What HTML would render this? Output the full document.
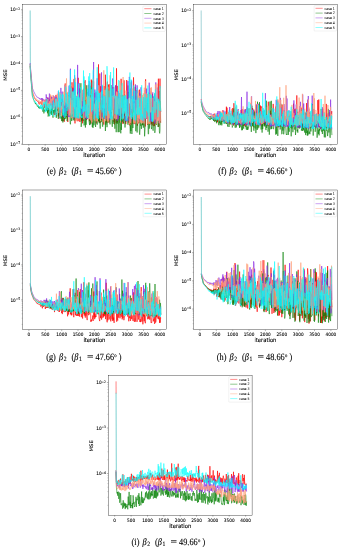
<!DOCTYPE html>
<html><head><meta charset="utf-8"><title>MSE vs iteration</title><style>
html,body{margin:0;padding:0;background:#fff;}
body{width:341px;height:550px;overflow:hidden;}
svg{display:block;}
text{text-rendering:geometricPrecision;}
.tk{font-family:"DejaVu Sans","Liberation Sans",sans-serif;font-size:4.7px;fill:#000;stroke:#000;stroke-width:0.08px;}
.sup{font-size:3.3px;}
.lb{font-family:"DejaVu Sans","Liberation Sans",sans-serif;font-size:5.8px;fill:#000;stroke:#000;stroke-width:0.12px;}
.lg{font-family:"DejaVu Sans","Liberation Sans",sans-serif;font-size:3.5px;fill:#111;stroke:#111;stroke-width:0.05px;}
.cap{font-family:"Liberation Serif",serif;font-size:9.6px;fill:#000;stroke:#000;stroke-width:0.12px;}
.it{font-style:italic;}
.deg{font-size:8px;}
.sub{font-size:6.6px;}
</style></head>
<body><svg width="341" height="550" viewBox="0 0 341 550">
<rect width="341" height="550" fill="#fff"/>
<filter id="soft" x="-5%" y="-5%" width="110%" height="110%"><feGaussianBlur stdDeviation="0.3"/></filter>
<clipPath id="clipe"><rect x="22.3" y="4.6" width="143.9" height="139.8"/></clipPath><g clip-path="url(#clipe)"><g filter="url(#soft)">
<line x1="30.15" y1="10.5" x2="30.32" y2="64" stroke="#33b5b5" stroke-opacity="0.75" stroke-width="0.8"/>
<polyline points="30.1,64.0 30.5,70.0 30.8,73.9 31.1,77.7 31.5,81.6 31.8,85.4 32.1,89.3 32.4,92.3 32.8,93.2 33.1,94.2 33.4,95.2 33.7,96.1 34.1,96.8 34.4,97.5 34.7,98.5 35.1,98.6 35.4,98.9 35.7,99.6 36.0,100.1 36.4,101.0 36.7,100.7 37.0,101.1 37.3,101.2 37.7,101.4 38.0,101.3 38.3,101.4 38.7,103.3 39.0,103.2 39.3,104.4 39.6,103.8 40.0,101.8 40.3,102.9 40.6,101.8 40.9,103.7 41.3,102.5 41.6,104.6 41.9,99.7 42.3,104.5 42.6,105.2 42.9,107.0 43.2,104.5 43.6,104.5 43.9,104.7 44.2,103.9 44.5,107.8 44.9,104.0 45.2,102.0 45.5,101.7 45.9,103.6 46.2,99.1 46.5,106.8 46.8,109.7 47.2,105.4 47.5,109.9 47.8,97.5 48.1,111.3 48.5,107.1 48.8,100.8 49.1,107.1 49.4,99.5 49.8,98.7 50.1,105.6 50.4,99.3 50.8,95.6 51.1,101.9 51.4,111.8 51.7,103.8 52.1,99.6 52.4,100.0 52.7,107.1 53.0,100.3 53.4,97.3 53.7,97.6 54.0,97.9 54.4,115.1 54.7,98.0 55.0,114.8 55.3,114.2 55.7,113.5 56.0,94.9 56.3,114.3 56.6,98.3 57.0,111.2 57.3,98.0 57.6,100.4 58.0,107.6 58.3,116.4 58.6,110.1 58.9,106.8 59.3,118.4 59.6,107.4 59.9,114.9 60.2,94.6 60.6,98.4 60.9,109.2 61.2,100.1 61.6,112.8 61.9,98.9 62.2,112.4 62.5,121.1 62.9,113.5 63.2,112.0 63.5,107.1 63.8,115.7 64.2,121.8 64.5,113.8 64.8,97.3 65.2,83.5 65.5,95.4 65.8,88.4 66.1,103.2 66.5,115.3 66.8,116.8 67.1,93.2 67.4,115.5 67.8,122.0 68.1,113.3 68.4,95.2 68.8,112.3 69.1,108.0 69.4,98.5 69.7,104.4 70.1,89.8 70.4,96.8 70.7,105.0 71.0,86.0 71.4,115.0 71.7,118.2 72.0,82.3 72.3,112.5 72.7,87.7 73.0,99.4 73.3,111.7 73.7,91.9 74.0,78.9 74.3,116.6 74.6,92.1 75.0,123.4 75.3,89.8 75.6,98.9 75.9,115.8 76.3,109.8 76.6,118.9 76.9,120.4 77.3,102.0 77.6,96.1 77.9,121.3 78.2,77.8 78.6,94.3 78.9,120.5 79.2,88.2 79.5,102.8 79.9,122.0 80.2,116.8 80.5,110.0 80.9,104.1 81.2,101.1 81.5,120.7 81.8,113.8 82.2,104.7 82.5,123.3 82.8,112.4 83.1,121.0 83.5,88.7 83.8,102.3 84.1,113.6 84.5,81.8 84.8,89.2 85.1,80.2 85.4,105.3 85.8,118.9 86.1,111.0 86.4,116.6 86.7,119.9 87.1,96.4 87.4,118.9 87.7,118.0 88.1,108.6 88.4,84.8 88.7,108.0 89.0,96.3 89.4,121.2 89.7,116.5 90.0,104.8 90.3,113.2 90.7,85.7 91.0,123.6 91.3,79.6 91.6,98.5 92.0,80.5 92.3,95.0 92.6,111.2 93.0,93.0 93.3,92.7 93.6,81.3 93.9,113.6 94.3,110.3 94.6,119.4 94.9,93.2 95.2,94.5 95.6,108.4 95.9,115.5 96.2,123.5 96.6,115.8 96.9,105.8 97.2,111.9 97.5,112.2 97.9,99.8 98.2,118.5 98.5,64.4 98.8,121.8 99.2,94.8 99.5,104.6 99.8,73.5 100.2,122.8 100.5,86.3 100.8,89.8 101.1,117.8 101.5,119.7 101.8,117.7 102.1,95.4 102.4,121.8 102.8,93.9 103.1,101.6 103.4,110.1 103.8,124.6 104.1,86.0 104.4,116.7 104.7,116.9 105.1,93.6 105.4,74.7 105.7,94.9 106.0,121.6 106.4,114.8 106.7,122.6 107.0,100.8 107.4,81.6 107.7,86.9 108.0,122.4 108.3,112.9 108.7,84.6 109.0,122.5 109.3,84.2 109.6,98.9 110.0,110.1 110.3,117.4 110.6,111.5 110.9,112.1 111.3,85.3 111.6,113.1 111.9,100.2 112.3,110.2 112.6,101.2 112.9,87.0 113.2,99.0 113.6,103.8 113.9,121.8 114.2,98.6 114.5,124.4 114.9,107.2 115.2,87.8 115.5,85.7 115.9,89.4 116.2,123.2 116.5,68.3 116.8,97.5 117.2,85.9 117.5,122.5 117.8,92.8 118.1,117.3 118.5,108.2 118.8,107.6 119.1,105.2 119.5,117.0 119.8,97.3 120.1,95.1 120.4,122.2 120.8,115.9 121.1,78.8 121.4,97.1 121.7,94.8 122.1,112.6 122.4,120.3 122.7,123.0 123.1,123.9 123.4,108.5 123.7,102.6 124.0,80.3 124.4,93.4 124.7,115.8 125.0,108.7 125.3,110.2 125.7,124.1 126.0,122.3 126.3,107.6 126.7,80.0 127.0,113.1 127.3,109.6 127.6,101.0 128.0,85.5 128.3,100.9 128.6,122.8 128.9,123.2 129.3,103.5 129.6,125.3 129.9,113.1 130.3,106.4 130.6,122.8 130.9,124.8 131.2,82.3 131.6,92.7 131.9,117.9 132.2,99.7 132.5,104.3 132.9,123.9 133.2,105.3 133.5,77.4 133.8,87.6 134.2,100.7 134.5,111.6 134.8,124.1 135.2,86.9 135.5,100.3 135.8,96.2 136.1,108.6 136.5,90.1 136.8,119.0 137.1,96.3 137.4,125.7 137.8,108.1 138.1,119.7 138.4,123.3 138.8,123.1 139.1,114.2 139.4,89.6 139.7,91.3 140.1,122.7 140.4,93.7 140.7,111.9 141.0,94.0 141.4,106.1 141.7,112.1 142.0,122.0 142.4,102.6 142.7,124.9 143.0,123.4 143.3,115.6 143.7,111.5 144.0,102.9 144.3,102.6 144.6,100.1 145.0,103.7 145.3,126.5 145.6,79.3 146.0,110.8 146.3,117.9 146.6,118.8 146.9,93.9 147.3,102.5 147.6,124.9 147.9,103.2 148.2,104.4 148.6,119.8 148.9,119.6 149.2,93.5 149.6,115.4 149.9,124.6 150.2,99.1 150.5,106.2 150.9,101.6 151.2,109.8 151.5,124.1 151.8,107.6 152.2,125.4 152.5,94.0 152.8,112.0 153.1,101.1 153.5,96.7 153.8,126.2 154.1,100.6 154.5,126.1 154.8,93.7 155.1,106.4 155.4,111.4 155.8,121.8 156.1,124.2 156.4,102.4 156.7,109.9 157.1,113.2 157.4,116.9 157.7,118.1 158.1,105.5 158.4,78.7 158.7,126.7 159.0,125.5 159.4,91.0 159.7,103.0 160.0,78.6 160.3,111.8 160.7,122.9" fill="none" stroke="#ff0000" stroke-opacity="0.8" stroke-width="0.8" stroke-linejoin="round"/>
<polyline points="30.1,66.0 30.5,73.0 30.8,77.1 31.1,81.1 31.5,85.1 31.8,89.1 32.1,93.2 32.4,96.3 32.8,97.2 33.1,98.2 33.4,99.2 33.7,100.1 34.1,100.7 34.4,102.0 34.7,102.3 35.1,102.6 35.4,103.9 35.7,103.2 36.0,104.0 36.4,104.9 36.7,104.7 37.0,105.3 37.3,106.2 37.7,105.7 38.0,106.9 38.3,106.2 38.7,107.9 39.0,106.8 39.3,108.6 39.6,107.4 40.0,106.6 40.3,108.2 40.6,108.2 40.9,108.1 41.3,108.0 41.6,108.0 41.9,107.2 42.3,109.4 42.6,110.5 42.9,111.7 43.2,107.2 43.6,109.9 43.9,113.4 44.2,111.4 44.5,109.8 44.9,111.4 45.2,106.7 45.5,106.5 45.9,106.0 46.2,103.6 46.5,110.8 46.8,108.2 47.2,108.6 47.5,113.3 47.8,108.5 48.1,116.5 48.5,115.1 48.8,106.9 49.1,112.7 49.4,116.2 49.8,114.2 50.1,109.4 50.4,113.4 50.8,113.3 51.1,111.6 51.4,114.9 51.7,108.9 52.1,110.8 52.4,104.3 52.7,115.5 53.0,117.7 53.4,110.1 53.7,112.8 54.0,113.5 54.4,107.9 54.7,111.5 55.0,105.8 55.3,112.0 55.7,111.7 56.0,108.0 56.3,117.8 56.6,111.5 57.0,110.8 57.3,109.0 57.6,111.0 58.0,111.5 58.3,118.9 58.6,108.5 58.9,110.0 59.3,113.3 59.6,109.4 59.9,101.0 60.2,113.2 60.6,117.4 60.9,118.6 61.2,116.5 61.6,121.1 61.9,114.5 62.2,108.8 62.5,118.6 62.9,122.5 63.2,113.5 63.5,104.4 63.8,121.1 64.2,111.9 64.5,115.5 64.8,119.3 65.2,111.9 65.5,94.4 65.8,118.7 66.1,117.4 66.5,108.2 66.8,116.6 67.1,121.1 67.4,118.9 67.8,114.1 68.1,115.5 68.4,106.6 68.8,104.6 69.1,113.3 69.4,115.5 69.7,109.5 70.1,122.6 70.4,124.3 70.7,120.5 71.0,114.4 71.4,112.4 71.7,121.0 72.0,113.5 72.3,115.3 72.7,107.6 73.0,117.1 73.3,120.3 73.7,115.4 74.0,105.6 74.3,118.1 74.6,118.1 75.0,120.7 75.3,114.7 75.6,116.4 75.9,98.0 76.3,118.0 76.6,118.5 76.9,113.7 77.3,113.9 77.6,96.2 77.9,91.9 78.2,92.8 78.6,118.2 78.9,109.5 79.2,114.9 79.5,108.7 79.9,109.8 80.2,113.5 80.5,112.0 80.9,83.2 81.2,126.9 81.5,122.7 81.8,113.8 82.2,120.4 82.5,99.6 82.8,96.9 83.1,111.1 83.5,114.3 83.8,123.6 84.1,125.4 84.5,123.9 84.8,84.6 85.1,113.8 85.4,127.5 85.8,100.1 86.1,124.8 86.4,118.2 86.7,85.3 87.1,114.1 87.4,117.0 87.7,113.2 88.1,117.4 88.4,116.3 88.7,115.0 89.0,121.2 89.4,124.0 89.7,125.1 90.0,112.0 90.3,124.5 90.7,114.7 91.0,87.5 91.3,109.5 91.6,102.9 92.0,115.7 92.3,127.1 92.6,98.8 93.0,127.9 93.3,114.9 93.6,111.6 93.9,125.3 94.3,121.4 94.6,100.5 94.9,111.8 95.2,123.2 95.6,127.0 95.9,119.8 96.2,118.2 96.6,112.9 96.9,111.5 97.2,124.7 97.5,96.0 97.9,119.1 98.2,116.3 98.5,121.0 98.8,115.7 99.2,123.2 99.5,120.4 99.8,118.0 100.2,128.6 100.5,96.8 100.8,117.7 101.1,96.6 101.5,118.7 101.8,122.1 102.1,111.1 102.4,126.4 102.8,126.7 103.1,115.9 103.4,117.3 103.8,118.5 104.1,113.2 104.4,104.3 104.7,115.2 105.1,99.5 105.4,131.0 105.7,106.7 106.0,124.7 106.4,119.2 106.7,102.7 107.0,127.2 107.4,118.0 107.7,118.5 108.0,88.9 108.3,122.2 108.7,114.2 109.0,115.5 109.3,117.1 109.6,117.3 110.0,124.4 110.3,111.2 110.6,110.1 110.9,112.8 111.3,107.8 111.6,115.0 111.9,123.3 112.3,126.8 112.6,117.4 112.9,116.4 113.2,123.9 113.6,117.6 113.9,107.6 114.2,116.6 114.5,117.7 114.9,128.7 115.2,121.0 115.5,113.1 115.9,110.9 116.2,132.2 116.5,112.3 116.8,116.6 117.2,123.9 117.5,102.6 117.8,112.1 118.1,132.2 118.5,112.6 118.8,108.4 119.1,132.1 119.5,115.5 119.8,122.7 120.1,112.1 120.4,126.6 120.8,133.3 121.1,106.2 121.4,129.9 121.7,118.9 122.1,121.6 122.4,117.5 122.7,94.9 123.1,96.3 123.4,121.9 123.7,123.3 124.0,119.9 124.4,110.6 124.7,120.9 125.0,127.5 125.3,123.2 125.7,120.4 126.0,111.4 126.3,117.6 126.7,116.2 127.0,114.2 127.3,117.2 127.6,119.3 128.0,124.8 128.3,91.9 128.6,121.3 128.9,117.3 129.3,120.2 129.6,117.0 129.9,124.7 130.3,133.6 130.6,125.2 130.9,131.0 131.2,124.6 131.6,119.2 131.9,134.0 132.2,125.8 132.5,105.5 132.9,128.0 133.2,112.3 133.5,105.4 133.8,114.6 134.2,106.8 134.5,112.9 134.8,110.9 135.2,113.4 135.5,115.9 135.8,131.2 136.1,125.5 136.5,110.3 136.8,115.9 137.1,132.5 137.4,120.3 137.8,95.5 138.1,113.6 138.4,119.7 138.8,110.8 139.1,116.0 139.4,132.1 139.7,134.7 140.1,128.1 140.4,119.8 140.7,125.6 141.0,124.5 141.4,128.9 141.7,123.1 142.0,115.9 142.4,125.3 142.7,113.7 143.0,116.6 143.3,127.7 143.7,117.7 144.0,108.1 144.3,122.7 144.6,136.3 145.0,129.7 145.3,113.4 145.6,99.9 146.0,114.7 146.3,116.3 146.6,115.3 146.9,103.1 147.3,117.1 147.6,122.2 147.9,122.1 148.2,134.2 148.6,133.8 148.9,107.6 149.2,128.7 149.6,124.7 149.9,122.7 150.2,116.1 150.5,113.0 150.9,103.3 151.2,126.3 151.5,129.1 151.8,126.9 152.2,114.7 152.5,113.1 152.8,128.6 153.1,130.7 153.5,126.2 153.8,108.5 154.1,117.4 154.5,109.7 154.8,132.9 155.1,130.6 155.4,125.5 155.8,124.3 156.1,110.7 156.4,125.0 156.7,102.3 157.1,108.2 157.4,118.7 157.7,117.2 158.1,127.0 158.4,118.9 158.7,117.0 159.0,118.0 159.4,132.1 159.7,133.4 160.0,130.6 160.3,101.1 160.7,112.0" fill="none" stroke="#008000" stroke-opacity="0.72" stroke-width="0.8" stroke-linejoin="round"/>
<polyline points="30.1,63.0 30.5,68.0 30.8,71.5 31.1,75.0 31.5,78.5 31.8,82.0 32.1,85.5 32.4,88.2 32.8,89.1 33.1,89.9 33.4,90.7 33.7,91.5 34.1,92.1 34.4,93.1 34.7,93.4 35.1,94.4 35.4,94.7 35.7,94.9 36.0,95.7 36.4,96.1 36.7,96.8 37.0,97.4 37.3,97.3 37.7,97.5 38.0,97.8 38.3,97.8 38.7,97.8 39.0,97.8 39.3,98.6 39.6,99.1 40.0,98.2 40.3,99.4 40.6,99.1 40.9,99.5 41.3,100.0 41.6,98.2 41.9,99.9 42.3,98.2 42.6,101.2 42.9,99.5 43.2,99.0 43.6,99.1 43.9,101.2 44.2,99.8 44.5,101.7 44.9,101.3 45.2,100.4 45.5,104.9 45.9,102.9 46.2,94.4 46.5,98.2 46.8,97.3 47.2,98.9 47.5,103.5 47.8,104.4 48.1,97.8 48.5,104.6 48.8,101.2 49.1,101.4 49.4,93.6 49.8,101.0 50.1,102.9 50.4,105.2 50.8,101.3 51.1,104.8 51.4,96.9 51.7,106.8 52.1,97.3 52.4,103.5 52.7,97.4 53.0,108.3 53.4,95.6 53.7,105.1 54.0,100.1 54.4,99.6 54.7,96.5 55.0,98.8 55.3,97.6 55.7,106.5 56.0,98.3 56.3,109.2 56.6,96.8 57.0,102.2 57.3,98.3 57.6,106.5 58.0,99.1 58.3,91.5 58.6,93.1 58.9,103.0 59.3,104.3 59.6,102.4 59.9,98.1 60.2,112.6 60.6,97.1 60.9,87.9 61.2,111.9 61.6,106.3 61.9,102.3 62.2,91.6 62.5,107.3 62.9,100.6 63.2,102.6 63.5,117.0 63.8,113.7 64.2,113.1 64.5,108.0 64.8,111.7 65.2,85.0 65.5,112.3 65.8,107.6 66.1,94.3 66.5,93.0 66.8,100.6 67.1,106.9 67.4,104.4 67.8,102.6 68.1,99.5 68.4,116.9 68.8,94.0 69.1,85.7 69.4,115.1 69.7,116.8 70.1,89.3 70.4,68.7 70.7,94.3 71.0,111.2 71.4,112.0 71.7,114.9 72.0,96.9 72.3,104.2 72.7,102.6 73.0,110.4 73.3,88.2 73.7,118.3 74.0,117.6 74.3,98.9 74.6,75.2 75.0,109.8 75.3,105.1 75.6,101.8 75.9,109.3 76.3,106.9 76.6,112.9 76.9,95.8 77.3,118.9 77.6,64.9 77.9,114.1 78.2,97.2 78.6,90.8 78.9,117.6 79.2,83.1 79.5,97.4 79.9,89.0 80.2,93.2 80.5,105.8 80.9,108.3 81.2,105.7 81.5,115.0 81.8,106.4 82.2,93.3 82.5,113.8 82.8,90.1 83.1,111.2 83.5,99.9 83.8,115.9 84.1,115.9 84.5,105.5 84.8,117.8 85.1,117.1 85.4,105.0 85.8,119.2 86.1,118.9 86.4,106.4 86.7,114.0 87.1,118.9 87.4,117.2 87.7,92.0 88.1,113.8 88.4,89.4 88.7,101.6 89.0,80.9 89.4,81.7 89.7,114.8 90.0,107.4 90.3,100.5 90.7,102.6 91.0,97.2 91.3,100.3 91.6,100.3 92.0,113.2 92.3,96.0 92.6,114.4 93.0,87.3 93.3,100.3 93.6,62.0 93.9,118.6 94.3,116.7 94.6,104.8 94.9,89.5 95.2,116.0 95.6,111.4 95.9,91.9 96.2,102.5 96.6,116.9 96.9,83.1 97.2,78.2 97.5,115.7 97.9,93.5 98.2,114.9 98.5,85.1 98.8,106.9 99.2,109.1 99.5,97.7 99.8,95.7 100.2,102.5 100.5,93.6 100.8,98.3 101.1,93.1 101.5,72.4 101.8,118.7 102.1,99.4 102.4,86.3 102.8,94.3 103.1,110.4 103.4,98.2 103.8,116.1 104.1,100.9 104.4,118.6 104.7,98.3 105.1,113.4 105.4,96.6 105.7,108.4 106.0,105.8 106.4,112.8 106.7,119.1 107.0,118.8 107.4,115.2 107.7,97.7 108.0,101.0 108.3,111.9 108.7,97.2 109.0,99.5 109.3,100.3 109.6,119.7 110.0,119.9 110.3,107.6 110.6,116.4 110.9,113.0 111.3,103.0 111.6,98.8 111.9,105.3 112.3,106.2 112.6,78.5 112.9,83.1 113.2,109.4 113.6,87.3 113.9,103.7 114.2,103.5 114.5,116.5 114.9,118.4 115.2,95.8 115.5,112.4 115.9,85.0 116.2,91.0 116.5,100.3 116.8,96.8 117.2,120.7 117.5,118.2 117.8,105.8 118.1,91.2 118.5,118.8 118.8,104.3 119.1,105.8 119.5,92.9 119.8,115.7 120.1,102.4 120.4,116.1 120.8,110.1 121.1,110.2 121.4,97.7 121.7,106.5 122.1,117.0 122.4,115.3 122.7,117.6 123.1,117.8 123.4,107.0 123.7,98.0 124.0,96.6 124.4,96.8 124.7,106.7 125.0,117.7 125.3,120.8 125.7,110.3 126.0,121.1 126.3,102.5 126.7,121.5 127.0,95.7 127.3,114.0 127.6,86.1 128.0,81.0 128.3,120.9 128.6,110.6 128.9,96.0 129.3,76.9 129.6,79.8 129.9,97.6 130.3,88.5 130.6,103.5 130.9,121.6 131.2,117.6 131.6,80.6 131.9,89.7 132.2,111.7 132.5,98.9 132.9,101.3 133.2,106.7 133.5,90.9 133.8,108.4 134.2,104.5 134.5,110.6 134.8,101.1 135.2,121.8 135.5,84.4 135.8,95.7 136.1,115.7 136.5,97.5 136.8,108.8 137.1,85.3 137.4,89.5 137.8,108.8 138.1,121.0 138.4,120.8 138.8,113.2 139.1,104.8 139.4,116.1 139.7,92.8 140.1,120.2 140.4,104.1 140.7,108.3 141.0,87.3 141.4,121.0 141.7,111.6 142.0,105.0 142.4,100.8 142.7,121.1 143.0,118.2 143.3,97.2 143.7,122.2 144.0,97.6 144.3,115.8 144.6,120.6 145.0,90.2 145.3,97.6 145.6,105.0 146.0,115.7 146.3,117.8 146.6,88.6 146.9,110.7 147.3,113.3 147.6,119.6 147.9,99.0 148.2,102.7 148.6,117.2 148.9,96.5 149.2,82.7 149.6,99.9 149.9,108.6 150.2,106.5 150.5,120.3 150.9,91.5 151.2,121.9 151.5,101.9 151.8,121.4 152.2,113.5 152.5,93.1 152.8,92.4 153.1,113.3 153.5,115.3 153.8,97.8 154.1,109.9 154.5,95.0 154.8,123.5 155.1,111.6 155.4,105.7 155.8,82.4 156.1,98.8 156.4,121.9 156.7,120.0 157.1,104.5 157.4,87.5 157.7,97.5 158.1,99.9 158.4,120.7 158.7,107.7 159.0,118.9 159.4,123.3 159.7,119.6 160.0,110.1 160.3,110.4 160.7,111.6" fill="none" stroke="#8a2be2" stroke-opacity="0.8" stroke-width="0.8" stroke-linejoin="round"/>
<polyline points="30.1,64.0 30.5,69.0 30.8,72.9 31.1,76.7 31.5,80.6 31.8,84.4 32.1,88.3 32.4,91.3 32.8,92.2 33.1,93.2 33.4,94.2 33.7,95.0 34.1,95.7 34.4,97.0 34.7,97.7 35.1,97.8 35.4,98.9 35.7,98.9 36.0,98.5 36.4,98.9 36.7,99.7 37.0,100.2 37.3,99.7 37.7,100.6 38.0,100.5 38.3,100.5 38.7,100.6 39.0,100.2 39.3,101.3 39.6,101.5 40.0,103.7 40.3,102.4 40.6,102.2 40.9,104.1 41.3,103.6 41.6,99.7 41.9,101.1 42.3,106.1 42.6,104.5 42.9,103.4 43.2,105.7 43.6,100.0 43.9,99.6 44.2,100.2 44.5,103.6 44.9,101.5 45.2,100.4 45.5,102.6 45.9,109.3 46.2,105.4 46.5,101.5 46.8,104.1 47.2,103.2 47.5,107.0 47.8,99.0 48.1,102.4 48.5,108.2 48.8,103.2 49.1,105.7 49.4,101.3 49.8,106.0 50.1,109.3 50.4,94.4 50.8,103.8 51.1,101.1 51.4,98.8 51.7,108.4 52.1,106.0 52.4,97.4 52.7,100.6 53.0,95.1 53.4,98.7 53.7,99.6 54.0,97.2 54.4,109.5 54.7,105.6 55.0,106.5 55.3,100.3 55.7,99.2 56.0,105.6 56.3,99.1 56.6,112.9 57.0,100.7 57.3,93.7 57.6,101.5 58.0,101.2 58.3,106.8 58.6,101.5 58.9,113.1 59.3,92.2 59.6,104.4 59.9,106.3 60.2,110.5 60.6,93.3 60.9,97.7 61.2,116.2 61.6,106.0 61.9,106.2 62.2,109.2 62.5,102.3 62.9,109.9 63.2,113.0 63.5,94.9 63.8,91.7 64.2,96.4 64.5,91.9 64.8,105.5 65.2,84.5 65.5,102.0 65.8,94.9 66.1,103.2 66.5,78.4 66.8,94.1 67.1,104.4 67.4,91.9 67.8,107.1 68.1,95.7 68.4,101.1 68.8,111.3 69.1,115.7 69.4,97.1 69.7,115.4 70.1,112.3 70.4,97.9 70.7,111.6 71.0,84.6 71.4,111.4 71.7,118.2 72.0,99.9 72.3,114.6 72.7,92.3 73.0,98.1 73.3,92.2 73.7,117.3 74.0,110.0 74.3,95.0 74.6,108.6 75.0,100.8 75.3,98.7 75.6,77.8 75.9,121.4 76.3,117.4 76.6,107.3 76.9,120.4 77.3,120.4 77.6,94.6 77.9,116.0 78.2,105.8 78.6,92.7 78.9,119.6 79.2,98.5 79.5,117.5 79.9,100.5 80.2,107.7 80.5,101.6 80.9,93.2 81.2,104.0 81.5,108.7 81.8,89.8 82.2,89.5 82.5,95.3 82.8,100.7 83.1,100.3 83.5,110.2 83.8,119.2 84.1,107.6 84.5,101.3 84.8,82.7 85.1,91.5 85.4,117.6 85.8,116.5 86.1,115.1 86.4,99.5 86.7,96.6 87.1,110.5 87.4,94.6 87.7,118.0 88.1,96.0 88.4,104.7 88.7,96.4 89.0,119.3 89.4,96.3 89.7,118.3 90.0,118.9 90.3,97.7 90.7,120.4 91.0,100.0 91.3,89.4 91.6,116.6 92.0,122.4 92.3,96.6 92.6,98.3 93.0,101.0 93.3,78.5 93.6,100.0 93.9,103.3 94.3,120.6 94.6,103.7 94.9,113.6 95.2,113.3 95.6,101.4 95.9,101.7 96.2,121.2 96.6,99.8 96.9,103.0 97.2,114.8 97.5,121.3 97.9,90.0 98.2,96.6 98.5,108.0 98.8,85.3 99.2,111.6 99.5,99.7 99.8,98.0 100.2,113.0 100.5,121.1 100.8,92.3 101.1,94.1 101.5,100.1 101.8,97.6 102.1,118.6 102.4,117.5 102.8,122.1 103.1,120.6 103.4,107.5 103.8,70.3 104.1,105.8 104.4,108.4 104.7,89.9 105.1,95.1 105.4,90.2 105.7,121.2 106.0,117.1 106.4,106.1 106.7,104.6 107.0,82.7 107.4,112.7 107.7,121.5 108.0,86.8 108.3,121.7 108.7,111.0 109.0,113.1 109.3,118.2 109.6,105.7 110.0,75.3 110.3,86.8 110.6,100.0 110.9,107.4 111.3,112.4 111.6,109.4 111.9,95.8 112.3,95.9 112.6,114.6 112.9,120.2 113.2,115.9 113.6,95.5 113.9,114.8 114.2,115.5 114.5,118.4 114.9,116.1 115.2,110.3 115.5,95.9 115.9,119.4 116.2,106.6 116.5,91.6 116.8,119.1 117.2,92.3 117.5,109.8 117.8,113.8 118.1,103.8 118.5,103.9 118.8,98.4 119.1,108.7 119.5,97.4 119.8,81.0 120.1,93.0 120.4,122.6 120.8,100.5 121.1,85.5 121.4,108.3 121.7,108.9 122.1,113.7 122.4,113.5 122.7,102.0 123.1,77.0 123.4,118.6 123.7,113.5 124.0,107.9 124.4,111.0 124.7,99.5 125.0,111.9 125.3,95.3 125.7,116.2 126.0,90.5 126.3,105.5 126.7,118.8 127.0,118.3 127.3,117.1 127.6,117.2 128.0,114.2 128.3,110.7 128.6,103.4 128.9,98.4 129.3,124.4 129.6,118.5 129.9,117.6 130.3,115.0 130.6,122.8 130.9,123.2 131.2,99.1 131.6,109.1 131.9,100.9 132.2,88.6 132.5,113.2 132.9,115.3 133.2,118.3 133.5,112.7 133.8,122.7 134.2,103.3 134.5,113.6 134.8,122.5 135.2,123.2 135.5,120.7 135.8,120.3 136.1,99.7 136.5,113.4 136.8,113.9 137.1,107.8 137.4,123.6 137.8,93.1 138.1,118.0 138.4,90.3 138.8,122.6 139.1,106.7 139.4,118.8 139.7,95.8 140.1,99.3 140.4,109.7 140.7,122.7 141.0,91.1 141.4,123.4 141.7,93.6 142.0,116.2 142.4,95.1 142.7,123.2 143.0,118.8 143.3,104.8 143.7,93.4 144.0,123.6 144.3,87.7 144.6,107.7 145.0,104.2 145.3,81.0 145.6,102.9 146.0,117.9 146.3,93.4 146.6,101.2 146.9,112.8 147.3,124.2 147.6,119.2 147.9,119.5 148.2,94.4 148.6,123.6 148.9,96.7 149.2,121.5 149.6,123.9 149.9,93.9 150.2,112.4 150.5,87.8 150.9,98.5 151.2,112.3 151.5,87.4 151.8,114.5 152.2,117.7 152.5,119.3 152.8,119.4 153.1,97.8 153.5,109.7 153.8,121.5 154.1,112.0 154.5,101.3 154.8,112.9 155.1,119.5 155.4,84.5 155.8,113.9 156.1,116.6 156.4,124.3 156.7,123.7 157.1,83.6 157.4,110.2 157.7,121.0 158.1,99.8 158.4,120.5 158.7,102.2 159.0,123.2 159.4,123.2 159.7,103.2 160.0,100.5 160.3,88.3 160.7,121.1" fill="none" stroke="#ffa07a" stroke-opacity="0.8" stroke-width="0.8" stroke-linejoin="round"/>
<polyline points="30.1,64.0 30.5,72.0 30.8,76.0 31.1,80.1 31.5,84.1 31.8,88.1 32.1,92.2 32.4,95.3 32.8,96.2 33.1,97.2 33.4,98.2 33.7,99.1 34.1,100.0 34.4,100.4 34.7,101.2 35.1,102.5 35.4,101.6 35.7,103.1 36.0,102.5 36.4,103.0 36.7,104.1 37.0,104.4 37.3,104.0 37.7,104.3 38.0,105.9 38.3,105.1 38.7,106.8 39.0,106.3 39.3,107.9 39.6,108.0 40.0,108.1 40.3,108.7 40.6,104.7 40.9,108.5 41.3,108.2 41.6,104.8 41.9,109.3 42.3,107.5 42.6,110.3 42.9,104.9 43.2,106.8 43.6,102.4 43.9,104.8 44.2,102.8 44.5,102.2 44.9,104.3 45.2,111.5 45.5,101.5 45.9,112.2 46.2,108.8 46.5,107.6 46.8,99.0 47.2,110.4 47.5,105.9 47.8,108.8 48.1,110.1 48.5,103.8 48.8,104.8 49.1,107.8 49.4,104.3 49.8,116.1 50.1,114.8 50.4,112.2 50.8,102.9 51.1,111.2 51.4,105.1 51.7,105.0 52.1,109.6 52.4,115.7 52.7,114.7 53.0,102.4 53.4,100.4 53.7,107.1 54.0,102.6 54.4,109.9 54.7,110.5 55.0,116.9 55.3,114.8 55.7,102.2 56.0,98.0 56.3,100.8 56.6,114.9 57.0,112.4 57.3,101.6 57.6,104.9 58.0,107.5 58.3,100.4 58.6,90.3 58.9,98.3 59.3,107.3 59.6,97.7 59.9,117.8 60.2,93.6 60.6,101.1 60.9,107.5 61.2,99.1 61.6,102.0 61.9,95.1 62.2,96.3 62.5,93.7 62.9,115.5 63.2,94.6 63.5,115.3 63.8,109.2 64.2,108.3 64.5,117.9 64.8,116.9 65.2,101.8 65.5,93.8 65.8,86.7 66.1,116.0 66.5,93.8 66.8,97.6 67.1,110.9 67.4,104.6 67.8,106.2 68.1,100.7 68.4,92.4 68.8,97.5 69.1,109.3 69.4,85.0 69.7,102.8 70.1,97.9 70.4,70.0 70.7,86.2 71.0,90.2 71.4,88.4 71.7,109.0 72.0,116.7 72.3,101.3 72.7,91.4 73.0,102.1 73.3,107.2 73.7,102.1 74.0,90.6 74.3,117.3 74.6,69.4 75.0,106.4 75.3,116.8 75.6,82.3 75.9,118.2 76.3,101.0 76.6,96.9 76.9,111.1 77.3,117.9 77.6,96.5 77.9,95.7 78.2,117.8 78.6,83.6 78.9,118.7 79.2,97.3 79.5,112.6 79.9,108.6 80.2,105.2 80.5,116.8 80.9,87.2 81.2,114.5 81.5,118.1 81.8,115.9 82.2,117.9 82.5,106.6 82.8,107.5 83.1,112.4 83.5,70.5 83.8,112.1 84.1,76.4 84.5,111.1 84.8,101.4 85.1,104.5 85.4,107.7 85.8,114.7 86.1,116.3 86.4,104.1 86.7,116.2 87.1,118.4 87.4,91.9 87.7,88.7 88.1,118.2 88.4,85.9 88.7,76.4 89.0,113.6 89.4,109.4 89.7,73.1 90.0,92.6 90.3,94.8 90.7,82.6 91.0,98.9 91.3,93.8 91.6,111.9 92.0,102.9 92.3,87.4 92.6,110.3 93.0,72.7 93.3,69.6 93.6,106.1 93.9,119.2 94.3,119.2 94.6,111.0 94.9,115.5 95.2,97.6 95.6,108.9 95.9,90.4 96.2,112.0 96.6,117.4 96.9,118.1 97.2,67.2 97.5,118.4 97.9,91.1 98.2,109.8 98.5,119.2 98.8,92.9 99.2,101.9 99.5,93.1 99.8,100.8 100.2,104.5 100.5,106.1 100.8,109.5 101.1,110.2 101.5,90.9 101.8,104.8 102.1,112.5 102.4,84.8 102.8,108.2 103.1,104.6 103.4,117.3 103.8,95.7 104.1,118.5 104.4,96.6 104.7,111.5 105.1,115.7 105.4,111.8 105.7,111.7 106.0,88.6 106.4,112.9 106.7,115.7 107.0,66.2 107.4,79.1 107.7,94.1 108.0,107.1 108.3,111.1 108.7,103.0 109.0,90.6 109.3,113.8 109.6,97.5 110.0,100.4 110.3,119.1 110.6,72.0 110.9,118.4 111.3,85.3 111.6,114.0 111.9,115.5 112.3,119.3 112.6,116.7 112.9,88.7 113.2,97.0 113.6,67.4 113.9,85.8 114.2,91.6 114.5,92.6 114.9,113.3 115.2,114.1 115.5,102.6 115.9,95.6 116.2,104.5 116.5,115.3 116.8,113.3 117.2,96.3 117.5,113.8 117.8,114.5 118.1,114.9 118.5,89.7 118.8,80.0 119.1,115.9 119.5,93.6 119.8,93.6 120.1,99.4 120.4,120.3 120.8,120.7 121.1,90.2 121.4,107.7 121.7,103.2 122.1,83.1 122.4,119.5 122.7,110.0 123.1,97.0 123.4,118.2 123.7,95.6 124.0,104.9 124.4,113.5 124.7,95.8 125.0,106.2 125.3,111.5 125.7,94.9 126.0,120.5 126.3,98.6 126.7,120.5 127.0,120.7 127.3,100.6 127.6,99.4 128.0,112.6 128.3,116.3 128.6,113.5 128.9,95.4 129.3,79.4 129.6,97.2 129.9,72.5 130.3,117.6 130.6,105.4 130.9,95.8 131.2,79.6 131.6,119.0 131.9,113.4 132.2,117.0 132.5,96.0 132.9,101.5 133.2,99.2 133.5,119.6 133.8,85.4 134.2,114.1 134.5,115.5 134.8,90.8 135.2,120.7 135.5,115.4 135.8,110.3 136.1,119.4 136.5,93.5 136.8,87.8 137.1,94.4 137.4,114.7 137.8,100.1 138.1,115.2 138.4,112.3 138.8,97.8 139.1,108.2 139.4,114.6 139.7,107.7 140.1,112.3 140.4,110.3 140.7,119.3 141.0,98.1 141.4,116.6 141.7,85.2 142.0,119.9 142.4,114.0 142.7,117.0 143.0,120.8 143.3,115.2 143.7,97.1 144.0,108.5 144.3,117.9 144.6,99.9 145.0,94.1 145.3,106.1 145.6,119.1 146.0,97.5 146.3,110.9 146.6,110.0 146.9,110.2 147.3,97.8 147.6,112.4 147.9,85.5 148.2,116.3 148.6,92.2 148.9,110.1 149.2,121.5 149.6,120.8 149.9,98.8 150.2,93.8 150.5,98.0 150.9,98.0 151.2,95.0 151.5,113.9 151.8,121.2 152.2,111.3 152.5,122.0 152.8,107.1 153.1,120.6 153.5,116.4 153.8,96.3 154.1,98.5 154.5,92.9 154.8,112.9 155.1,112.4 155.4,89.5 155.8,98.5 156.1,109.5 156.4,105.8 156.7,99.3 157.1,97.6 157.4,105.6 157.7,117.2 158.1,115.9 158.4,98.9 158.7,103.5 159.0,100.7 159.4,105.1 159.7,110.7 160.0,86.0 160.3,104.5 160.7,111.0" fill="none" stroke="#00ffff" stroke-opacity="0.68" stroke-width="0.8" stroke-linejoin="round"/>
</g></g>
<clipPath id="clipf"><rect x="193.3" y="4.2" width="144.1" height="140.1"/></clipPath><g clip-path="url(#clipf)"><g filter="url(#soft)">
<line x1="201.16" y1="10.5" x2="201.44" y2="100" stroke="#5ab0b8" stroke-opacity="0.7" stroke-width="0.8"/>
<polyline points="201.2,101.0 201.5,103.0 201.8,104.4 202.1,105.8 202.5,107.2 202.8,108.7 203.1,109.7 203.5,110.3 203.8,110.8 204.1,111.3 204.4,111.9 204.8,112.4 205.1,112.9 205.4,113.3 205.7,113.7 206.1,114.2 206.4,114.3 206.7,114.5 207.1,115.0 207.4,114.9 207.7,115.6 208.0,116.4 208.4,116.1 208.7,117.0 209.0,116.7 209.3,116.2 209.7,117.5 210.0,116.6 210.3,116.1 210.7,118.3 211.0,116.0 211.3,118.3 211.6,117.9 212.0,118.2 212.3,119.1 212.6,115.8 213.0,116.0 213.3,116.4 213.6,120.3 213.9,115.4 214.3,113.6 214.6,117.5 214.9,120.9 215.2,120.0 215.6,114.9 215.9,118.7 216.2,119.5 216.6,116.1 216.9,122.2 217.2,116.3 217.5,122.2 217.9,117.0 218.2,120.2 218.5,114.9 218.8,120.6 219.2,117.2 219.5,119.4 219.8,121.0 220.2,117.2 220.5,118.7 220.8,111.6 221.1,115.7 221.5,121.3 221.8,118.5 222.1,122.0 222.5,118.9 222.8,110.3 223.1,121.0 223.4,118.0 223.8,114.8 224.1,121.0 224.4,117.1 224.7,115.0 225.1,114.4 225.4,116.7 225.7,116.3 226.1,116.2 226.4,106.7 226.7,118.1 227.0,107.7 227.4,119.3 227.7,117.5 228.0,112.1 228.3,120.1 228.7,121.4 229.0,116.3 229.3,122.2 229.7,121.9 230.0,124.4 230.3,121.0 230.6,119.1 231.0,113.5 231.3,116.9 231.6,113.2 232.0,115.2 232.3,123.4 232.6,108.2 232.9,124.3 233.3,123.0 233.6,125.4 233.9,103.2 234.2,117.3 234.6,124.4 234.9,122.0 235.2,123.0 235.6,114.7 235.9,121.3 236.2,125.4 236.5,115.1 236.9,122.6 237.2,121.5 237.5,112.1 237.8,124.9 238.2,124.5 238.5,123.3 238.8,118.0 239.2,117.5 239.5,114.5 239.8,122.3 240.1,120.7 240.5,117.3 240.8,123.5 241.1,110.0 241.5,122.0 241.8,121.6 242.1,109.0 242.4,122.7 242.8,120.1 243.1,120.2 243.4,112.5 243.7,125.7 244.1,113.4 244.4,125.4 244.7,124.0 245.1,126.3 245.4,124.3 245.7,109.2 246.0,117.8 246.4,123.7 246.7,124.1 247.0,116.2 247.3,107.4 247.7,119.1 248.0,117.5 248.3,121.8 248.7,115.3 249.0,124.2 249.3,117.5 249.6,124.4 250.0,118.5 250.3,114.4 250.6,119.5 251.0,121.6 251.3,124.2 251.6,122.9 251.9,125.6 252.3,125.7 252.6,108.0 252.9,122.8 253.2,118.5 253.6,126.6 253.9,109.7 254.2,122.5 254.6,121.0 254.9,119.5 255.2,122.2 255.5,116.3 255.9,123.9 256.2,121.5 256.5,110.9 256.8,122.8 257.2,121.1 257.5,124.0 257.8,116.7 258.2,115.4 258.5,112.8 258.8,124.5 259.1,113.5 259.5,116.3 259.8,125.0 260.1,124.9 260.5,105.6 260.8,118.5 261.1,115.7 261.4,112.6 261.8,106.3 262.1,126.5 262.4,125.2 262.7,111.0 263.1,122.5 263.4,120.9 263.7,122.6 264.1,124.1 264.4,111.6 264.7,117.2 265.0,124.9 265.4,119.9 265.7,116.3 266.0,113.9 266.3,124.6 266.7,126.1 267.0,117.7 267.3,122.9 267.7,124.6 268.0,125.9 268.3,101.7 268.6,124.4 269.0,123.3 269.3,115.4 269.6,118.2 270.0,118.4 270.3,124.8 270.6,110.7 270.9,117.9 271.3,113.6 271.6,113.1 271.9,123.3 272.2,113.9 272.6,124.6 272.9,122.1 273.2,103.9 273.6,125.4 273.9,119.7 274.2,119.0 274.5,123.1 274.9,123.8 275.2,117.8 275.5,124.6 275.8,106.5 276.2,123.2 276.5,112.2 276.8,123.5 277.2,109.2 277.5,125.7 277.8,100.3 278.1,127.4 278.5,123.7 278.8,124.6 279.1,113.4 279.5,126.7 279.8,117.7 280.1,126.5 280.4,124.7 280.8,117.7 281.1,126.5 281.4,123.9 281.7,114.2 282.1,104.5 282.4,116.6 282.7,119.2 283.1,121.5 283.4,125.5 283.7,109.8 284.0,116.5 284.4,118.5 284.7,117.5 285.0,126.0 285.3,123.1 285.7,117.8 286.0,123.2 286.3,119.9 286.7,121.3 287.0,126.3 287.3,125.3 287.6,123.0 288.0,124.2 288.3,116.0 288.6,117.3 289.0,115.3 289.3,116.5 289.6,116.4 289.9,124.1 290.3,117.3 290.6,122.7 290.9,123.7 291.2,111.3 291.6,122.8 291.9,118.5 292.2,126.5 292.6,125.6 292.9,113.4 293.2,115.4 293.5,103.7 293.9,126.2 294.2,121.3 294.5,109.4 294.8,122.4 295.2,108.7 295.5,127.2 295.8,123.9 296.2,125.8 296.5,125.1 296.8,95.4 297.1,124.2 297.5,113.2 297.8,111.7 298.1,116.9 298.5,118.7 298.8,121.3 299.1,126.3 299.4,109.4 299.8,110.0 300.1,125.8 300.4,127.2 300.7,127.3 301.1,127.8 301.4,111.5 301.7,107.7 302.1,126.5 302.4,115.3 302.7,113.0 303.0,128.3 303.4,127.5 303.7,118.7 304.0,119.6 304.3,128.5 304.7,117.1 305.0,112.3 305.3,126.5 305.7,123.2 306.0,113.0 306.3,115.5 306.6,103.1 307.0,122.8 307.3,122.0 307.6,125.6 308.0,120.7 308.3,117.5 308.6,122.9 308.9,128.4 309.3,114.8 309.6,122.1 309.9,112.3 310.2,121.7 310.6,126.3 310.9,127.8 311.2,123.9 311.6,127.3 311.9,121.8 312.2,127.8 312.5,126.4 312.9,118.7 313.2,124.6 313.5,127.6 313.8,109.1 314.2,117.5 314.5,111.6 314.8,110.2 315.2,125.3 315.5,124.4 315.8,124.4 316.1,127.3 316.5,120.9 316.8,116.3 317.1,124.5 317.5,122.1 317.8,100.1 318.1,126.8 318.4,117.8 318.8,99.5 319.1,126.1 319.4,127.2 319.7,126.3 320.1,124.5 320.4,128.5 320.7,126.7 321.1,126.5 321.4,128.3 321.7,119.8 322.0,114.4 322.4,118.7 322.7,114.3 323.0,108.7 323.3,126.6 323.7,111.8 324.0,125.5 324.3,122.0 324.7,121.5 325.0,119.1 325.3,124.6 325.6,127.7 326.0,118.6 326.3,103.9 326.6,128.0 327.0,127.7 327.3,114.6 327.6,121.8 327.9,117.4 328.3,112.8 328.6,127.7 328.9,126.2 329.2,123.1 329.6,121.9 329.9,123.2 330.2,124.9 330.6,127.7 330.9,122.9 331.2,111.2 331.5,118.3 331.9,111.2" fill="none" stroke="#ff0000" stroke-opacity="0.8" stroke-width="0.8" stroke-linejoin="round"/>
<polyline points="201.2,102.0 201.5,104.0 201.8,105.5 202.1,107.1 202.5,108.6 202.8,110.1 203.1,111.2 203.5,111.8 203.8,112.3 204.1,112.8 204.4,113.4 204.8,113.9 205.1,114.4 205.4,114.9 205.7,115.1 206.1,115.7 206.4,115.8 206.7,116.5 207.1,116.8 207.4,117.2 207.7,117.3 208.0,117.5 208.4,118.6 208.7,118.0 209.0,118.3 209.3,119.1 209.7,119.7 210.0,118.2 210.3,119.6 210.7,119.2 211.0,119.1 211.3,118.3 211.6,118.2 212.0,119.1 212.3,118.4 212.6,119.2 213.0,119.7 213.3,120.1 213.6,120.8 213.9,119.0 214.3,121.1 214.6,121.6 214.9,122.1 215.2,118.0 215.6,120.0 215.9,121.3 216.2,119.2 216.6,123.3 216.9,118.8 217.2,119.6 217.5,119.6 217.9,120.3 218.2,121.1 218.5,122.1 218.8,125.2 219.2,118.6 219.5,123.2 219.8,121.1 220.2,125.2 220.5,124.0 220.8,120.3 221.1,124.3 221.5,118.6 221.8,125.4 222.1,122.4 222.5,118.5 222.8,119.5 223.1,120.2 223.4,122.1 223.8,121.0 224.1,123.5 224.4,122.3 224.7,119.4 225.1,123.6 225.4,120.3 225.7,119.5 226.1,118.8 226.4,124.0 226.7,122.6 227.0,117.9 227.4,124.6 227.7,126.6 228.0,121.3 228.3,120.3 228.7,118.5 229.0,127.0 229.3,122.1 229.7,117.9 230.0,118.4 230.3,118.1 230.6,121.0 231.0,124.4 231.3,120.2 231.6,122.6 232.0,123.7 232.3,127.5 232.6,126.2 232.9,125.9 233.3,124.1 233.6,123.8 233.9,108.5 234.2,122.8 234.6,113.5 234.9,124.5 235.2,127.7 235.6,120.3 235.9,123.2 236.2,127.5 236.5,126.0 236.9,123.0 237.2,124.3 237.5,116.6 237.8,122.1 238.2,125.2 238.5,122.2 238.8,122.1 239.2,120.9 239.5,127.9 239.8,118.2 240.1,127.3 240.5,121.0 240.8,121.9 241.1,126.0 241.5,126.7 241.8,130.3 242.1,122.1 242.4,130.1 242.8,123.3 243.1,122.6 243.4,126.4 243.7,128.7 244.1,114.0 244.4,118.6 244.7,122.5 245.1,120.6 245.4,126.6 245.7,125.9 246.0,128.0 246.4,129.6 246.7,123.3 247.0,126.4 247.3,130.0 247.7,126.6 248.0,129.6 248.3,128.4 248.7,127.0 249.0,108.3 249.3,121.3 249.6,120.1 250.0,124.0 250.3,126.4 250.6,124.9 251.0,123.2 251.3,131.9 251.6,123.4 251.9,105.7 252.3,122.7 252.6,126.3 252.9,124.1 253.2,112.8 253.6,128.3 253.9,130.7 254.2,121.7 254.6,111.5 254.9,127.8 255.2,128.5 255.5,112.4 255.9,133.1 256.2,105.2 256.5,118.9 256.8,128.0 257.2,130.0 257.5,101.7 257.8,128.6 258.2,121.6 258.5,111.6 258.8,127.6 259.1,119.0 259.5,102.2 259.8,123.5 260.1,120.3 260.5,120.1 260.8,118.9 261.1,129.5 261.4,123.0 261.8,117.8 262.1,132.6 262.4,116.1 262.7,129.1 263.1,124.7 263.4,123.7 263.7,111.3 264.1,125.7 264.4,123.4 264.7,126.5 265.0,121.0 265.4,122.7 265.7,127.4 266.0,130.1 266.3,100.7 266.7,128.0 267.0,119.5 267.3,123.6 267.7,122.1 268.0,131.7 268.3,129.1 268.6,127.8 269.0,123.1 269.3,134.7 269.6,127.3 270.0,101.5 270.3,122.5 270.6,125.1 270.9,129.3 271.3,100.8 271.6,128.9 271.9,118.9 272.2,109.1 272.6,125.3 272.9,125.4 273.2,128.7 273.6,129.2 273.9,125.8 274.2,124.6 274.5,118.3 274.9,123.6 275.2,112.3 275.5,131.4 275.8,134.7 276.2,126.9 276.5,133.8 276.8,123.1 277.2,128.1 277.5,128.9 277.8,135.9 278.1,127.9 278.5,117.8 278.8,126.9 279.1,123.0 279.5,126.7 279.8,119.8 280.1,129.5 280.4,127.6 280.8,103.7 281.1,120.1 281.4,125.6 281.7,134.2 282.1,133.6 282.4,126.1 282.7,130.5 283.1,130.4 283.4,113.2 283.7,134.3 284.0,131.3 284.4,127.0 284.7,127.2 285.0,116.0 285.3,123.4 285.7,126.9 286.0,132.0 286.3,134.8 286.7,134.3 287.0,135.0 287.3,127.4 287.6,114.5 288.0,115.1 288.3,134.9 288.6,126.4 289.0,130.1 289.3,131.7 289.6,119.5 289.9,126.6 290.3,127.6 290.6,123.7 290.9,126.4 291.2,136.3 291.6,118.9 291.9,128.5 292.2,120.4 292.6,124.1 292.9,132.2 293.2,126.4 293.5,124.1 293.9,119.9 294.2,126.9 294.5,127.6 294.8,129.7 295.2,124.6 295.5,135.0 295.8,131.4 296.2,113.5 296.5,126.3 296.8,126.5 297.1,131.3 297.5,129.7 297.8,132.7 298.1,126.0 298.5,123.9 298.8,127.9 299.1,117.0 299.4,128.5 299.8,124.1 300.1,125.0 300.4,122.4 300.7,122.5 301.1,122.0 301.4,130.7 301.7,124.7 302.1,112.3 302.4,129.9 302.7,131.0 303.0,123.7 303.4,130.3 303.7,124.0 304.0,128.5 304.3,128.9 304.7,132.6 305.0,117.8 305.3,129.8 305.7,135.1 306.0,121.6 306.3,133.1 306.6,127.4 307.0,121.1 307.3,135.7 307.6,130.6 308.0,135.3 308.3,128.6 308.6,123.3 308.9,133.8 309.3,132.3 309.6,131.7 309.9,134.2 310.2,127.3 310.6,127.3 310.9,131.5 311.2,128.5 311.6,115.2 311.9,126.5 312.2,121.9 312.5,104.3 312.9,129.0 313.2,135.6 313.5,129.0 313.8,121.5 314.2,111.5 314.5,126.8 314.8,114.5 315.2,131.8 315.5,126.8 315.8,125.8 316.1,126.3 316.5,121.9 316.8,129.4 317.1,137.7 317.5,131.9 317.8,124.9 318.1,127.8 318.4,134.1 318.8,129.7 319.1,135.4 319.4,128.9 319.7,130.6 320.1,125.7 320.4,129.2 320.7,127.6 321.1,108.9 321.4,130.5 321.7,131.6 322.0,129.4 322.4,134.0 322.7,122.2 323.0,124.1 323.3,130.8 323.7,129.3 324.0,127.9 324.3,137.3 324.7,121.8 325.0,132.2 325.3,137.4 325.6,136.5 326.0,127.5 326.3,117.4 326.6,131.0 327.0,130.5 327.3,130.7 327.6,136.1 327.9,133.5 328.3,108.9 328.6,118.1 328.9,132.5 329.2,127.7 329.6,112.2 329.9,137.1 330.2,137.8 330.6,125.1 330.9,126.3 331.2,120.0 331.5,128.2 331.9,135.1" fill="none" stroke="#008000" stroke-opacity="0.72" stroke-width="0.8" stroke-linejoin="round"/>
<polyline points="201.2,99.0 201.5,101.0 201.8,102.1 202.1,103.2 202.5,104.3 202.8,105.4 203.1,106.2 203.5,106.8 203.8,107.4 204.1,108.0 204.4,108.6 204.8,109.2 205.1,109.7 205.4,110.5 205.7,111.0 206.1,111.4 206.4,111.7 206.7,111.8 207.1,111.8 207.4,112.1 207.7,112.4 208.0,112.2 208.4,112.6 208.7,112.4 209.0,113.5 209.3,113.4 209.7,113.6 210.0,114.4 210.3,114.4 210.7,113.8 211.0,113.3 211.3,114.4 211.6,114.6 212.0,115.7 212.3,115.5 212.6,116.5 213.0,114.4 213.3,116.2 213.6,114.5 213.9,117.7 214.3,117.1 214.6,117.9 214.9,115.4 215.2,118.0 215.6,115.9 215.9,116.1 216.2,117.9 216.6,115.7 216.9,116.2 217.2,112.9 217.5,118.7 217.9,111.1 218.2,116.2 218.5,118.0 218.8,117.9 219.2,111.1 219.5,116.2 219.8,119.1 220.2,119.2 220.5,116.6 220.8,115.7 221.1,114.4 221.5,113.8 221.8,120.2 222.1,120.3 222.5,118.0 222.8,120.3 223.1,114.2 223.4,112.5 223.8,110.6 224.1,122.0 224.4,114.5 224.7,114.0 225.1,111.4 225.4,119.4 225.7,115.6 226.1,116.0 226.4,122.2 226.7,122.1 227.0,121.9 227.4,123.2 227.7,116.4 228.0,123.3 228.3,122.2 228.7,115.3 229.0,114.8 229.3,114.7 229.7,107.0 230.0,117.1 230.3,118.2 230.6,122.2 231.0,114.3 231.3,113.4 231.6,111.0 232.0,121.1 232.3,116.0 232.6,117.1 232.9,124.2 233.3,124.4 233.6,123.0 233.9,121.7 234.2,119.5 234.6,112.4 234.9,121.1 235.2,116.0 235.6,118.2 235.9,111.7 236.2,121.3 236.5,124.7 236.9,109.7 237.2,121.5 237.5,114.9 237.8,120.7 238.2,109.0 238.5,125.2 238.8,118.7 239.2,114.3 239.5,121.8 239.8,123.4 240.1,113.2 240.5,124.3 240.8,120.1 241.1,115.5 241.5,97.0 241.8,125.2 242.1,115.6 242.4,121.8 242.8,118.7 243.1,120.6 243.4,117.3 243.7,110.1 244.1,109.5 244.4,114.5 244.7,114.2 245.1,109.7 245.4,124.9 245.7,119.4 246.0,124.2 246.4,114.6 246.7,120.4 247.0,91.7 247.3,125.3 247.7,112.3 248.0,116.9 248.3,122.1 248.7,123.0 249.0,114.7 249.3,118.2 249.6,123.2 250.0,125.5 250.3,124.8 250.6,125.3 251.0,125.3 251.3,113.3 251.6,96.4 251.9,117.5 252.3,113.4 252.6,114.5 252.9,111.6 253.2,109.6 253.6,118.4 253.9,117.1 254.2,119.7 254.6,119.4 254.9,123.9 255.2,118.1 255.5,113.4 255.9,123.5 256.2,104.1 256.5,121.5 256.8,124.9 257.2,111.2 257.5,124.3 257.8,117.0 258.2,105.6 258.5,103.8 258.8,124.7 259.1,118.3 259.5,124.4 259.8,117.7 260.1,125.8 260.5,122.2 260.8,118.6 261.1,110.7 261.4,120.6 261.8,120.0 262.1,122.5 262.4,123.7 262.7,111.5 263.1,120.5 263.4,119.1 263.7,118.3 264.1,110.1 264.4,122.6 264.7,117.1 265.0,122.1 265.4,93.2 265.7,120.8 266.0,115.2 266.3,125.2 266.7,115.0 267.0,124.2 267.3,123.4 267.7,115.9 268.0,124.5 268.3,116.1 268.6,119.2 269.0,125.0 269.3,119.9 269.6,114.3 270.0,119.3 270.3,127.1 270.6,124.6 270.9,114.2 271.3,126.1 271.6,120.6 271.9,125.7 272.2,120.0 272.6,125.9 272.9,125.9 273.2,126.1 273.6,109.5 273.9,125.6 274.2,116.7 274.5,123.5 274.9,118.5 275.2,122.7 275.5,127.3 275.8,118.5 276.2,99.8 276.5,110.4 276.8,124.1 277.2,101.0 277.5,125.9 277.8,122.1 278.1,120.7 278.5,123.1 278.8,113.2 279.1,120.7 279.5,127.1 279.8,104.4 280.1,116.7 280.4,97.9 280.8,123.4 281.1,107.1 281.4,125.4 281.7,125.3 282.1,120.3 282.4,116.5 282.7,115.4 283.1,126.2 283.4,125.2 283.7,111.8 284.0,104.1 284.4,109.3 284.7,122.5 285.0,126.5 285.3,118.5 285.7,126.1 286.0,126.5 286.3,95.8 286.7,125.2 287.0,98.5 287.3,127.1 287.6,117.8 288.0,121.9 288.3,123.3 288.6,126.1 289.0,110.3 289.3,123.2 289.6,125.2 289.9,114.6 290.3,121.5 290.6,116.2 290.9,118.3 291.2,114.3 291.6,115.1 291.9,123.9 292.2,118.9 292.6,126.9 292.9,126.6 293.2,116.8 293.5,123.5 293.9,100.4 294.2,117.7 294.5,110.8 294.8,120.5 295.2,113.4 295.5,116.1 295.8,126.0 296.2,104.5 296.5,115.3 296.8,112.6 297.1,115.2 297.5,127.8 297.8,124.8 298.1,120.4 298.5,126.5 298.8,120.4 299.1,127.5 299.4,110.7 299.8,106.0 300.1,111.0 300.4,101.8 300.7,126.8 301.1,120.8 301.4,127.7 301.7,119.4 302.1,117.3 302.4,122.6 302.7,94.5 303.0,119.2 303.4,127.2 303.7,103.5 304.0,126.5 304.3,124.4 304.7,117.8 305.0,120.6 305.3,125.4 305.7,127.5 306.0,115.6 306.3,128.1 306.6,117.8 307.0,117.4 307.3,116.0 307.6,99.7 308.0,127.7 308.3,96.0 308.6,128.8 308.9,108.6 309.3,125.7 309.6,120.9 309.9,125.1 310.2,117.4 310.6,123.4 310.9,123.3 311.2,124.3 311.6,117.4 311.9,123.8 312.2,95.6 312.5,128.5 312.9,126.5 313.2,125.6 313.5,112.5 313.8,124.6 314.2,108.8 314.5,122.8 314.8,119.4 315.2,127.1 315.5,120.9 315.8,120.2 316.1,122.9 316.5,113.5 316.8,125.7 317.1,128.0 317.5,124.9 317.8,124.5 318.1,126.3 318.4,126.9 318.8,123.1 319.1,127.3 319.4,119.1 319.7,125.9 320.1,113.8 320.4,126.0 320.7,128.8 321.1,120.0 321.4,116.0 321.7,110.7 322.0,115.9 322.4,107.2 322.7,123.8 323.0,119.0 323.3,120.4 323.7,116.7 324.0,125.2 324.3,126.3 324.7,119.3 325.0,127.1 325.3,126.6 325.6,126.0 326.0,120.8 326.3,123.0 326.6,124.5 327.0,124.8 327.3,123.9 327.6,118.3 327.9,113.4 328.3,127.5 328.6,124.0 328.9,122.4 329.2,120.3 329.6,110.0 329.9,128.2 330.2,122.3 330.6,99.6 330.9,117.9 331.2,115.9 331.5,126.0 331.9,129.3" fill="none" stroke="#8a2be2" stroke-opacity="0.8" stroke-width="0.8" stroke-linejoin="round"/>
<polyline points="201.2,99.0 201.5,102.0 201.8,103.1 202.1,104.2 202.5,105.3 202.8,106.3 203.1,107.2 203.5,107.8 203.8,108.4 204.1,109.0 204.4,109.6 204.8,110.2 205.1,110.7 205.4,111.4 205.7,111.9 206.1,112.6 206.4,112.7 206.7,112.6 207.1,113.2 207.4,113.8 207.7,113.6 208.0,113.9 208.4,114.0 208.7,114.4 209.0,114.5 209.3,115.0 209.7,115.0 210.0,114.4 210.3,115.2 210.7,115.8 211.0,116.3 211.3,116.2 211.6,115.6 212.0,114.6 212.3,117.5 212.6,114.7 213.0,117.3 213.3,116.3 213.6,115.0 213.9,115.6 214.3,117.6 214.6,115.4 214.9,116.3 215.2,113.5 215.6,118.2 215.9,119.6 216.2,118.2 216.6,117.4 216.9,119.3 217.2,118.9 217.5,118.7 217.9,117.2 218.2,114.0 218.5,116.2 218.8,119.1 219.2,118.7 219.5,120.5 219.8,119.7 220.2,117.6 220.5,118.6 220.8,119.4 221.1,118.4 221.5,115.7 221.8,117.2 222.1,121.1 222.5,111.5 222.8,114.7 223.1,111.6 223.4,119.4 223.8,115.7 224.1,113.9 224.4,120.2 224.7,113.7 225.1,115.9 225.4,114.7 225.7,121.8 226.1,114.3 226.4,121.7 226.7,122.6 227.0,116.8 227.4,112.2 227.7,115.9 228.0,121.8 228.3,114.4 228.7,120.3 229.0,112.0 229.3,117.4 229.7,119.8 230.0,119.0 230.3,115.8 230.6,120.4 231.0,113.8 231.3,122.6 231.6,108.9 232.0,120.2 232.3,115.9 232.6,121.8 232.9,121.5 233.3,117.8 233.6,120.5 233.9,117.1 234.2,123.0 234.6,120.8 234.9,119.6 235.2,107.1 235.6,121.4 235.9,122.2 236.2,106.1 236.5,106.3 236.9,118.4 237.2,122.7 237.5,115.5 237.8,122.4 238.2,116.8 238.5,110.1 238.8,119.0 239.2,123.0 239.5,119.3 239.8,118.8 240.1,120.2 240.5,113.6 240.8,123.9 241.1,120.6 241.5,122.4 241.8,119.5 242.1,115.0 242.4,122.2 242.8,118.2 243.1,106.3 243.4,117.6 243.7,120.5 244.1,116.1 244.4,113.5 244.7,122.1 245.1,122.2 245.4,122.2 245.7,113.9 246.0,120.3 246.4,112.6 246.7,123.7 247.0,122.9 247.3,113.5 247.7,115.6 248.0,122.9 248.3,116.1 248.7,117.3 249.0,122.3 249.3,113.8 249.6,121.5 250.0,109.2 250.3,121.4 250.6,102.9 251.0,105.4 251.3,96.6 251.6,118.7 251.9,115.3 252.3,123.0 252.6,121.8 252.9,118.1 253.2,117.4 253.6,119.0 253.9,115.6 254.2,117.7 254.6,120.6 254.9,118.1 255.2,120.7 255.5,100.9 255.9,123.4 256.2,116.5 256.5,123.2 256.8,124.9 257.2,123.4 257.5,104.0 257.8,122.0 258.2,113.6 258.5,113.8 258.8,117.5 259.1,112.6 259.5,123.0 259.8,117.8 260.1,123.2 260.5,120.8 260.8,115.7 261.1,118.1 261.4,124.2 261.8,108.2 262.1,110.1 262.4,117.3 262.7,124.1 263.1,116.6 263.4,122.8 263.7,121.7 264.1,117.1 264.4,114.0 264.7,111.5 265.0,118.9 265.4,121.6 265.7,107.2 266.0,117.9 266.3,119.2 266.7,120.1 267.0,123.7 267.3,122.9 267.7,116.8 268.0,105.7 268.3,107.8 268.6,125.1 269.0,117.7 269.3,114.0 269.6,123.4 270.0,121.8 270.3,121.9 270.6,115.2 270.9,116.8 271.3,123.6 271.6,116.8 271.9,121.5 272.2,108.2 272.6,125.1 272.9,124.1 273.2,112.0 273.6,124.4 273.9,120.3 274.2,122.0 274.5,114.7 274.9,123.5 275.2,123.1 275.5,121.2 275.8,119.2 276.2,105.0 276.5,119.2 276.8,107.0 277.2,121.9 277.5,123.9 277.8,99.0 278.1,116.3 278.5,116.0 278.8,108.1 279.1,123.4 279.5,101.2 279.8,87.2 280.1,125.1 280.4,114.2 280.8,99.9 281.1,119.8 281.4,117.6 281.7,116.4 282.1,121.0 282.4,121.5 282.7,122.7 283.1,123.0 283.4,119.7 283.7,97.8 284.0,115.4 284.4,119.9 284.7,123.6 285.0,111.9 285.3,124.5 285.7,117.1 286.0,85.2 286.3,119.1 286.7,117.0 287.0,115.3 287.3,109.7 287.6,125.2 288.0,115.0 288.3,121.3 288.6,111.6 289.0,115.9 289.3,113.3 289.6,123.3 289.9,122.0 290.3,117.7 290.6,116.1 290.9,125.0 291.2,123.7 291.6,121.2 291.9,104.9 292.2,124.7 292.6,110.3 292.9,109.0 293.2,117.2 293.5,116.1 293.9,112.9 294.2,120.0 294.5,123.4 294.8,125.3 295.2,116.2 295.5,120.9 295.8,125.1 296.2,117.5 296.5,125.7 296.8,104.3 297.1,117.8 297.5,113.2 297.8,125.7 298.1,118.4 298.5,119.2 298.8,124.4 299.1,97.6 299.4,125.1 299.8,112.4 300.1,120.0 300.4,124.7 300.7,106.1 301.1,119.1 301.4,122.7 301.7,111.2 302.1,118.5 302.4,93.8 302.7,123.4 303.0,118.5 303.4,115.0 303.7,123.5 304.0,121.1 304.3,126.2 304.7,108.8 305.0,123.0 305.3,123.2 305.7,120.2 306.0,118.7 306.3,124.6 306.6,121.4 307.0,126.2 307.3,126.7 307.6,111.4 308.0,123.9 308.3,99.4 308.6,123.3 308.9,107.3 309.3,126.2 309.6,115.4 309.9,113.7 310.2,124.4 310.6,125.8 310.9,124.4 311.2,126.5 311.6,123.5 311.9,105.1 312.2,123.2 312.5,122.5 312.9,124.6 313.2,115.8 313.5,123.2 313.8,93.0 314.2,114.8 314.5,98.3 314.8,122.3 315.2,125.4 315.5,122.0 315.8,115.1 316.1,120.9 316.5,124.1 316.8,123.2 317.1,110.3 317.5,120.9 317.8,114.2 318.1,119.3 318.4,121.9 318.8,120.4 319.1,120.3 319.4,120.7 319.7,126.0 320.1,118.7 320.4,121.2 320.7,109.8 321.1,125.8 321.4,120.0 321.7,125.5 322.0,126.6 322.4,122.6 322.7,125.7 323.0,127.0 323.3,104.0 323.7,126.0 324.0,112.2 324.3,116.4 324.7,112.0 325.0,95.7 325.3,125.5 325.6,118.0 326.0,120.5 326.3,126.8 326.6,119.9 327.0,126.7 327.3,123.5 327.6,118.8 327.9,105.0 328.3,120.5 328.6,121.3 328.9,116.5 329.2,124.5 329.6,125.3 329.9,126.8 330.2,118.0 330.6,106.9 330.9,124.7 331.2,118.1 331.5,113.9 331.9,119.5" fill="none" stroke="#ffa07a" stroke-opacity="0.8" stroke-width="0.8" stroke-linejoin="round"/>
<polyline points="201.2,100.0 201.5,103.0 201.8,104.5 202.1,106.0 202.5,107.6 202.8,109.1 203.1,110.2 203.5,110.8 203.8,111.3 204.1,111.8 204.4,112.4 204.8,112.9 205.1,113.3 205.4,113.7 205.7,114.2 206.1,114.4 206.4,114.9 206.7,115.6 207.1,115.1 207.4,116.2 207.7,116.1 208.0,115.7 208.4,116.7 208.7,117.1 209.0,117.6 209.3,118.1 209.7,116.5 210.0,118.1 210.3,117.6 210.7,117.4 211.0,117.2 211.3,116.3 211.6,116.6 212.0,116.1 212.3,119.5 212.6,117.8 213.0,119.3 213.3,119.1 213.6,119.2 213.9,117.5 214.3,117.7 214.6,117.1 214.9,120.0 215.2,118.3 215.6,117.7 215.9,118.2 216.2,113.9 216.6,120.4 216.9,116.3 217.2,118.2 217.5,116.8 217.9,120.0 218.2,117.1 218.5,120.4 218.8,118.6 219.2,116.4 219.5,115.5 219.8,114.5 220.2,118.8 220.5,111.9 220.8,121.3 221.1,116.1 221.5,113.2 221.8,117.0 222.1,112.8 222.5,116.2 222.8,115.1 223.1,121.5 223.4,121.0 223.8,121.5 224.1,123.4 224.4,115.9 224.7,112.0 225.1,115.9 225.4,115.5 225.7,119.9 226.1,121.3 226.4,118.6 226.7,116.8 227.0,114.1 227.4,122.2 227.7,116.2 228.0,120.6 228.3,122.4 228.7,121.9 229.0,110.3 229.3,115.3 229.7,119.8 230.0,120.8 230.3,122.4 230.6,117.0 231.0,110.7 231.3,122.4 231.6,124.0 232.0,114.7 232.3,120.6 232.6,123.1 232.9,116.2 233.3,122.9 233.6,123.1 233.9,112.4 234.2,122.6 234.6,118.7 234.9,116.2 235.2,100.8 235.6,111.3 235.9,124.7 236.2,122.0 236.5,104.8 236.9,106.0 237.2,124.1 237.5,122.1 237.8,119.0 238.2,120.0 238.5,111.5 238.8,111.1 239.2,116.2 239.5,121.0 239.8,115.0 240.1,117.2 240.5,113.3 240.8,119.2 241.1,113.2 241.5,117.7 241.8,114.8 242.1,122.5 242.4,116.0 242.8,113.6 243.1,124.1 243.4,124.4 243.7,114.4 244.1,117.8 244.4,123.1 244.7,123.7 245.1,112.5 245.4,122.7 245.7,115.1 246.0,112.5 246.4,109.6 246.7,122.3 247.0,109.8 247.3,106.6 247.7,114.0 248.0,120.2 248.3,124.9 248.7,112.0 249.0,101.8 249.3,117.1 249.6,120.6 250.0,117.2 250.3,110.2 250.6,104.2 251.0,119.1 251.3,126.1 251.6,117.3 251.9,114.4 252.3,122.3 252.6,109.9 252.9,112.4 253.2,113.8 253.6,121.5 253.9,119.2 254.2,125.8 254.6,119.7 254.9,120.8 255.2,119.9 255.5,119.7 255.9,121.8 256.2,113.2 256.5,119.7 256.8,116.7 257.2,115.5 257.5,123.5 257.8,119.6 258.2,125.0 258.5,104.9 258.8,117.8 259.1,125.1 259.5,123.3 259.8,120.4 260.1,120.3 260.5,111.3 260.8,118.0 261.1,114.5 261.4,116.2 261.8,122.9 262.1,118.6 262.4,118.1 262.7,92.8 263.1,114.9 263.4,108.2 263.7,121.5 264.1,109.5 264.4,116.9 264.7,111.7 265.0,119.0 265.4,99.1 265.7,118.1 266.0,121.1 266.3,115.0 266.7,125.0 267.0,125.3 267.3,114.4 267.7,116.4 268.0,121.4 268.3,110.4 268.6,122.5 269.0,113.0 269.3,117.8 269.6,122.4 270.0,117.5 270.3,117.2 270.6,117.1 270.9,125.2 271.3,122.4 271.6,121.3 271.9,121.2 272.2,117.4 272.6,107.9 272.9,116.1 273.2,118.2 273.6,116.1 273.9,108.6 274.2,121.5 274.5,119.9 274.9,123.4 275.2,112.3 275.5,122.8 275.8,126.3 276.2,125.9 276.5,119.4 276.8,96.4 277.2,126.1 277.5,118.0 277.8,122.1 278.1,102.6 278.5,126.1 278.8,120.7 279.1,126.4 279.5,120.0 279.8,122.8 280.1,125.5 280.4,108.4 280.8,123.9 281.1,122.6 281.4,126.3 281.7,124.4 282.1,118.6 282.4,126.9 282.7,113.7 283.1,124.4 283.4,111.6 283.7,110.9 284.0,119.3 284.4,121.7 284.7,125.3 285.0,120.4 285.3,121.8 285.7,126.0 286.0,125.9 286.3,122.2 286.7,117.9 287.0,118.6 287.3,110.9 287.6,116.8 288.0,113.8 288.3,113.3 288.6,110.5 289.0,120.1 289.3,116.7 289.6,128.0 289.9,124.4 290.3,110.9 290.6,126.8 290.9,110.5 291.2,106.7 291.6,124.7 291.9,121.2 292.2,118.9 292.6,118.2 292.9,126.2 293.2,122.4 293.5,125.1 293.9,123.5 294.2,123.6 294.5,119.0 294.8,124.3 295.2,119.6 295.5,115.1 295.8,127.0 296.2,127.0 296.5,125.1 296.8,109.2 297.1,125.7 297.5,123.4 297.8,117.5 298.1,114.9 298.5,119.2 298.8,125.6 299.1,121.0 299.4,120.5 299.8,119.7 300.1,113.2 300.4,125.0 300.7,125.7 301.1,121.5 301.4,128.8 301.7,113.8 302.1,114.7 302.4,118.3 302.7,109.1 303.0,120.7 303.4,128.0 303.7,110.3 304.0,116.6 304.3,127.9 304.7,128.5 305.0,121.0 305.3,119.7 305.7,126.9 306.0,111.7 306.3,112.3 306.6,127.4 307.0,126.3 307.3,127.3 307.6,116.8 308.0,127.2 308.3,128.2 308.6,122.6 308.9,117.1 309.3,120.2 309.6,123.0 309.9,120.3 310.2,127.1 310.6,110.9 310.9,123.3 311.2,121.3 311.6,103.3 311.9,128.4 312.2,126.5 312.5,128.8 312.9,121.8 313.2,128.4 313.5,122.5 313.8,129.0 314.2,114.4 314.5,122.4 314.8,125.0 315.2,125.6 315.5,121.2 315.8,115.3 316.1,114.1 316.5,120.1 316.8,120.6 317.1,126.7 317.5,127.6 317.8,116.2 318.1,118.0 318.4,123.2 318.8,122.3 319.1,114.1 319.4,124.4 319.7,116.2 320.1,119.6 320.4,127.0 320.7,122.4 321.1,99.0 321.4,112.1 321.7,127.3 322.0,116.8 322.4,129.7 322.7,127.6 323.0,115.8 323.3,122.2 323.7,129.0 324.0,112.7 324.3,114.7 324.7,129.7 325.0,120.7 325.3,119.7 325.6,129.1 326.0,129.6 326.3,117.1 326.6,119.4 327.0,121.2 327.3,126.4 327.6,124.6 327.9,129.1 328.3,123.1 328.6,127.5 328.9,119.2 329.2,120.7 329.6,116.7 329.9,126.8 330.2,128.0 330.6,124.6 330.9,128.6 331.2,115.5 331.5,127.2 331.9,116.0" fill="none" stroke="#00ffff" stroke-opacity="0.68" stroke-width="0.8" stroke-linejoin="round"/>
</g></g>
<clipPath id="clipg"><rect x="22.4" y="190.0" width="144.0" height="139.8"/></clipPath><g clip-path="url(#clipg)"><g filter="url(#soft)">
<line x1="30.25" y1="196.2" x2="30.53" y2="283" stroke="#33b5b5" stroke-opacity="0.75" stroke-width="0.8"/>
<polyline points="30.3,285.0 30.6,288.0 30.9,290.0 31.2,292.0 31.6,294.0 31.9,294.8 32.2,295.6 32.5,296.5 32.9,297.3 33.2,298.1 33.5,298.9 33.9,299.7 34.2,300.2 34.5,300.5 34.8,300.8 35.2,301.2 35.5,301.4 35.8,301.8 36.1,302.4 36.5,302.5 36.8,303.1 37.1,303.5 37.5,303.0 37.8,303.9 38.1,303.8 38.4,304.2 38.8,304.0 39.1,304.3 39.4,304.9 39.7,304.7 40.1,304.8 40.4,304.4 40.7,306.5 41.1,306.3 41.4,305.8 41.7,305.2 42.0,306.7 42.4,308.3 42.7,305.8 43.0,304.5 43.3,306.9 43.7,305.4 44.0,305.1 44.3,306.1 44.7,305.0 45.0,305.3 45.3,309.0 45.6,307.0 46.0,306.9 46.3,306.4 46.6,308.0 46.9,306.9 47.3,307.3 47.6,307.1 47.9,307.6 48.3,308.0 48.6,306.6 48.9,305.7 49.2,305.9 49.6,304.8 49.9,308.6 50.2,307.1 50.6,306.6 50.9,306.6 51.2,308.5 51.5,306.1 51.9,309.0 52.2,309.7 52.5,306.4 52.8,309.7 53.2,307.2 53.5,306.6 53.8,307.7 54.2,308.2 54.5,312.1 54.8,307.4 55.1,308.4 55.5,307.8 55.8,308.9 56.1,305.8 56.4,307.1 56.8,308.5 57.1,309.6 57.4,310.7 57.8,307.5 58.1,309.6 58.4,308.4 58.7,311.4 59.1,310.8 59.4,312.0 59.7,305.1 60.0,307.9 60.4,309.7 60.7,309.7 61.0,310.6 61.4,299.7 61.7,313.0 62.0,308.8 62.3,314.1 62.7,297.9 63.0,310.0 63.3,310.6 63.6,311.6 64.0,311.4 64.3,310.1 64.6,312.1 65.0,305.4 65.3,312.0 65.6,308.1 65.9,307.1 66.3,310.4 66.6,310.5 66.9,303.4 67.2,310.5 67.6,316.3 67.9,310.4 68.2,307.0 68.6,314.5 68.9,310.8 69.2,311.6 69.5,305.4 69.9,312.0 70.2,288.3 70.5,314.1 70.8,312.4 71.2,315.2 71.5,306.4 71.8,315.3 72.2,308.1 72.5,311.4 72.8,309.7 73.1,297.1 73.5,315.5 73.8,317.2 74.1,312.4 74.4,310.4 74.8,299.2 75.1,292.8 75.4,315.3 75.8,311.9 76.1,313.4 76.4,314.6 76.7,315.9 77.1,313.3 77.4,315.9 77.7,290.1 78.0,308.8 78.4,315.9 78.7,315.0 79.0,300.8 79.4,316.6 79.7,313.7 80.0,300.9 80.3,289.1 80.7,310.5 81.0,304.9 81.3,317.2 81.6,314.2 82.0,308.5 82.3,311.3 82.6,318.5 83.0,306.0 83.3,313.8 83.6,309.8 83.9,282.2 84.3,315.5 84.6,303.4 84.9,315.3 85.3,317.6 85.6,312.7 85.9,315.8 86.2,306.0 86.6,315.7 86.9,318.1 87.2,320.1 87.5,302.0 87.9,313.6 88.2,314.2 88.5,315.2 88.9,297.6 89.2,312.7 89.5,314.4 89.8,313.7 90.2,304.1 90.5,301.3 90.8,321.8 91.1,319.9 91.5,321.3 91.8,319.1 92.1,319.0 92.5,319.0 92.8,315.5 93.1,321.0 93.4,315.6 93.8,291.5 94.1,317.3 94.4,308.3 94.7,319.2 95.1,313.6 95.4,317.4 95.7,315.8 96.1,316.8 96.4,304.1 96.7,289.6 97.0,294.9 97.4,311.3 97.7,312.1 98.0,314.2 98.3,314.2 98.7,304.9 99.0,318.2 99.3,319.6 99.7,321.1 100.0,316.2 100.3,313.1 100.6,318.1 101.0,292.6 101.3,305.3 101.6,319.6 101.9,315.3 102.3,311.2 102.6,309.9 102.9,317.8 103.3,311.5 103.6,316.7 103.9,308.8 104.2,315.6 104.6,307.9 104.9,316.2 105.2,300.3 105.5,319.1 105.9,315.6 106.2,282.8 106.5,314.0 106.9,320.9 107.2,322.3 107.5,313.2 107.8,320.4 108.2,316.9 108.5,314.5 108.8,312.9 109.1,319.5 109.5,317.2 109.8,316.6 110.1,309.3 110.5,318.8 110.8,321.4 111.1,306.3 111.4,298.0 111.8,318.3 112.1,319.4 112.4,311.4 112.7,320.9 113.1,303.4 113.4,320.3 113.7,317.5 114.1,322.9 114.4,300.6 114.7,307.5 115.0,312.2 115.4,306.2 115.7,297.6 116.0,306.5 116.3,298.0 116.7,321.7 117.0,294.5 117.3,315.0 117.7,320.6 118.0,309.2 118.3,316.7 118.6,317.6 119.0,306.2 119.3,311.3 119.6,315.9 120.0,318.3 120.3,316.2 120.6,304.0 120.9,316.3 121.3,316.8 121.6,316.2 121.9,307.8 122.2,319.4 122.6,310.7 122.9,318.1 123.2,304.9 123.6,311.3 123.9,320.2 124.2,317.8 124.5,317.0 124.9,315.8 125.2,314.9 125.5,311.3 125.8,311.6 126.2,309.5 126.5,314.2 126.8,314.8 127.2,315.2 127.5,315.7 127.8,316.6 128.1,312.3 128.5,318.2 128.8,321.3 129.1,316.9 129.4,316.3 129.8,318.2 130.1,302.9 130.4,320.9 130.8,320.0 131.1,298.2 131.4,316.4 131.7,319.0 132.1,315.4 132.4,317.9 132.7,318.1 133.0,320.9 133.4,315.6 133.7,292.3 134.0,320.7 134.4,321.8 134.7,317.5 135.0,311.0 135.3,321.7 135.7,317.2 136.0,315.4 136.3,312.5 136.6,288.2 137.0,321.9 137.3,317.1 137.6,312.4 138.0,307.6 138.3,313.8 138.6,319.5 138.9,317.8 139.3,296.1 139.6,314.6 139.9,322.0 140.2,319.2 140.6,322.1 140.9,320.1 141.2,287.1 141.6,308.1 141.9,321.6 142.2,317.1 142.5,306.2 142.9,324.3 143.2,309.0 143.5,316.5 143.8,300.3 144.2,321.2 144.5,314.6 144.8,321.1 145.2,323.2 145.5,323.1 145.8,307.3 146.1,314.2 146.5,300.4 146.8,316.2 147.1,314.9 147.4,304.0 147.8,319.3 148.1,301.0 148.4,318.7 148.8,309.4 149.1,307.9 149.4,314.6 149.7,319.6 150.1,308.0 150.4,317.7 150.7,318.0 151.0,322.9 151.4,322.7 151.7,323.0 152.0,311.0 152.4,316.6 152.7,299.3 153.0,314.6 153.3,321.4 153.7,319.4 154.0,320.3 154.3,315.2 154.6,323.9 155.0,320.8 155.3,308.3 155.6,322.6 156.0,321.1 156.3,315.6 156.6,317.2 156.9,297.6 157.3,298.7 157.6,314.2 157.9,318.6 158.3,313.9 158.6,319.2 158.9,318.2 159.2,315.6 159.6,322.9 159.9,317.8 160.2,322.7 160.5,317.3 160.9,318.2" fill="none" stroke="#ff0000" stroke-opacity="0.8" stroke-width="0.8" stroke-linejoin="round"/>
<polyline points="30.3,284.0 30.6,287.0 30.9,288.9 31.2,290.7 31.6,292.5 31.9,293.3 32.2,294.1 32.5,295.0 32.9,295.8 33.2,296.6 33.5,297.4 33.9,298.2 34.2,298.7 34.5,299.0 34.8,299.1 35.2,299.3 35.5,299.6 35.8,299.9 36.1,300.8 36.5,300.6 36.8,301.0 37.1,301.4 37.5,301.3 37.8,301.3 38.1,301.9 38.4,302.7 38.8,302.1 39.1,302.5 39.4,301.4 39.7,303.1 40.1,301.7 40.4,303.8 40.7,302.7 41.1,302.6 41.4,304.7 41.7,304.5 42.0,304.8 42.4,305.7 42.7,303.0 43.0,304.2 43.3,305.3 43.7,302.8 44.0,302.5 44.3,303.5 44.7,302.2 45.0,302.3 45.3,305.3 45.6,306.5 46.0,300.7 46.3,301.0 46.6,299.8 46.9,304.1 47.3,305.2 47.6,307.3 47.9,300.7 48.3,305.8 48.6,306.1 48.9,301.9 49.2,306.6 49.6,303.8 49.9,307.3 50.2,304.6 50.6,308.4 50.9,304.7 51.2,304.9 51.5,308.2 51.9,304.3 52.2,306.2 52.5,309.1 52.8,303.9 53.2,308.4 53.5,306.4 53.8,305.1 54.2,305.9 54.5,308.3 54.8,303.3 55.1,306.1 55.5,308.7 55.8,310.1 56.1,308.0 56.4,300.4 56.8,302.1 57.1,305.7 57.4,307.7 57.8,306.6 58.1,308.7 58.4,307.1 58.7,308.9 59.1,309.0 59.4,303.0 59.7,309.1 60.0,309.5 60.4,306.8 60.7,300.5 61.0,293.7 61.4,291.2 61.7,304.3 62.0,310.1 62.3,309.1 62.7,308.1 63.0,307.3 63.3,297.9 63.6,306.2 64.0,309.2 64.3,308.5 64.6,308.6 65.0,304.5 65.3,298.8 65.6,310.4 65.9,311.2 66.3,298.6 66.6,303.5 66.9,310.5 67.2,304.0 67.6,311.0 67.9,297.8 68.2,311.9 68.6,305.9 68.9,311.7 69.2,309.6 69.5,306.2 69.9,305.0 70.2,300.3 70.5,305.9 70.8,302.7 71.2,312.3 71.5,308.9 71.8,311.5 72.2,305.5 72.5,311.1 72.8,311.2 73.1,289.2 73.5,311.2 73.8,309.4 74.1,302.4 74.4,295.3 74.8,308.0 75.1,310.1 75.4,300.2 75.8,306.6 76.1,278.5 76.4,306.5 76.7,306.3 77.1,308.4 77.4,298.2 77.7,296.9 78.0,294.6 78.4,311.6 78.7,313.9 79.0,307.2 79.4,291.8 79.7,311.9 80.0,298.4 80.3,311.5 80.7,306.8 81.0,301.9 81.3,311.8 81.6,312.6 82.0,312.1 82.3,305.4 82.6,312.0 83.0,311.2 83.3,291.7 83.6,313.0 83.9,311.4 84.3,302.6 84.6,313.4 84.9,298.8 85.3,300.6 85.6,303.2 85.9,309.8 86.2,289.1 86.6,286.4 86.9,297.3 87.2,286.2 87.5,311.3 87.9,290.2 88.2,312.8 88.5,306.4 88.9,282.4 89.2,304.5 89.5,308.9 89.8,310.5 90.2,311.9 90.5,300.8 90.8,306.5 91.1,310.9 91.5,288.3 91.8,306.4 92.1,312.6 92.5,307.8 92.8,283.5 93.1,296.6 93.4,308.7 93.8,307.4 94.1,305.0 94.4,305.4 94.7,305.6 95.1,311.1 95.4,309.0 95.7,302.8 96.1,296.7 96.4,305.5 96.7,289.2 97.0,281.4 97.4,314.0 97.7,302.1 98.0,312.4 98.3,311.8 98.7,306.8 99.0,306.6 99.3,303.9 99.7,311.9 100.0,310.2 100.3,307.3 100.6,313.1 101.0,307.3 101.3,307.1 101.6,311.2 101.9,307.3 102.3,301.3 102.6,307.8 102.9,310.2 103.3,311.7 103.6,289.6 103.9,309.6 104.2,305.3 104.6,314.0 104.9,296.9 105.2,304.9 105.5,314.4 105.9,302.2 106.2,298.8 106.5,295.9 106.9,307.0 107.2,303.4 107.5,303.9 107.8,307.7 108.2,310.6 108.5,313.7 108.8,307.7 109.1,301.1 109.5,305.6 109.8,313.4 110.1,309.8 110.5,307.5 110.8,294.7 111.1,301.3 111.4,313.6 111.8,313.5 112.1,301.4 112.4,306.0 112.7,314.2 113.1,304.6 113.4,312.2 113.7,298.0 114.1,312.9 114.4,304.2 114.7,308.5 115.0,300.5 115.4,310.4 115.7,311.2 116.0,287.1 116.3,307.4 116.7,312.3 117.0,302.9 117.3,309.2 117.7,301.0 118.0,306.8 118.3,306.3 118.6,313.4 119.0,301.9 119.3,308.5 119.6,293.9 120.0,306.1 120.3,314.3 120.6,299.5 120.9,302.4 121.3,303.2 121.6,311.5 121.9,279.5 122.2,313.7 122.6,290.7 122.9,302.4 123.2,307.9 123.6,308.9 123.9,310.1 124.2,307.7 124.5,314.6 124.9,303.2 125.2,306.4 125.5,309.8 125.8,298.8 126.2,292.2 126.5,308.8 126.8,314.3 127.2,313.1 127.5,304.4 127.8,308.2 128.1,313.8 128.5,301.1 128.8,313.7 129.1,314.6 129.4,311.3 129.8,312.4 130.1,308.8 130.4,295.6 130.8,313.4 131.1,304.8 131.4,310.6 131.7,298.1 132.1,306.3 132.4,307.2 132.7,300.9 133.0,307.7 133.4,315.0 133.7,312.8 134.0,309.6 134.4,313.3 134.7,311.7 135.0,312.1 135.3,313.8 135.7,301.2 136.0,301.6 136.3,302.1 136.6,304.9 137.0,299.5 137.3,308.1 137.6,300.2 138.0,281.0 138.3,314.0 138.6,296.9 138.9,299.9 139.3,311.9 139.6,314.2 139.9,314.6 140.2,306.6 140.6,304.7 140.9,313.8 141.2,310.6 141.6,305.7 141.9,306.8 142.2,298.4 142.5,311.5 142.9,296.3 143.2,298.4 143.5,304.8 143.8,291.1 144.2,311.5 144.5,308.4 144.8,311.7 145.2,313.8 145.5,284.2 145.8,282.8 146.1,309.8 146.5,315.3 146.8,313.6 147.1,314.2 147.4,314.4 147.8,308.3 148.1,291.3 148.4,314.7 148.8,301.4 149.1,310.9 149.4,310.0 149.7,283.3 150.1,297.3 150.4,309.8 150.7,315.2 151.0,315.7 151.4,297.6 151.7,304.7 152.0,307.7 152.4,311.0 152.7,312.4 153.0,292.7 153.3,311.0 153.7,312.1 154.0,314.8 154.3,316.1 154.6,314.5 155.0,284.0 155.3,311.6 155.6,309.4 156.0,316.0 156.3,302.1 156.6,302.7 156.9,308.4 157.3,311.8 157.6,312.3 157.9,307.0 158.3,311.3 158.6,306.5 158.9,315.3 159.2,313.0 159.6,299.7 159.9,307.5 160.2,302.9 160.5,303.4 160.9,314.7" fill="none" stroke="#008000" stroke-opacity="0.72" stroke-width="0.8" stroke-linejoin="round"/>
<polyline points="30.3,283.0 30.6,286.0 30.9,287.7 31.2,289.3 31.6,291.0 31.9,291.8 32.2,292.6 32.5,293.5 32.9,294.3 33.2,295.1 33.5,295.9 33.9,296.7 34.2,297.1 34.5,297.5 34.8,297.6 35.2,297.9 35.5,298.3 35.8,298.6 36.1,298.9 36.5,299.4 36.8,299.7 37.1,300.2 37.5,299.7 37.8,300.1 38.1,300.3 38.4,300.4 38.8,301.3 39.1,301.7 39.4,301.6 39.7,301.4 40.1,301.7 40.4,301.5 40.7,300.6 41.1,301.0 41.4,300.8 41.7,303.0 42.0,302.8 42.4,301.2 42.7,303.1 43.0,303.3 43.3,302.6 43.7,304.5 44.0,299.9 44.3,302.2 44.7,304.1 45.0,299.9 45.3,304.1 45.6,303.6 46.0,301.1 46.3,300.3 46.6,298.4 46.9,301.8 47.3,301.0 47.6,305.2 47.9,304.9 48.3,303.8 48.6,301.4 48.9,301.6 49.2,301.9 49.6,301.3 49.9,301.7 50.2,303.4 50.6,300.0 50.9,306.5 51.2,307.3 51.5,301.3 51.9,302.3 52.2,307.3 52.5,302.3 52.8,301.2 53.2,301.6 53.5,303.4 53.8,305.7 54.2,302.3 54.5,301.0 54.8,308.2 55.1,307.5 55.5,302.4 55.8,309.3 56.1,304.3 56.4,307.5 56.8,302.7 57.1,300.8 57.4,299.6 57.8,306.1 58.1,303.9 58.4,306.2 58.7,306.4 59.1,298.3 59.4,291.2 59.7,302.1 60.0,304.1 60.4,308.1 60.7,300.2 61.0,307.2 61.4,304.9 61.7,298.4 62.0,303.1 62.3,300.7 62.7,303.8 63.0,305.9 63.3,304.7 63.6,301.7 64.0,302.1 64.3,307.2 64.6,309.6 65.0,304.3 65.3,309.0 65.6,304.9 65.9,301.7 66.3,306.3 66.6,303.1 66.9,304.3 67.2,299.7 67.6,298.5 67.9,306.6 68.2,308.8 68.6,309.3 68.9,305.9 69.2,304.0 69.5,291.8 69.9,299.1 70.2,307.1 70.5,306.2 70.8,302.4 71.2,309.5 71.5,304.0 71.8,309.3 72.2,304.1 72.5,304.9 72.8,301.1 73.1,305.1 73.5,304.2 73.8,288.9 74.1,307.0 74.4,302.0 74.8,307.6 75.1,304.7 75.4,308.3 75.8,311.4 76.1,310.5 76.4,300.6 76.7,302.6 77.1,304.2 77.4,309.3 77.7,308.5 78.0,301.8 78.4,288.1 78.7,311.7 79.0,309.7 79.4,310.2 79.7,305.4 80.0,312.4 80.3,305.3 80.7,310.2 81.0,298.0 81.3,283.7 81.6,303.6 82.0,301.1 82.3,293.6 82.6,290.0 83.0,311.0 83.3,304.5 83.6,307.3 83.9,305.3 84.3,298.1 84.6,299.9 84.9,304.2 85.3,293.7 85.6,312.1 85.9,302.5 86.2,301.1 86.6,309.0 86.9,307.9 87.2,306.2 87.5,311.9 87.9,304.7 88.2,302.6 88.5,304.6 88.9,307.4 89.2,304.1 89.5,310.7 89.8,304.5 90.2,294.9 90.5,303.0 90.8,307.9 91.1,308.1 91.5,307.2 91.8,298.1 92.1,310.5 92.5,306.7 92.8,304.7 93.1,310.3 93.4,304.3 93.8,304.9 94.1,301.3 94.4,312.0 94.7,304.0 95.1,277.2 95.4,305.7 95.7,312.3 96.1,291.7 96.4,285.1 96.7,311.2 97.0,308.1 97.4,299.5 97.7,306.8 98.0,303.1 98.3,312.2 98.7,301.8 99.0,309.5 99.3,291.1 99.7,310.5 100.0,278.3 100.3,293.0 100.6,301.6 101.0,294.7 101.3,303.1 101.6,299.8 101.9,309.4 102.3,308.1 102.6,311.3 102.9,307.0 103.3,309.1 103.6,310.2 103.9,311.8 104.2,307.4 104.6,301.0 104.9,311.4 105.2,302.3 105.5,306.5 105.9,279.2 106.2,311.9 106.5,298.6 106.9,308.4 107.2,297.3 107.5,313.4 107.8,309.3 108.2,304.2 108.5,312.0 108.8,304.0 109.1,300.3 109.5,290.9 109.8,295.1 110.1,313.5 110.5,286.5 110.8,304.7 111.1,302.5 111.4,313.0 111.8,306.5 112.1,312.5 112.4,311.1 112.7,306.1 113.1,305.6 113.4,305.9 113.7,290.6 114.1,308.5 114.4,306.9 114.7,313.6 115.0,304.7 115.4,312.8 115.7,305.9 116.0,287.8 116.3,311.4 116.7,313.7 117.0,302.8 117.3,302.2 117.7,301.2 118.0,312.1 118.3,303.3 118.6,312.4 119.0,305.3 119.3,288.5 119.6,306.7 120.0,298.2 120.3,306.0 120.6,304.1 120.9,304.2 121.3,310.1 121.6,300.3 121.9,310.5 122.2,302.8 122.6,303.8 122.9,297.1 123.2,293.5 123.6,314.1 123.9,305.6 124.2,282.9 124.5,311.7 124.9,314.1 125.2,301.5 125.5,304.6 125.8,310.6 126.2,287.2 126.5,304.6 126.8,308.7 127.2,314.8 127.5,312.4 127.8,310.8 128.1,282.2 128.5,306.4 128.8,295.5 129.1,311.7 129.4,311.6 129.8,303.6 130.1,303.7 130.4,300.3 130.8,304.9 131.1,310.8 131.4,306.9 131.7,301.4 132.1,308.0 132.4,306.9 132.7,289.1 133.0,313.4 133.4,307.9 133.7,312.6 134.0,303.6 134.4,285.9 134.7,305.7 135.0,307.5 135.3,307.0 135.7,284.4 136.0,312.4 136.3,298.7 136.6,308.7 137.0,306.3 137.3,309.5 137.6,310.0 138.0,290.1 138.3,305.1 138.6,312.8 138.9,315.4 139.3,303.3 139.6,305.5 139.9,293.2 140.2,306.4 140.6,306.4 140.9,300.7 141.2,294.7 141.6,312.6 141.9,313.5 142.2,309.1 142.5,297.9 142.9,313.7 143.2,312.2 143.5,285.2 143.8,311.4 144.2,295.0 144.5,300.6 144.8,288.8 145.2,311.0 145.5,303.8 145.8,309.3 146.1,308.5 146.5,304.4 146.8,313.6 147.1,300.2 147.4,302.3 147.8,307.2 148.1,309.9 148.4,310.0 148.8,305.1 149.1,302.2 149.4,314.3 149.7,304.7 150.1,309.3 150.4,305.2 150.7,305.8 151.0,312.8 151.4,301.9 151.7,306.2 152.0,293.6 152.4,312.5 152.7,301.6 153.0,309.3 153.3,307.6 153.7,310.6 154.0,313.1 154.3,310.0 154.6,306.4 155.0,311.3 155.3,309.2 155.6,298.1 156.0,296.8 156.3,301.8 156.6,303.4 156.9,310.0 157.3,307.8 157.6,304.7 157.9,314.9 158.3,313.5 158.6,311.2 158.9,304.0 159.2,314.6 159.6,311.2 159.9,314.0 160.2,307.7 160.5,312.8 160.9,314.6" fill="none" stroke="#8a2be2" stroke-opacity="0.8" stroke-width="0.8" stroke-linejoin="round"/>
<polyline points="30.3,283.0 30.6,286.5 30.9,288.4 31.2,290.2 31.6,292.0 31.9,292.8 32.2,293.6 32.5,294.5 32.9,295.3 33.2,296.1 33.5,296.9 33.9,297.7 34.2,298.2 34.5,298.5 34.8,298.6 35.2,298.8 35.5,299.3 35.8,299.4 36.1,299.7 36.5,300.6 36.8,300.9 37.1,300.4 37.5,301.2 37.8,301.6 38.1,301.1 38.4,301.4 38.8,301.9 39.1,301.2 39.4,300.9 39.7,302.7 40.1,302.4 40.4,301.3 40.7,302.2 41.1,303.6 41.4,302.8 41.7,304.1 42.0,301.2 42.4,303.0 42.7,302.8 43.0,301.8 43.3,301.5 43.7,301.9 44.0,303.6 44.3,301.5 44.7,302.4 45.0,304.4 45.3,306.8 45.6,303.1 46.0,305.5 46.3,306.4 46.6,304.5 46.9,302.5 47.3,303.2 47.6,306.8 47.9,307.0 48.3,304.6 48.6,303.9 48.9,301.1 49.2,299.6 49.6,302.1 49.9,304.4 50.2,306.6 50.6,305.8 50.9,303.1 51.2,304.5 51.5,303.9 51.9,306.7 52.2,307.8 52.5,309.1 52.8,308.7 53.2,307.0 53.5,305.6 53.8,305.6 54.2,302.6 54.5,309.6 54.8,307.8 55.1,309.5 55.5,307.4 55.8,304.6 56.1,305.5 56.4,293.7 56.8,302.0 57.1,302.9 57.4,305.4 57.8,300.7 58.1,309.7 58.4,308.2 58.7,303.0 59.1,305.0 59.4,309.5 59.7,308.2 60.0,291.8 60.4,310.1 60.7,301.5 61.0,306.5 61.4,303.2 61.7,304.6 62.0,303.5 62.3,308.5 62.7,306.7 63.0,308.8 63.3,310.2 63.6,307.9 64.0,305.3 64.3,310.6 64.6,299.5 65.0,310.8 65.3,308.6 65.6,303.9 65.9,296.1 66.3,296.3 66.6,306.4 66.9,303.0 67.2,308.8 67.6,306.5 67.9,297.0 68.2,300.6 68.6,309.4 68.9,307.3 69.2,303.9 69.5,308.7 69.9,307.2 70.2,296.9 70.5,310.1 70.8,302.4 71.2,308.4 71.5,310.3 71.8,297.2 72.2,304.8 72.5,304.2 72.8,309.9 73.1,295.8 73.5,308.8 73.8,305.0 74.1,309.0 74.4,310.4 74.8,296.5 75.1,310.9 75.4,303.4 75.8,311.9 76.1,300.2 76.4,298.7 76.7,309.4 77.1,309.1 77.4,296.2 77.7,307.1 78.0,304.0 78.4,290.3 78.7,308.0 79.0,309.0 79.4,311.5 79.7,311.7 80.0,303.8 80.3,306.4 80.7,303.9 81.0,297.8 81.3,302.2 81.6,307.0 82.0,309.7 82.3,306.4 82.6,302.2 83.0,313.5 83.3,312.2 83.6,311.9 83.9,296.8 84.3,289.7 84.6,296.3 84.9,287.8 85.3,306.2 85.6,301.0 85.9,310.7 86.2,303.8 86.6,308.4 86.9,283.5 87.2,309.4 87.5,312.7 87.9,304.2 88.2,305.4 88.5,297.7 88.9,306.6 89.2,310.0 89.5,299.8 89.8,307.0 90.2,313.8 90.5,309.2 90.8,307.1 91.1,312.3 91.5,308.5 91.8,305.2 92.1,313.1 92.5,288.5 92.8,311.8 93.1,304.9 93.4,302.6 93.8,311.3 94.1,309.2 94.4,296.3 94.7,306.2 95.1,298.4 95.4,306.5 95.7,305.9 96.1,310.0 96.4,300.3 96.7,307.9 97.0,310.6 97.4,295.9 97.7,308.9 98.0,309.9 98.3,303.5 98.7,312.8 99.0,304.4 99.3,309.8 99.7,307.2 100.0,314.2 100.3,309.3 100.6,292.0 101.0,311.4 101.3,295.1 101.6,299.3 101.9,296.7 102.3,303.5 102.6,297.3 102.9,313.6 103.3,304.7 103.6,312.0 103.9,304.4 104.2,308.6 104.6,310.3 104.9,311.1 105.2,307.8 105.5,306.3 105.9,309.7 106.2,309.7 106.5,307.6 106.9,312.2 107.2,306.1 107.5,295.5 107.8,312.2 108.2,288.6 108.5,312.4 108.8,311.8 109.1,310.2 109.5,300.2 109.8,304.1 110.1,312.4 110.5,313.6 110.8,305.3 111.1,286.0 111.4,298.1 111.8,305.4 112.1,298.1 112.4,304.7 112.7,304.7 113.1,293.7 113.4,305.4 113.7,303.1 114.1,300.5 114.4,313.7 114.7,313.8 115.0,312.5 115.4,313.6 115.7,283.2 116.0,299.8 116.3,292.3 116.7,313.5 117.0,312.7 117.3,313.1 117.7,310.5 118.0,307.5 118.3,307.9 118.6,303.6 119.0,308.1 119.3,309.0 119.6,302.3 120.0,300.2 120.3,300.5 120.6,309.3 120.9,310.7 121.3,308.8 121.6,300.7 121.9,304.1 122.2,302.4 122.6,305.2 122.9,300.7 123.2,310.8 123.6,297.2 123.9,313.2 124.2,299.3 124.5,312.4 124.9,313.6 125.2,296.8 125.5,310.7 125.8,305.9 126.2,307.3 126.5,307.7 126.8,313.8 127.2,295.7 127.5,302.4 127.8,282.3 128.1,308.1 128.5,300.4 128.8,297.9 129.1,308.5 129.4,299.8 129.8,297.5 130.1,309.1 130.4,314.2 130.8,315.0 131.1,300.5 131.4,313.6 131.7,309.3 132.1,299.8 132.4,295.3 132.7,312.2 133.0,314.8 133.4,314.5 133.7,301.4 134.0,312.5 134.4,303.0 134.7,303.4 135.0,307.1 135.3,289.2 135.7,310.4 136.0,313.0 136.3,311.0 136.6,299.3 137.0,297.3 137.3,300.8 137.6,302.6 138.0,313.5 138.3,313.9 138.6,297.6 138.9,300.3 139.3,311.2 139.6,307.8 139.9,301.3 140.2,313.6 140.6,297.8 140.9,303.5 141.2,290.9 141.6,314.0 141.9,311.7 142.2,308.8 142.5,305.5 142.9,296.8 143.2,310.8 143.5,313.6 143.8,314.3 144.2,293.9 144.5,304.6 144.8,308.9 145.2,299.8 145.5,315.7 145.8,299.7 146.1,306.4 146.5,311.2 146.8,315.5 147.1,299.3 147.4,287.2 147.8,309.4 148.1,304.1 148.4,314.1 148.8,303.9 149.1,292.2 149.4,314.3 149.7,311.3 150.1,302.3 150.4,309.6 150.7,311.3 151.0,297.5 151.4,305.5 151.7,314.8 152.0,308.2 152.4,291.3 152.7,312.6 153.0,307.1 153.3,311.1 153.7,304.0 154.0,314.3 154.3,309.8 154.6,308.6 155.0,308.4 155.3,298.7 155.6,296.9 156.0,298.5 156.3,314.7 156.6,306.3 156.9,307.0 157.3,291.1 157.6,314.8 157.9,308.2 158.3,304.7 158.6,311.0 158.9,296.4 159.2,311.0 159.6,316.3 159.9,315.3 160.2,313.5 160.5,310.2 160.9,308.7" fill="none" stroke="#ffa07a" stroke-opacity="0.8" stroke-width="0.8" stroke-linejoin="round"/>
<polyline points="30.3,283.0 30.6,287.0 30.9,289.0 31.2,291.0 31.6,293.0 31.9,293.8 32.2,294.6 32.5,295.5 32.9,296.3 33.2,297.1 33.5,297.9 33.9,298.7 34.2,299.1 34.5,299.3 34.8,299.6 35.2,300.3 35.5,300.6 35.8,300.8 36.1,301.1 36.5,301.3 36.8,301.5 37.1,302.2 37.5,302.1 37.8,301.8 38.1,302.9 38.4,302.8 38.8,303.0 39.1,302.3 39.4,302.4 39.7,302.9 40.1,303.0 40.4,303.4 40.7,301.9 41.1,304.3 41.4,303.0 41.7,304.8 42.0,304.1 42.4,303.6 42.7,302.6 43.0,306.1 43.3,302.7 43.7,303.7 44.0,305.2 44.3,303.2 44.7,305.5 45.0,303.1 45.3,304.8 45.6,304.8 46.0,303.2 46.3,303.6 46.6,306.9 46.9,304.7 47.3,302.9 47.6,303.3 47.9,305.4 48.3,306.4 48.6,301.9 48.9,306.1 49.2,308.5 49.6,306.6 49.9,299.4 50.2,306.5 50.6,304.6 50.9,303.1 51.2,304.3 51.5,296.9 51.9,307.6 52.2,305.8 52.5,309.7 52.8,309.7 53.2,309.7 53.5,306.9 53.8,304.2 54.2,305.9 54.5,310.9 54.8,306.9 55.1,307.7 55.5,309.9 55.8,306.0 56.1,299.9 56.4,310.0 56.8,307.8 57.1,307.1 57.4,301.8 57.8,310.2 58.1,306.8 58.4,310.6 58.7,302.6 59.1,296.1 59.4,305.6 59.7,307.7 60.0,304.4 60.4,303.8 60.7,309.2 61.0,302.7 61.4,309.9 61.7,310.6 62.0,302.2 62.3,304.3 62.7,308.1 63.0,303.9 63.3,299.7 63.6,310.0 64.0,306.7 64.3,306.0 64.6,311.7 65.0,303.6 65.3,297.1 65.6,310.8 65.9,307.9 66.3,306.3 66.6,308.4 66.9,299.3 67.2,302.3 67.6,311.0 67.9,305.5 68.2,299.8 68.6,301.9 68.9,304.5 69.2,298.6 69.5,306.5 69.9,308.5 70.2,309.4 70.5,311.5 70.8,310.5 71.2,312.8 71.5,308.7 71.8,307.5 72.2,309.5 72.5,311.8 72.8,295.7 73.1,307.0 73.5,301.4 73.8,281.2 74.1,306.9 74.4,305.7 74.8,310.8 75.1,303.3 75.4,311.1 75.8,302.6 76.1,310.0 76.4,313.7 76.7,307.9 77.1,314.1 77.4,306.8 77.7,297.2 78.0,308.4 78.4,305.7 78.7,302.9 79.0,311.1 79.4,307.9 79.7,312.8 80.0,309.0 80.3,304.8 80.7,313.6 81.0,309.0 81.3,314.0 81.6,308.2 82.0,307.6 82.3,292.2 82.6,292.0 83.0,300.9 83.3,302.7 83.6,306.7 83.9,297.9 84.3,277.2 84.6,312.1 84.9,287.3 85.3,306.8 85.6,300.2 85.9,299.4 86.2,311.2 86.6,308.4 86.9,284.9 87.2,297.2 87.5,304.3 87.9,311.9 88.2,311.4 88.5,304.8 88.9,297.6 89.2,302.6 89.5,285.1 89.8,311.2 90.2,310.4 90.5,312.1 90.8,306.8 91.1,313.0 91.5,308.6 91.8,297.4 92.1,296.3 92.5,299.8 92.8,308.8 93.1,312.0 93.4,309.5 93.8,312.8 94.1,311.1 94.4,310.9 94.7,297.4 95.1,296.2 95.4,306.5 95.7,279.9 96.1,311.8 96.4,309.7 96.7,295.0 97.0,314.3 97.4,311.0 97.7,312.4 98.0,306.6 98.3,301.4 98.7,309.2 99.0,312.5 99.3,307.4 99.7,301.1 100.0,315.5 100.3,280.2 100.6,308.1 101.0,311.4 101.3,306.8 101.6,300.6 101.9,310.3 102.3,311.4 102.6,313.4 102.9,309.0 103.3,312.0 103.6,292.7 103.9,308.5 104.2,309.2 104.6,306.0 104.9,305.6 105.2,294.5 105.5,302.7 105.9,290.8 106.2,301.9 106.5,311.6 106.9,299.5 107.2,305.0 107.5,313.6 107.8,307.8 108.2,310.0 108.5,289.5 108.8,310.0 109.1,307.3 109.5,314.0 109.8,311.6 110.1,315.6 110.5,315.5 110.8,307.0 111.1,309.9 111.4,298.1 111.8,314.3 112.1,305.7 112.4,310.6 112.7,313.1 113.1,291.9 113.4,310.9 113.7,293.2 114.1,305.6 114.4,290.2 114.7,312.8 115.0,310.3 115.4,297.1 115.7,308.1 116.0,308.7 116.3,310.0 116.7,308.9 117.0,300.7 117.3,314.0 117.7,309.3 118.0,313.5 118.3,312.1 118.6,307.4 119.0,301.7 119.3,301.7 119.6,310.3 120.0,309.0 120.3,314.0 120.6,312.8 120.9,310.9 121.3,311.6 121.6,312.4 121.9,305.9 122.2,296.3 122.6,309.5 122.9,303.3 123.2,301.4 123.6,313.7 123.9,315.7 124.2,295.9 124.5,314.2 124.9,283.1 125.2,302.0 125.5,315.9 125.8,310.3 126.2,314.5 126.5,305.0 126.8,308.7 127.2,302.8 127.5,304.3 127.8,313.5 128.1,307.6 128.5,304.6 128.8,298.5 129.1,311.1 129.4,314.8 129.8,301.8 130.1,316.2 130.4,311.0 130.8,308.5 131.1,306.4 131.4,311.4 131.7,303.7 132.1,310.1 132.4,301.2 132.7,306.4 133.0,312.0 133.4,314.4 133.7,303.7 134.0,304.6 134.4,315.2 134.7,305.3 135.0,294.6 135.3,302.4 135.7,303.0 136.0,306.6 136.3,310.5 136.6,282.3 137.0,310.6 137.3,310.5 137.6,296.1 138.0,305.3 138.3,310.9 138.6,309.1 138.9,305.8 139.3,284.2 139.6,311.9 139.9,310.9 140.2,313.5 140.6,315.4 140.9,304.1 141.2,299.4 141.6,315.1 141.9,316.8 142.2,310.1 142.5,308.1 142.9,310.9 143.2,309.8 143.5,311.5 143.8,313.5 144.2,312.7 144.5,292.1 144.8,307.2 145.2,308.8 145.5,312.5 145.8,311.2 146.1,308.2 146.5,285.5 146.8,313.9 147.1,306.9 147.4,316.1 147.8,316.7 148.1,308.0 148.4,302.4 148.8,302.9 149.1,307.3 149.4,306.2 149.7,315.7 150.1,316.4 150.4,310.4 150.7,315.1 151.0,312.3 151.4,302.4 151.7,308.5 152.0,308.9 152.4,302.5 152.7,301.1 153.0,317.6 153.3,291.0 153.7,313.0 154.0,315.1 154.3,317.3 154.6,314.9 155.0,307.0 155.3,307.1 155.6,315.6 156.0,310.9 156.3,302.4 156.6,311.0 156.9,314.1 157.3,304.4 157.6,309.4 157.9,312.4 158.3,304.1 158.6,316.3 158.9,308.8 159.2,312.9 159.6,314.3 159.9,315.7 160.2,308.6 160.5,316.8 160.9,306.3" fill="none" stroke="#00ffff" stroke-opacity="0.68" stroke-width="0.8" stroke-linejoin="round"/>
</g></g>
<clipPath id="cliph"><rect x="193.4" y="190.0" width="144.0" height="139.8"/></clipPath><g clip-path="url(#cliph)"><g filter="url(#soft)">
<line x1="201.25" y1="197.0" x2="201.49" y2="273" stroke="#33b5b5" stroke-opacity="0.75" stroke-width="0.8"/>
<polyline points="201.3,274.0 201.6,276.0 201.9,277.3 202.2,278.6 202.6,279.8 202.9,281.1 203.2,282.4 203.5,283.2 203.9,283.6 204.2,284.1 204.5,284.5 204.9,284.9 205.2,285.2 205.5,285.7 205.8,285.9 206.2,286.2 206.5,286.8 206.8,287.1 207.1,287.4 207.5,287.7 207.8,288.1 208.1,288.8 208.5,288.2 208.8,289.2 209.1,289.5 209.4,290.2 209.8,289.2 210.1,289.7 210.4,289.5 210.7,291.1 211.1,290.3 211.4,291.6 211.7,289.7 212.1,290.0 212.4,290.3 212.7,292.7 213.0,291.6 213.4,293.7 213.7,288.6 214.0,289.3 214.3,294.5 214.7,288.8 215.0,293.5 215.3,293.3 215.7,291.0 216.0,288.2 216.3,293.2 216.6,296.6 217.0,294.8 217.3,289.0 217.6,292.9 217.9,292.3 218.3,296.9 218.6,287.4 218.9,288.8 219.3,294.0 219.6,296.4 219.9,295.0 220.2,285.3 220.6,297.4 220.9,299.3 221.2,290.4 221.6,293.7 221.9,282.6 222.2,287.5 222.5,285.2 222.9,277.6 223.2,279.6 223.5,285.8 223.8,285.0 224.2,291.0 224.5,285.8 224.8,300.0 225.2,300.4 225.5,298.1 225.8,292.7 226.1,285.2 226.5,290.3 226.8,271.8 227.1,287.5 227.4,288.8 227.8,288.5 228.1,284.9 228.4,297.7 228.8,278.2 229.1,287.3 229.4,292.3 229.7,278.9 230.1,281.5 230.4,280.7 230.7,300.0 231.0,291.3 231.4,292.8 231.7,295.8 232.0,277.5 232.4,294.3 232.7,278.1 233.0,289.6 233.3,303.2 233.7,295.1 234.0,286.0 234.3,297.6 234.6,282.2 235.0,263.0 235.3,294.5 235.6,305.7 236.0,300.1 236.3,303.5 236.6,290.3 236.9,280.9 237.3,302.4 237.6,300.1 237.9,281.9 238.2,291.5 238.6,296.4 238.9,303.5 239.2,298.3 239.6,271.6 239.9,296.1 240.2,303.2 240.5,306.4 240.9,304.0 241.2,297.5 241.5,296.8 241.8,287.7 242.2,295.0 242.5,301.7 242.8,305.8 243.2,289.4 243.5,301.4 243.8,291.1 244.1,306.5 244.5,305.8 244.8,298.6 245.1,283.6 245.4,284.4 245.8,296.1 246.1,307.5 246.4,293.4 246.8,278.8 247.1,286.0 247.4,300.1 247.7,308.5 248.1,293.1 248.4,295.8 248.7,286.5 249.0,294.9 249.4,284.6 249.7,280.3 250.0,280.8 250.4,307.6 250.7,282.3 251.0,282.3 251.3,304.3 251.7,274.7 252.0,297.9 252.3,283.2 252.6,298.3 253.0,278.3 253.3,286.4 253.6,304.6 254.0,294.5 254.3,301.4 254.6,300.3 254.9,297.5 255.3,300.8 255.6,306.6 255.9,288.1 256.3,307.5 256.6,287.7 256.9,289.7 257.2,311.8 257.6,281.1 257.9,287.4 258.2,281.6 258.5,297.2 258.9,292.2 259.2,295.4 259.5,306.7 259.9,297.9 260.2,305.9 260.5,296.1 260.8,303.1 261.2,278.1 261.5,271.3 261.8,297.9 262.1,282.5 262.5,300.2 262.8,294.9 263.1,260.2 263.5,300.6 263.8,311.1 264.1,278.3 264.4,280.5 264.8,273.4 265.1,283.5 265.4,302.8 265.7,291.9 266.1,312.1 266.4,294.7 266.7,306.2 267.1,283.0 267.4,279.6 267.7,284.9 268.0,274.9 268.4,285.5 268.7,285.8 269.0,285.4 269.3,282.6 269.7,301.7 270.0,302.7 270.3,286.9 270.7,285.2 271.0,267.5 271.3,284.8 271.6,290.3 272.0,313.8 272.3,305.0 272.6,291.6 272.9,279.8 273.3,284.8 273.6,290.8 273.9,313.0 274.3,280.6 274.6,311.1 274.9,288.8 275.2,292.1 275.6,310.1 275.9,309.7 276.2,295.7 276.5,297.6 276.9,290.7 277.2,288.5 277.5,297.9 277.9,293.5 278.2,315.8 278.5,312.8 278.8,307.4 279.2,304.5 279.5,315.4 279.8,286.6 280.1,312.8 280.5,285.1 280.8,287.0 281.1,292.5 281.5,289.6 281.8,317.2 282.1,305.9 282.4,296.5 282.8,288.6 283.1,310.8 283.4,271.1 283.7,295.2 284.1,309.6 284.4,299.0 284.7,309.9 285.1,264.8 285.4,305.4 285.7,291.5 286.0,300.3 286.4,293.4 286.7,294.9 287.0,308.6 287.3,292.9 287.7,282.2 288.0,297.2 288.3,294.3 288.7,303.9 289.0,293.4 289.3,286.6 289.6,316.0 290.0,313.5 290.3,291.4 290.6,313.4 291.0,302.3 291.3,293.5 291.6,292.1 291.9,294.1 292.3,293.0 292.6,308.3 292.9,289.0 293.2,296.4 293.6,308.6 293.9,278.5 294.2,317.7 294.6,294.4 294.9,291.3 295.2,278.5 295.5,320.6 295.9,311.9 296.2,290.8 296.5,308.1 296.8,292.7 297.2,297.2 297.5,282.9 297.8,290.8 298.2,269.8 298.5,308.5 298.8,287.5 299.1,286.2 299.5,320.8 299.8,300.6 300.1,315.9 300.4,289.8 300.8,309.8 301.1,302.9 301.4,310.9 301.8,313.5 302.1,304.3 302.4,318.3 302.7,288.4 303.1,305.5 303.4,307.6 303.7,298.0 304.0,268.8 304.4,301.6 304.7,322.1 305.0,287.1 305.4,306.0 305.7,316.8 306.0,277.6 306.3,281.0 306.7,290.9 307.0,313.9 307.3,307.9 307.6,268.4 308.0,274.8 308.3,319.1 308.6,290.7 309.0,323.6 309.3,312.6 309.6,314.2 309.9,280.8 310.3,321.4 310.6,308.0 310.9,305.8 311.2,294.6 311.6,297.7 311.9,289.3 312.2,284.5 312.6,283.1 312.9,289.8 313.2,279.2 313.5,281.8 313.9,299.2 314.2,301.5 314.5,299.0 314.8,320.3 315.2,271.6 315.5,282.5 315.8,278.5 316.2,305.1 316.5,272.3 316.8,286.6 317.1,280.0 317.5,281.8 317.8,305.2 318.1,294.1 318.4,316.3 318.8,290.6 319.1,284.4 319.4,312.3 319.8,280.5 320.1,300.8 320.4,316.7 320.7,323.0 321.1,279.4 321.4,323.0 321.7,301.6 322.0,321.2 322.4,295.5 322.7,318.2 323.0,285.9 323.4,308.5 323.7,316.0 324.0,315.0 324.3,321.3 324.7,314.1 325.0,280.3 325.3,318.2 325.6,299.0 326.0,317.3 326.3,317.3 326.6,306.1 327.0,292.0 327.3,316.6 327.6,266.1 327.9,305.4 328.3,302.1 328.6,295.0 328.9,319.0 329.3,319.6 329.6,287.3 329.9,297.1 330.2,292.3 330.6,304.1 330.9,293.6 331.2,294.3 331.5,300.6 331.9,307.1" fill="none" stroke="#ff0000" stroke-opacity="0.8" stroke-width="0.8" stroke-linejoin="round"/>
<polyline points="201.3,274.0 201.6,276.0 201.9,277.4 202.2,278.7 202.6,280.1 202.9,281.5 203.2,282.8 203.5,283.7 203.9,284.1 204.2,284.5 204.5,284.9 204.9,285.3 205.2,285.6 205.5,286.1 205.8,286.2 206.2,286.8 206.5,287.1 206.8,287.3 207.1,288.0 207.5,288.0 207.8,288.8 208.1,288.9 208.5,289.3 208.8,288.9 209.1,289.5 209.4,289.4 209.8,290.5 210.1,289.9 210.4,290.3 210.7,290.2 211.1,290.1 211.4,290.6 211.7,292.9 212.1,290.5 212.4,293.0 212.7,291.3 213.0,290.4 213.4,293.1 213.7,289.7 214.0,291.3 214.3,293.3 214.7,293.1 215.0,291.8 215.3,292.0 215.7,289.2 216.0,289.9 216.3,290.2 216.6,292.5 217.0,290.3 217.3,290.5 217.6,291.6 217.9,294.7 218.3,288.9 218.6,291.8 218.9,287.7 219.3,297.4 219.6,290.4 219.9,286.1 220.2,292.3 220.6,297.9 220.9,297.4 221.2,289.5 221.6,298.5 221.9,299.4 222.2,298.3 222.5,299.9 222.9,287.0 223.2,290.6 223.5,288.3 223.8,297.9 224.2,301.7 224.5,290.7 224.8,286.3 225.2,289.7 225.5,293.5 225.8,288.8 226.1,296.4 226.5,298.0 226.8,287.8 227.1,288.2 227.4,278.3 227.8,304.2 228.1,303.6 228.4,284.7 228.8,289.4 229.1,290.7 229.4,292.8 229.7,295.6 230.1,289.2 230.4,292.9 230.7,287.3 231.0,290.8 231.4,287.1 231.7,298.1 232.0,293.4 232.4,302.1 232.7,304.6 233.0,291.1 233.3,305.0 233.7,291.3 234.0,270.1 234.3,303.6 234.6,289.0 235.0,302.1 235.3,301.3 235.6,290.4 236.0,274.5 236.3,282.5 236.6,285.3 236.9,290.3 237.3,285.6 237.6,290.7 237.9,264.7 238.2,287.4 238.6,294.4 238.9,293.8 239.2,291.9 239.6,289.5 239.9,289.6 240.2,292.7 240.5,301.2 240.9,305.3 241.2,303.4 241.5,305.2 241.8,294.4 242.2,307.3 242.5,293.3 242.8,284.9 243.2,274.4 243.5,280.3 243.8,290.2 244.1,305.7 244.5,291.5 244.8,307.0 245.1,300.2 245.4,288.4 245.8,301.0 246.1,305.2 246.4,286.3 246.8,288.3 247.1,288.5 247.4,286.9 247.7,293.7 248.1,285.0 248.4,296.4 248.7,302.3 249.0,291.7 249.4,303.2 249.7,309.6 250.0,281.7 250.4,276.5 250.7,278.6 251.0,293.6 251.3,308.1 251.7,281.4 252.0,299.7 252.3,297.7 252.6,288.1 253.0,305.0 253.3,304.6 253.6,305.6 254.0,302.6 254.3,299.2 254.6,294.2 254.9,308.9 255.3,281.7 255.6,283.2 255.9,295.1 256.3,291.4 256.6,299.4 256.9,298.9 257.2,302.3 257.6,296.2 257.9,295.0 258.2,301.5 258.5,287.1 258.9,283.4 259.2,286.1 259.5,307.6 259.9,306.5 260.2,289.2 260.5,305.0 260.8,303.8 261.2,305.5 261.5,284.9 261.8,301.0 262.1,304.3 262.5,294.2 262.8,273.5 263.1,293.6 263.5,296.1 263.8,292.4 264.1,312.1 264.4,271.2 264.8,309.7 265.1,292.3 265.4,309.4 265.7,277.8 266.1,285.2 266.4,276.9 266.7,284.1 267.1,307.7 267.4,311.0 267.7,262.4 268.0,294.5 268.4,292.9 268.7,308.5 269.0,311.7 269.3,314.1 269.7,307.8 270.0,301.7 270.3,305.0 270.7,297.9 271.0,293.3 271.3,303.3 271.6,308.0 272.0,298.7 272.3,289.7 272.6,298.9 272.9,296.4 273.3,298.9 273.6,271.2 273.9,303.3 274.3,280.9 274.6,308.3 274.9,280.8 275.2,312.2 275.6,303.7 275.9,285.7 276.2,298.5 276.5,307.7 276.9,311.0 277.2,301.4 277.5,315.4 277.9,308.1 278.2,286.0 278.5,298.9 278.8,306.9 279.2,287.5 279.5,301.7 279.8,302.2 280.1,296.6 280.5,307.9 280.8,305.2 281.1,280.5 281.5,313.2 281.8,313.3 282.1,313.4 282.4,306.2 282.8,313.8 283.1,252.0 283.4,300.3 283.7,287.3 284.1,291.8 284.4,293.8 284.7,318.5 285.1,315.3 285.4,304.3 285.7,309.4 286.0,289.5 286.4,283.5 286.7,300.4 287.0,310.9 287.3,310.5 287.7,298.6 288.0,275.5 288.3,296.8 288.7,314.4 289.0,294.4 289.3,302.6 289.6,291.2 290.0,319.1 290.3,311.5 290.6,294.1 291.0,312.4 291.3,291.8 291.6,281.9 291.9,295.5 292.3,307.1 292.6,280.9 292.9,317.9 293.2,306.7 293.6,293.6 293.9,295.5 294.2,287.5 294.6,316.9 294.9,321.7 295.2,316.2 295.5,313.5 295.9,306.9 296.2,304.5 296.5,302.8 296.8,271.4 297.2,285.0 297.5,307.7 297.8,280.8 298.2,316.0 298.5,311.5 298.8,303.7 299.1,294.7 299.5,282.7 299.8,322.2 300.1,318.6 300.4,304.6 300.8,301.0 301.1,301.5 301.4,304.7 301.8,315.7 302.1,296.6 302.4,287.2 302.7,298.5 303.1,292.4 303.4,288.5 303.7,279.3 304.0,320.7 304.4,284.9 304.7,316.0 305.0,279.0 305.4,294.1 305.7,318.0 306.0,302.2 306.3,287.5 306.7,284.5 307.0,323.0 307.3,305.3 307.6,307.8 308.0,278.4 308.3,295.1 308.6,293.2 309.0,322.6 309.3,295.9 309.6,302.5 309.9,321.2 310.3,297.4 310.6,269.1 310.9,303.3 311.2,317.1 311.6,294.3 311.9,293.6 312.2,296.2 312.6,315.4 312.9,300.0 313.2,309.9 313.5,294.7 313.9,320.7 314.2,320.1 314.5,321.8 314.8,293.5 315.2,268.4 315.5,293.3 315.8,286.5 316.2,315.5 316.5,311.7 316.8,312.9 317.1,289.1 317.5,306.7 317.8,305.0 318.1,308.9 318.4,322.7 318.8,304.1 319.1,291.8 319.4,305.4 319.8,285.8 320.1,297.7 320.4,322.8 320.7,305.1 321.1,297.3 321.4,306.2 321.7,280.8 322.0,299.1 322.4,323.2 322.7,319.8 323.0,310.9 323.4,308.5 323.7,319.9 324.0,296.9 324.3,300.6 324.7,315.7 325.0,313.1 325.3,322.0 325.6,309.3 326.0,272.8 326.3,305.7 326.6,319.0 327.0,314.5 327.3,307.0 327.6,270.5 327.9,304.0 328.3,297.9 328.6,322.6 328.9,315.7 329.3,294.9 329.6,317.4 329.9,288.9 330.2,318.1 330.6,321.1 330.9,308.9 331.2,291.0 331.5,297.0 331.9,316.2" fill="none" stroke="#008000" stroke-opacity="0.72" stroke-width="0.8" stroke-linejoin="round"/>
<polyline points="201.3,273.0 201.6,274.0 201.9,274.8 202.2,275.6 202.6,276.5 202.9,277.3 203.2,278.1 203.5,278.7 203.9,279.0 204.2,279.3 204.5,279.7 204.9,280.0 205.2,280.2 205.5,280.5 205.8,281.0 206.2,281.1 206.5,281.4 206.8,281.5 207.1,281.8 207.5,282.5 207.8,282.9 208.1,282.4 208.5,283.1 208.8,282.7 209.1,283.0 209.4,282.8 209.8,283.8 210.1,282.9 210.4,283.6 210.7,282.8 211.1,283.6 211.4,284.1 211.7,283.8 212.1,282.9 212.4,283.5 212.7,283.9 213.0,284.6 213.4,285.4 213.7,282.5 214.0,284.4 214.3,284.3 214.7,284.7 215.0,282.4 215.3,283.4 215.7,286.5 216.0,280.1 216.3,283.4 216.6,285.0 217.0,280.8 217.3,286.0 217.6,280.5 217.9,283.8 218.3,284.6 218.6,282.1 218.9,277.6 219.3,281.3 219.6,289.7 219.9,286.2 220.2,289.8 220.6,280.5 220.9,279.2 221.2,281.0 221.6,279.1 221.9,281.6 222.2,278.0 222.5,277.2 222.9,274.4 223.2,280.1 223.5,276.6 223.8,290.7 224.2,290.8 224.5,278.2 224.8,288.9 225.2,278.6 225.5,282.9 225.8,284.0 226.1,290.5 226.5,272.5 226.8,288.9 227.1,281.4 227.4,289.4 227.8,293.0 228.1,279.7 228.4,291.2 228.8,277.5 229.1,293.3 229.4,289.6 229.7,290.4 230.1,282.4 230.4,286.2 230.7,276.3 231.0,290.0 231.4,276.0 231.7,267.8 232.0,290.8 232.4,275.9 232.7,297.4 233.0,278.1 233.3,277.8 233.7,294.1 234.0,291.7 234.3,284.6 234.6,295.4 235.0,298.1 235.3,281.1 235.6,264.6 236.0,275.3 236.3,286.5 236.6,285.2 236.9,282.9 237.3,286.0 237.6,281.4 237.9,283.1 238.2,295.9 238.6,284.9 238.9,288.5 239.2,278.8 239.6,285.5 239.9,276.9 240.2,288.6 240.5,281.0 240.9,293.6 241.2,298.7 241.5,293.6 241.8,285.9 242.2,295.0 242.5,286.5 242.8,296.8 243.2,289.5 243.5,295.9 243.8,281.1 244.1,288.2 244.5,287.9 244.8,287.4 245.1,297.6 245.4,281.1 245.8,296.8 246.1,292.8 246.4,299.8 246.8,282.2 247.1,290.1 247.4,300.1 247.7,282.8 248.1,286.3 248.4,271.8 248.7,296.4 249.0,280.3 249.4,275.8 249.7,280.6 250.0,267.2 250.4,288.4 250.7,288.8 251.0,289.2 251.3,281.8 251.7,269.4 252.0,279.9 252.3,292.6 252.6,295.6 253.0,300.5 253.3,281.6 253.6,261.4 254.0,263.4 254.3,293.7 254.6,268.7 254.9,275.2 255.3,293.8 255.6,299.4 255.9,285.5 256.3,286.4 256.6,302.9 256.9,291.3 257.2,295.9 257.6,288.1 257.9,283.8 258.2,284.7 258.5,292.1 258.9,275.7 259.2,291.3 259.5,284.6 259.9,298.0 260.2,304.8 260.5,285.3 260.8,274.3 261.2,274.5 261.5,284.1 261.8,285.3 262.1,285.3 262.5,302.8 262.8,301.4 263.1,276.2 263.5,306.0 263.8,300.6 264.1,269.3 264.4,296.8 264.8,291.5 265.1,285.6 265.4,301.3 265.7,282.2 266.1,291.5 266.4,287.3 266.7,306.7 267.1,265.6 267.4,293.9 267.7,294.9 268.0,294.3 268.4,283.0 268.7,288.1 269.0,281.4 269.3,283.7 269.7,280.8 270.0,277.6 270.3,283.4 270.7,286.8 271.0,285.3 271.3,273.4 271.6,284.4 272.0,305.0 272.3,285.7 272.6,303.7 272.9,297.4 273.3,305.3 273.6,302.1 273.9,270.4 274.3,277.5 274.6,275.2 274.9,292.5 275.2,285.1 275.6,293.2 275.9,280.5 276.2,308.5 276.5,302.1 276.9,279.5 277.2,280.3 277.5,277.8 277.9,292.4 278.2,295.3 278.5,294.0 278.8,279.6 279.2,302.8 279.5,304.9 279.8,307.5 280.1,305.4 280.5,303.5 280.8,290.5 281.1,282.1 281.5,300.0 281.8,292.5 282.1,286.8 282.4,306.1 282.8,282.2 283.1,300.1 283.4,305.0 283.7,300.9 284.1,275.3 284.4,284.8 284.7,279.3 285.1,270.5 285.4,308.5 285.7,290.4 286.0,285.2 286.4,290.8 286.7,299.8 287.0,284.8 287.3,294.3 287.7,282.5 288.0,298.2 288.3,303.3 288.7,283.4 289.0,296.2 289.3,286.6 289.6,263.2 290.0,296.8 290.3,289.7 290.6,298.0 291.0,299.9 291.3,289.2 291.6,303.5 291.9,280.3 292.3,274.0 292.6,307.3 292.9,306.5 293.2,282.6 293.6,295.7 293.9,287.7 294.2,307.1 294.6,309.6 294.9,293.9 295.2,289.4 295.5,280.0 295.9,303.7 296.2,295.5 296.5,274.4 296.8,287.7 297.2,295.1 297.5,288.7 297.8,303.8 298.2,294.5 298.5,297.4 298.8,285.2 299.1,293.7 299.5,292.0 299.8,297.0 300.1,284.3 300.4,276.0 300.8,286.3 301.1,301.7 301.4,283.2 301.8,284.1 302.1,287.4 302.4,290.6 302.7,285.5 303.1,285.0 303.4,295.2 303.7,274.0 304.0,273.2 304.4,270.5 304.7,296.5 305.0,276.9 305.4,291.6 305.7,286.2 306.0,297.1 306.3,284.3 306.7,284.6 307.0,294.3 307.3,291.2 307.6,294.3 308.0,283.7 308.3,305.8 308.6,308.6 309.0,292.2 309.3,297.2 309.6,281.0 309.9,308.0 310.3,301.1 310.6,297.5 310.9,294.2 311.2,300.9 311.6,306.3 311.9,296.9 312.2,309.1 312.6,283.7 312.9,303.9 313.2,278.2 313.5,311.4 313.9,269.2 314.2,286.0 314.5,278.7 314.8,302.5 315.2,280.8 315.5,309.1 315.8,288.7 316.2,289.3 316.5,298.3 316.8,311.8 317.1,296.3 317.5,289.1 317.8,305.0 318.1,309.3 318.4,280.7 318.8,278.0 319.1,304.4 319.4,282.1 319.8,290.8 320.1,287.5 320.4,272.6 320.7,284.0 321.1,299.3 321.4,309.0 321.7,266.1 322.0,310.5 322.4,273.0 322.7,283.7 323.0,304.6 323.4,288.8 323.7,309.9 324.0,310.2 324.3,290.8 324.7,274.1 325.0,312.1 325.3,302.4 325.6,308.6 326.0,281.3 326.3,291.9 326.6,285.7 327.0,280.0 327.3,278.1 327.6,314.4 327.9,286.2 328.3,288.8 328.6,287.6 328.9,288.1 329.3,286.4 329.6,290.7 329.9,300.1 330.2,268.9 330.6,269.4 330.9,313.3 331.2,311.0 331.5,271.6 331.9,299.9" fill="none" stroke="#8a2be2" stroke-opacity="0.8" stroke-width="0.8" stroke-linejoin="round"/>
<polyline points="201.3,273.0 201.6,274.5 201.9,275.4 202.2,276.3 202.6,277.2 202.9,278.1 203.2,279.0 203.5,279.7 203.9,280.0 204.2,280.3 204.5,280.7 204.9,281.0 205.2,281.2 205.5,281.5 205.8,281.9 206.2,282.1 206.5,282.5 206.8,282.6 207.1,283.2 207.5,283.0 207.8,283.7 208.1,283.9 208.5,284.1 208.8,284.6 209.1,284.7 209.4,284.8 209.8,284.2 210.1,284.8 210.4,284.3 210.7,283.7 211.1,284.7 211.4,284.8 211.7,284.7 212.1,284.4 212.4,285.1 212.7,285.8 213.0,286.0 213.4,285.5 213.7,285.9 214.0,288.0 214.3,285.1 214.7,282.7 215.0,286.6 215.3,283.3 215.7,288.3 216.0,284.6 216.3,281.5 216.6,289.4 217.0,286.5 217.3,287.9 217.6,286.5 217.9,278.4 218.3,286.1 218.6,282.2 218.9,285.0 219.3,284.1 219.6,290.3 219.9,286.3 220.2,291.8 220.6,290.1 220.9,288.5 221.2,291.4 221.6,285.0 221.9,280.5 222.2,283.1 222.5,283.1 222.9,286.2 223.2,282.5 223.5,289.5 223.8,293.1 224.2,282.1 224.5,281.1 224.8,295.8 225.2,275.0 225.5,286.2 225.8,283.2 226.1,282.2 226.5,279.8 226.8,279.1 227.1,295.3 227.4,295.0 227.8,290.2 228.1,284.7 228.4,278.3 228.8,281.3 229.1,273.1 229.4,282.3 229.7,286.9 230.1,285.2 230.4,280.9 230.7,272.1 231.0,278.4 231.4,294.1 231.7,289.8 232.0,294.9 232.4,293.3 232.7,294.7 233.0,290.9 233.3,285.0 233.7,295.4 234.0,265.2 234.3,283.5 234.6,284.2 235.0,290.1 235.3,290.8 235.6,294.0 236.0,300.3 236.3,284.6 236.6,288.0 236.9,286.4 237.3,290.5 237.6,279.6 237.9,281.9 238.2,282.4 238.6,296.9 238.9,285.4 239.2,285.8 239.6,298.9 239.9,290.6 240.2,290.8 240.5,292.1 240.9,292.6 241.2,282.6 241.5,281.4 241.8,281.3 242.2,288.1 242.5,282.2 242.8,297.9 243.2,283.1 243.5,297.6 243.8,294.9 244.1,299.3 244.5,282.0 244.8,284.6 245.1,285.4 245.4,302.7 245.8,298.5 246.1,291.1 246.4,302.1 246.8,263.6 247.1,293.6 247.4,294.1 247.7,264.4 248.1,282.3 248.4,283.0 248.7,299.9 249.0,280.5 249.4,301.3 249.7,283.7 250.0,289.2 250.4,283.2 250.7,299.6 251.0,283.2 251.3,295.6 251.7,281.7 252.0,282.9 252.3,297.4 252.6,301.2 253.0,267.7 253.3,275.8 253.6,284.6 254.0,300.8 254.3,305.4 254.6,294.7 254.9,297.6 255.3,290.4 255.6,293.3 255.9,294.1 256.3,285.3 256.6,285.0 256.9,300.7 257.2,306.9 257.6,286.6 257.9,306.7 258.2,278.3 258.5,299.3 258.9,297.4 259.2,270.7 259.5,303.3 259.9,292.6 260.2,300.0 260.5,299.4 260.8,260.9 261.2,283.5 261.5,271.8 261.8,298.3 262.1,296.4 262.5,290.1 262.8,283.1 263.1,285.2 263.5,288.9 263.8,296.6 264.1,291.1 264.4,260.3 264.8,282.7 265.1,287.1 265.4,306.8 265.7,284.2 266.1,304.7 266.4,283.2 266.7,306.9 267.1,298.9 267.4,281.7 267.7,288.8 268.0,287.9 268.4,276.1 268.7,300.6 269.0,294.6 269.3,290.7 269.7,293.8 270.0,287.9 270.3,285.1 270.7,283.6 271.0,290.5 271.3,277.0 271.6,288.6 272.0,286.1 272.3,294.0 272.6,305.1 272.9,299.2 273.3,291.4 273.6,289.0 273.9,305.2 274.3,288.0 274.6,307.4 274.9,304.0 275.2,306.3 275.6,288.3 275.9,307.0 276.2,282.3 276.5,299.4 276.9,295.5 277.2,309.0 277.5,284.5 277.9,298.7 278.2,262.6 278.5,297.0 278.8,308.3 279.2,280.0 279.5,287.8 279.8,277.8 280.1,283.8 280.5,284.6 280.8,292.6 281.1,285.7 281.5,295.8 281.8,289.0 282.1,306.5 282.4,283.2 282.8,308.8 283.1,293.5 283.4,292.6 283.7,292.4 284.1,299.7 284.4,290.8 284.7,303.5 285.1,305.0 285.4,294.4 285.7,290.9 286.0,283.7 286.4,300.7 286.7,281.8 287.0,282.8 287.3,308.4 287.7,293.7 288.0,290.6 288.3,288.7 288.7,272.9 289.0,287.7 289.3,302.2 289.6,288.2 290.0,294.5 290.3,296.2 290.6,275.9 291.0,303.7 291.3,261.4 291.6,307.7 291.9,276.7 292.3,305.4 292.6,284.7 292.9,293.0 293.2,293.6 293.6,278.6 293.9,284.9 294.2,284.7 294.6,306.0 294.9,306.1 295.2,299.1 295.5,281.7 295.9,307.6 296.2,280.8 296.5,277.0 296.8,305.4 297.2,300.7 297.5,310.1 297.8,306.1 298.2,298.8 298.5,281.8 298.8,301.5 299.1,291.1 299.5,311.1 299.8,296.8 300.1,314.1 300.4,304.5 300.8,262.6 301.1,290.7 301.4,289.7 301.8,278.4 302.1,303.0 302.4,310.6 302.7,277.1 303.1,300.5 303.4,270.0 303.7,290.1 304.0,296.9 304.4,299.5 304.7,306.5 305.0,298.6 305.4,313.3 305.7,308.5 306.0,305.5 306.3,282.6 306.7,313.3 307.0,313.1 307.3,274.5 307.6,288.7 308.0,293.9 308.3,275.0 308.6,311.1 309.0,291.0 309.3,282.3 309.6,284.9 309.9,288.2 310.3,290.8 310.6,281.7 310.9,305.9 311.2,269.2 311.6,315.1 311.9,306.2 312.2,314.0 312.6,304.3 312.9,284.4 313.2,314.7 313.5,292.5 313.9,284.2 314.2,272.8 314.5,305.7 314.8,287.6 315.2,281.8 315.5,299.3 315.8,300.7 316.2,288.2 316.5,300.7 316.8,305.9 317.1,298.5 317.5,294.3 317.8,283.9 318.1,276.6 318.4,291.1 318.8,309.5 319.1,298.4 319.4,298.0 319.8,264.3 320.1,295.2 320.4,282.7 320.7,281.4 321.1,269.0 321.4,309.4 321.7,316.4 322.0,290.3 322.4,309.8 322.7,285.1 323.0,286.6 323.4,286.4 323.7,295.2 324.0,294.2 324.3,312.3 324.7,309.7 325.0,281.6 325.3,285.5 325.6,307.9 326.0,290.4 326.3,284.7 326.6,287.0 327.0,313.3 327.3,292.6 327.6,287.6 327.9,304.0 328.3,286.4 328.6,301.4 328.9,290.2 329.3,287.6 329.6,300.0 329.9,298.0 330.2,303.9 330.6,291.0 330.9,277.1 331.2,284.4 331.5,265.7 331.9,308.7" fill="none" stroke="#ffa07a" stroke-opacity="0.8" stroke-width="0.8" stroke-linejoin="round"/>
<polyline points="201.3,273.0 201.6,276.5 201.9,277.9 202.2,279.2 202.6,280.6 202.9,282.0 203.2,283.3 203.5,284.2 203.9,284.7 204.2,285.1 204.5,285.6 204.9,285.9 205.2,286.3 205.5,286.8 205.8,287.2 206.2,287.5 206.5,287.8 206.8,288.1 207.1,288.8 207.5,289.2 207.8,289.4 208.1,290.4 208.5,290.7 208.8,290.6 209.1,291.3 209.4,290.6 209.8,291.9 210.1,291.4 210.4,291.1 210.7,292.7 211.1,291.6 211.4,292.4 211.7,293.3 212.1,292.2 212.4,293.7 212.7,291.5 213.0,293.8 213.4,292.3 213.7,291.5 214.0,295.4 214.3,293.2 214.7,290.4 215.0,290.0 215.3,293.1 215.7,294.0 216.0,290.3 216.3,291.4 216.6,291.3 217.0,299.5 217.3,297.9 217.6,291.2 217.9,290.3 218.3,296.1 218.6,289.5 218.9,293.0 219.3,290.1 219.6,291.0 219.9,291.7 220.2,289.8 220.6,289.4 220.9,291.8 221.2,299.5 221.6,294.7 221.9,294.5 222.2,292.1 222.5,300.4 222.9,294.2 223.2,302.3 223.5,290.3 223.8,300.9 224.2,300.2 224.5,298.5 224.8,287.1 225.2,293.7 225.5,297.8 225.8,292.1 226.1,292.6 226.5,286.6 226.8,301.8 227.1,299.5 227.4,292.2 227.8,290.9 228.1,301.4 228.4,284.2 228.8,297.0 229.1,298.6 229.4,290.3 229.7,289.6 230.1,304.5 230.4,304.2 230.7,302.0 231.0,302.4 231.4,295.6 231.7,283.0 232.0,274.9 232.4,294.4 232.7,290.3 233.0,300.3 233.3,297.9 233.7,293.6 234.0,285.9 234.3,292.5 234.6,300.5 235.0,305.6 235.3,286.4 235.6,299.5 236.0,304.5 236.3,296.3 236.6,302.9 236.9,300.1 237.3,301.0 237.6,291.9 237.9,301.5 238.2,295.9 238.6,289.7 238.9,284.0 239.2,295.7 239.6,294.5 239.9,301.5 240.2,305.2 240.5,304.4 240.9,305.9 241.2,283.4 241.5,278.6 241.8,293.6 242.2,277.4 242.5,290.7 242.8,286.9 243.2,290.4 243.5,285.6 243.8,269.7 244.1,301.5 244.5,288.9 244.8,295.9 245.1,301.0 245.4,300.2 245.8,276.0 246.1,283.1 246.4,302.0 246.8,281.6 247.1,304.6 247.4,289.4 247.7,290.3 248.1,300.8 248.4,295.7 248.7,290.1 249.0,286.8 249.4,308.0 249.7,287.4 250.0,293.9 250.4,280.2 250.7,291.6 251.0,283.5 251.3,297.8 251.7,280.5 252.0,277.8 252.3,290.8 252.6,306.5 253.0,306.8 253.3,294.5 253.6,300.5 254.0,308.2 254.3,272.5 254.6,305.3 254.9,277.5 255.3,288.0 255.6,283.6 255.9,287.8 256.3,291.5 256.6,301.1 256.9,289.5 257.2,305.0 257.6,305.1 257.9,303.9 258.2,289.7 258.5,293.4 258.9,292.2 259.2,297.8 259.5,294.7 259.9,297.1 260.2,298.2 260.5,277.4 260.8,295.1 261.2,308.9 261.5,288.9 261.8,280.8 262.1,305.7 262.5,290.7 262.8,304.1 263.1,309.0 263.5,290.6 263.8,292.5 264.1,305.8 264.4,287.7 264.8,305.0 265.1,302.1 265.4,309.3 265.7,287.3 266.1,289.5 266.4,296.0 266.7,307.5 267.1,280.4 267.4,300.7 267.7,292.5 268.0,310.7 268.4,280.9 268.7,277.0 269.0,297.7 269.3,285.2 269.7,291.6 270.0,301.4 270.3,304.7 270.7,305.3 271.0,284.7 271.3,287.8 271.6,286.7 272.0,289.3 272.3,291.4 272.6,298.1 272.9,308.1 273.3,286.3 273.6,285.5 273.9,268.5 274.3,273.9 274.6,261.5 274.9,281.8 275.2,289.3 275.6,291.2 275.9,281.1 276.2,289.8 276.5,296.4 276.9,284.1 277.2,305.4 277.5,300.8 277.9,289.0 278.2,291.0 278.5,304.6 278.8,304.8 279.2,266.0 279.5,310.6 279.8,287.2 280.1,308.6 280.5,288.4 280.8,306.0 281.1,285.4 281.5,300.0 281.8,310.0 282.1,295.9 282.4,295.5 282.8,293.9 283.1,285.0 283.4,311.2 283.7,281.4 284.1,271.2 284.4,309.1 284.7,309.0 285.1,301.8 285.4,297.7 285.7,310.7 286.0,275.8 286.4,306.0 286.7,285.5 287.0,292.1 287.3,293.1 287.7,283.0 288.0,306.2 288.3,307.5 288.7,298.4 289.0,308.8 289.3,301.4 289.6,297.4 290.0,287.4 290.3,305.1 290.6,289.9 291.0,312.6 291.3,290.2 291.6,310.9 291.9,308.6 292.3,305.5 292.6,283.6 292.9,306.9 293.2,277.3 293.6,276.0 293.9,276.3 294.2,299.0 294.6,312.5 294.9,277.9 295.2,304.8 295.5,291.5 295.9,305.3 296.2,301.7 296.5,298.1 296.8,288.9 297.2,309.6 297.5,295.1 297.8,288.4 298.2,304.1 298.5,298.7 298.8,312.8 299.1,302.1 299.5,283.5 299.8,290.2 300.1,289.1 300.4,313.9 300.8,304.8 301.1,295.3 301.4,292.3 301.8,300.6 302.1,279.5 302.4,306.9 302.7,295.4 303.1,288.6 303.4,267.6 303.7,293.3 304.0,308.7 304.4,302.9 304.7,310.5 305.0,292.8 305.4,313.3 305.7,313.5 306.0,314.6 306.3,285.1 306.7,299.6 307.0,292.1 307.3,295.4 307.6,300.3 308.0,290.3 308.3,312.5 308.6,314.1 309.0,274.7 309.3,313.3 309.6,292.1 309.9,308.4 310.3,303.0 310.6,286.6 310.9,291.7 311.2,277.3 311.6,294.8 311.9,299.6 312.2,314.4 312.6,306.7 312.9,309.8 313.2,278.4 313.5,292.0 313.9,296.7 314.2,302.5 314.5,297.5 314.8,307.9 315.2,296.3 315.5,315.0 315.8,286.5 316.2,293.1 316.5,295.5 316.8,309.1 317.1,303.4 317.5,291.6 317.8,279.6 318.1,305.8 318.4,310.4 318.8,313.7 319.1,296.6 319.4,281.8 319.8,281.6 320.1,299.3 320.4,292.4 320.7,298.9 321.1,300.1 321.4,290.2 321.7,299.6 322.0,292.1 322.4,300.0 322.7,296.1 323.0,290.3 323.4,268.7 323.7,305.9 324.0,301.5 324.3,293.8 324.7,304.2 325.0,307.0 325.3,267.4 325.6,293.4 326.0,295.6 326.3,293.8 326.6,312.3 327.0,285.4 327.3,315.7 327.6,289.3 327.9,292.2 328.3,308.1 328.6,295.2 328.9,305.5 329.3,299.8 329.6,302.2 329.9,289.8 330.2,291.5 330.6,306.0 330.9,290.6 331.2,288.8 331.5,283.6 331.9,266.7" fill="none" stroke="#00ffff" stroke-opacity="0.68" stroke-width="0.8" stroke-linejoin="round"/>
</g></g>
<clipPath id="clipi"><rect x="108.2" y="375.3" width="143.9" height="140.0"/></clipPath><g clip-path="url(#clipi)"><g filter="url(#soft)">
<line x1="116.05" y1="381.4" x2="116.09" y2="393.5" stroke="#ff3030" stroke-opacity="0.75" stroke-width="0.8"/>
<line x1="116.05" y1="392.8" x2="116.29" y2="470" stroke="#33b5b5" stroke-opacity="0.8" stroke-width="0.8"/>
<polyline points="116.0,470.0 116.4,481.5 116.7,483.3 117.0,484.0 117.4,484.4 117.7,481.1 118.0,484.0 118.3,480.3 118.7,480.5 119.0,479.9 119.3,480.5 119.6,482.0 120.0,485.7 120.3,483.8 120.6,478.6 121.0,484.7 121.3,483.8 121.6,485.9 121.9,482.3 122.3,483.9 122.6,485.4 122.9,474.3 123.2,481.6 123.6,484.2 123.9,482.6 124.2,481.3 124.6,485.9 124.9,484.1 125.2,481.7 125.5,485.8 125.9,479.3 126.2,483.6 126.5,483.0 126.8,483.1 127.2,482.3 127.5,479.4 127.8,477.1 128.2,483.9 128.5,485.6 128.8,480.8 129.1,481.4 129.5,483.3 129.8,477.0 130.1,476.7 130.4,483.7 130.8,481.3 131.1,480.4 131.4,473.8 131.8,480.5 132.1,479.6 132.4,480.0 132.7,479.0 133.1,481.2 133.4,475.8 133.7,481.5 134.0,479.6 134.4,482.4 134.7,476.7 135.0,480.2 135.3,482.1 135.7,480.1 136.0,480.3 136.3,477.1 136.7,481.3 137.0,477.5 137.3,477.4 137.6,479.9 138.0,481.5 138.3,478.1 138.6,477.1 138.9,480.3 139.3,478.9 139.6,475.7 139.9,474.7 140.3,479.9 140.6,481.8 140.9,470.7 141.2,477.2 141.6,476.4 141.9,480.4 142.2,478.1 142.5,480.0 142.9,479.7 143.2,475.8 143.5,477.0 143.9,478.5 144.2,479.0 144.5,476.8 144.8,479.0 145.2,476.2 145.5,477.3 145.8,478.2 146.1,478.7 146.5,477.1 146.8,475.7 147.1,479.2 147.5,476.3 147.8,478.1 148.1,474.9 148.4,479.5 148.8,479.3 149.1,477.1 149.4,479.7 149.7,480.2 150.1,473.2 150.4,475.1 150.7,473.3 151.1,476.3 151.4,476.2 151.7,478.6 152.0,480.0 152.4,474.6 152.7,475.5 153.0,477.6 153.3,477.4 153.7,479.6 154.0,479.1 154.3,479.8 154.7,478.7 155.0,476.6 155.3,478.9 155.6,480.3 156.0,478.7 156.3,478.8 156.6,478.9 156.9,479.2 157.3,475.0 157.6,479.6 157.9,478.2 158.2,477.7 158.6,479.8 158.9,474.1 159.2,480.9 159.6,472.7 159.9,479.9 160.2,479.9 160.5,480.2 160.9,475.1 161.2,476.2 161.5,478.1 161.8,468.6 162.2,478.6 162.5,479.8 162.8,479.0 163.2,471.0 163.5,469.9 163.8,480.1 164.1,476.2 164.5,479.7 164.8,475.3 165.1,480.3 165.4,477.8 165.8,480.2 166.1,475.6 166.4,474.2 166.8,478.4 167.1,477.8 167.4,469.6 167.7,478.1 168.1,479.2 168.4,479.4 168.7,480.6 169.0,472.2 169.4,479.3 169.7,475.4 170.0,476.5 170.4,479.0 170.7,481.4 171.0,479.9 171.3,478.7 171.7,463.4 172.0,480.1 172.3,480.1 172.6,478.5 173.0,477.3 173.3,481.7 173.6,479.0 174.0,480.3 174.3,481.1 174.6,475.7 174.9,475.8 175.3,477.5 175.6,481.9 175.9,467.5 176.2,480.4 176.6,480.1 176.9,466.9 177.2,480.2 177.5,477.5 177.9,478.4 178.2,463.7 178.5,478.2 178.9,476.0 179.2,479.8 179.5,478.1 179.8,479.7 180.2,479.3 180.5,478.2 180.8,476.5 181.1,476.9 181.5,481.1 181.8,481.3 182.1,476.2 182.5,477.4 182.8,480.4 183.1,478.9 183.4,479.7 183.8,477.2 184.1,482.1 184.4,477.7 184.7,481.9 185.1,480.3 185.4,479.7 185.7,480.3 186.1,481.2 186.4,480.3 186.7,480.0 187.0,481.6 187.4,479.7 187.7,476.4 188.0,475.7 188.3,480.2 188.7,480.3 189.0,479.5 189.3,479.4 189.7,481.0 190.0,480.6 190.3,474.8 190.6,481.3 191.0,477.5 191.3,479.9 191.6,479.1 191.9,481.8 192.3,474.3 192.6,480.5 192.9,481.8 193.3,481.1 193.6,477.1 193.9,478.3 194.2,478.7 194.6,478.1 194.9,481.5 195.2,479.6 195.5,478.4 195.9,480.7 196.2,477.7 196.5,482.5 196.8,479.0 197.2,481.1 197.5,480.2 197.8,480.9 198.2,481.7 198.5,467.2 198.8,465.9 199.1,482.8 199.5,477.3 199.8,479.3 200.1,481.3 200.4,482.2 200.8,480.0 201.1,478.9 201.4,477.5 201.8,481.2 202.1,482.2 202.4,478.5 202.7,481.8 203.1,479.9 203.4,475.5 203.7,478.4 204.0,482.2 204.4,482.2 204.7,481.5 205.0,478.9 205.4,474.9 205.7,479.7 206.0,477.9 206.3,483.0 206.7,481.9 207.0,482.7 207.3,479.7 207.6,474.7 208.0,482.4 208.3,480.9 208.6,475.4 209.0,481.0 209.3,481.5 209.6,479.0 209.9,466.2 210.3,480.9 210.6,482.4 210.9,477.3 211.2,476.4 211.6,477.6 211.9,475.2 212.2,482.2 212.6,481.2 212.9,480.0 213.2,470.3 213.5,480.5 213.9,478.8 214.2,480.6 214.5,475.6 214.8,482.2 215.2,479.4 215.5,483.8 215.8,479.8 216.2,480.7 216.5,481.1 216.8,483.1 217.1,482.4 217.5,470.9 217.8,479.6 218.1,481.9 218.4,475.5 218.8,476.1 219.1,479.5 219.4,472.8 219.7,483.3 220.1,477.5 220.4,479.7 220.7,481.9 221.1,477.9 221.4,478.2 221.7,483.5 222.0,478.9 222.4,478.6 222.7,483.6 223.0,477.7 223.3,475.7 223.7,478.4 224.0,478.9 224.3,483.4 224.7,482.2 225.0,478.7 225.3,479.7 225.6,480.8 226.0,482.9 226.3,474.0 226.6,483.0 226.9,482.5 227.3,483.1 227.6,476.3 227.9,481.5 228.3,484.0 228.6,475.1 228.9,482.3 229.2,479.2 229.6,482.4 229.9,483.9 230.2,481.9 230.5,483.4 230.9,483.4 231.2,480.7 231.5,474.1 231.9,480.1 232.2,477.8 232.5,476.9 232.8,482.8 233.2,479.0 233.5,471.8 233.8,483.9 234.1,483.8 234.5,482.4 234.8,482.4 235.1,484.4 235.5,482.6 235.8,481.9 236.1,480.5 236.4,477.5 236.8,480.8 237.1,484.9 237.4,484.6 237.7,482.9 238.1,475.7 238.4,485.1 238.7,473.2 239.0,483.7 239.4,482.7 239.7,481.6 240.0,480.1 240.4,481.0 240.7,483.6 241.0,484.2 241.3,484.7 241.7,483.1 242.0,483.7 242.3,475.6 242.6,474.2 243.0,480.9 243.3,479.6 243.6,478.0 244.0,484.5 244.3,474.8 244.6,481.8 244.9,483.7 245.3,484.5 245.6,485.0 245.9,484.4 246.2,483.7 246.6,484.8" fill="none" stroke="#ff0000" stroke-opacity="0.8" stroke-width="0.8" stroke-linejoin="round"/>
<polyline points="116.0,472.0 116.4,487.1 116.7,490.2 117.0,493.4 117.4,492.0 117.7,495.7 118.0,491.8 118.3,491.7 118.7,498.9 119.0,498.1 119.3,492.5 119.6,502.7 120.0,502.1 120.3,498.9 120.6,493.2 121.0,504.7 121.3,505.2 121.6,504.0 121.9,503.3 122.3,503.3 122.6,508.7 122.9,507.4 123.2,500.3 123.6,507.5 123.9,505.3 124.2,502.7 124.6,505.8 124.9,503.6 125.2,509.1 125.5,503.5 125.9,507.9 126.2,506.1 126.5,507.2 126.8,504.2 127.2,504.3 127.5,507.3 127.8,509.3 128.2,496.6 128.5,505.2 128.8,504.2 129.1,491.9 129.5,502.3 129.8,505.4 130.1,501.8 130.4,508.1 130.8,495.0 131.1,506.1 131.4,505.1 131.8,506.1 132.1,508.1 132.4,503.1 132.7,508.3 133.1,495.3 133.4,498.2 133.7,504.2 134.0,501.9 134.4,507.0 134.7,506.2 135.0,505.6 135.3,503.3 135.7,500.6 136.0,496.8 136.3,507.0 136.7,498.7 137.0,498.9 137.3,500.2 137.6,499.5 138.0,495.3 138.3,501.1 138.6,504.0 138.9,493.2 139.3,506.0 139.6,496.8 139.9,497.8 140.3,501.5 140.6,502.6 140.9,505.3 141.2,502.4 141.6,491.5 141.9,502.6 142.2,497.1 142.5,503.2 142.9,500.0 143.2,499.5 143.5,502.8 143.9,497.8 144.2,500.2 144.5,500.2 144.8,498.3 145.2,496.0 145.5,492.5 145.8,497.5 146.1,494.6 146.5,491.4 146.8,496.8 147.1,498.3 147.5,498.4 147.8,493.4 148.1,499.3 148.4,491.9 148.8,491.5 149.1,499.4 149.4,484.6 149.7,485.0 150.1,498.5 150.4,498.5 150.7,492.6 151.1,496.5 151.4,491.1 151.7,495.2 152.0,494.0 152.4,495.7 152.7,488.0 153.0,489.9 153.3,498.6 153.7,497.9 154.0,496.6 154.3,490.7 154.7,497.8 155.0,490.4 155.3,497.9 155.6,488.8 156.0,494.1 156.3,498.4 156.6,487.7 156.9,496.6 157.3,496.4 157.6,492.5 157.9,495.6 158.2,489.3 158.6,483.7 158.9,488.1 159.2,492.4 159.6,491.8 159.9,490.2 160.2,487.1 160.5,486.0 160.9,495.6 161.2,493.4 161.5,487.9 161.8,488.7 162.2,494.3 162.5,489.4 162.8,489.8 163.2,494.2 163.5,495.5 163.8,489.8 164.1,490.0 164.5,488.9 164.8,490.5 165.1,492.6 165.4,491.5 165.8,494.9 166.1,484.8 166.4,494.1 166.8,485.3 167.1,492.3 167.4,497.0 167.7,487.3 168.1,496.8 168.4,491.9 168.7,495.2 169.0,489.8 169.4,497.1 169.7,497.5 170.0,495.8 170.4,495.0 170.7,489.0 171.0,490.5 171.3,496.2 171.7,496.4 172.0,494.0 172.3,493.8 172.6,490.9 173.0,496.5 173.3,491.8 173.6,494.3 174.0,495.4 174.3,493.1 174.6,494.7 174.9,492.6 175.3,488.1 175.6,497.5 175.9,495.1 176.2,497.6 176.6,493.8 176.9,492.6 177.2,490.6 177.5,497.2 177.9,493.9 178.2,497.7 178.5,489.6 178.9,489.7 179.2,488.5 179.5,490.4 179.8,490.2 180.2,489.0 180.5,498.3 180.8,491.4 181.1,492.7 181.5,495.3 181.8,495.9 182.1,491.0 182.5,491.6 182.8,494.3 183.1,499.9 183.4,498.1 183.8,493.4 184.1,495.5 184.4,491.1 184.7,500.2 185.1,497.8 185.4,492.5 185.7,501.3 186.1,496.0 186.4,500.2 186.7,494.4 187.0,490.8 187.4,496.8 187.7,499.1 188.0,499.5 188.3,493.6 188.7,499.9 189.0,496.1 189.3,499.3 189.7,495.7 190.0,493.2 190.3,496.6 190.6,498.4 191.0,500.0 191.3,500.3 191.6,496.2 191.9,500.6 192.3,500.8 192.6,493.3 192.9,494.3 193.3,491.2 193.6,492.8 193.9,495.7 194.2,493.0 194.6,494.6 194.9,500.5 195.2,500.9 195.5,498.8 195.9,499.8 196.2,500.9 196.5,499.1 196.8,489.9 197.2,494.8 197.5,502.6 197.8,494.4 198.2,497.3 198.5,502.1 198.8,494.5 199.1,493.0 199.5,499.5 199.8,487.3 200.1,496.2 200.4,497.7 200.8,499.5 201.1,500.0 201.4,490.2 201.8,502.6 202.1,498.1 202.4,494.2 202.7,494.2 203.1,502.8 203.4,492.1 203.7,493.7 204.0,500.3 204.4,500.4 204.7,494.0 205.0,497.7 205.4,503.5 205.7,492.7 206.0,493.0 206.3,497.3 206.7,498.2 207.0,498.1 207.3,496.2 207.6,503.5 208.0,504.5 208.3,497.0 208.6,501.5 209.0,494.8 209.3,489.3 209.6,502.7 209.9,501.5 210.3,496.3 210.6,499.0 210.9,501.3 211.2,499.7 211.6,503.1 211.9,493.3 212.2,502.1 212.6,501.6 212.9,496.8 213.2,492.4 213.5,498.0 213.9,498.5 214.2,504.3 214.5,501.7 214.8,487.2 215.2,501.4 215.5,489.4 215.8,500.7 216.2,497.5 216.5,492.4 216.8,496.5 217.1,501.6 217.5,501.6 217.8,501.1 218.1,497.7 218.4,501.5 218.8,498.2 219.1,502.7 219.4,493.3 219.7,495.3 220.1,496.9 220.4,495.7 220.7,494.4 221.1,500.0 221.4,502.2 221.7,504.3 222.0,503.5 222.4,504.7 222.7,504.6 223.0,503.5 223.3,497.2 223.7,501.4 224.0,494.0 224.3,505.1 224.7,502.7 225.0,489.7 225.3,495.8 225.6,494.8 226.0,500.5 226.3,496.6 226.6,500.9 226.9,496.0 227.3,503.7 227.6,496.9 227.9,488.4 228.3,504.1 228.6,502.0 228.9,501.6 229.2,491.7 229.6,488.1 229.9,496.4 230.2,493.7 230.5,496.2 230.9,496.7 231.2,488.9 231.5,503.2 231.9,502.9 232.2,495.6 232.5,494.0 232.8,500.4 233.2,494.1 233.5,500.6 233.8,497.9 234.1,502.7 234.5,493.6 234.8,502.5 235.1,498.2 235.5,496.1 235.8,500.6 236.1,499.1 236.4,501.6 236.8,504.1 237.1,500.9 237.4,502.8 237.7,495.3 238.1,497.1 238.4,497.4 238.7,498.9 239.0,499.2 239.4,502.5 239.7,502.5 240.0,497.2 240.4,498.6 240.7,495.0 241.0,505.2 241.3,501.4 241.7,496.3 242.0,497.9 242.3,497.2 242.6,503.5 243.0,498.9 243.3,500.0 243.6,502.6 244.0,504.8 244.3,503.5 244.6,495.1 244.9,495.5 245.3,505.0 245.6,494.5 245.9,496.5 246.2,505.8 246.6,501.2" fill="none" stroke="#008000" stroke-opacity="0.72" stroke-width="0.8" stroke-linejoin="round"/>
<polyline points="116.0,471.0 116.4,483.6 116.7,484.8 117.0,486.3 117.4,484.8 117.7,485.8 118.0,485.5 118.3,484.6 118.7,487.4 119.0,487.5 119.3,484.6 119.6,488.3 120.0,485.7 120.3,484.2 120.6,484.3 121.0,484.4 121.3,486.0 121.6,484.3 121.9,486.4 122.3,485.9 122.6,486.3 122.9,483.9 123.2,484.4 123.6,484.3 123.9,486.5 124.2,484.4 124.6,487.2 124.9,484.4 125.2,485.5 125.5,486.3 125.9,486.2 126.2,482.9 126.5,486.0 126.8,483.5 127.2,485.1 127.5,486.8 127.8,486.5 128.2,485.5 128.5,488.4 128.8,481.9 129.1,483.9 129.5,479.5 129.8,482.1 130.1,480.4 130.4,486.1 130.8,485.7 131.1,485.9 131.4,483.6 131.8,486.4 132.1,485.6 132.4,485.9 132.7,489.0 133.1,488.0 133.4,483.3 133.7,486.5 134.0,487.3 134.4,486.4 134.7,486.0 135.0,485.8 135.3,484.4 135.7,485.9 136.0,483.8 136.3,486.8 136.7,485.3 137.0,483.4 137.3,485.8 137.6,487.3 138.0,488.0 138.3,483.9 138.6,483.9 138.9,483.5 139.3,484.5 139.6,485.4 139.9,485.8 140.3,487.7 140.6,486.3 140.9,481.3 141.2,484.2 141.6,485.2 141.9,484.7 142.2,486.4 142.5,484.8 142.9,488.9 143.2,484.5 143.5,484.7 143.9,487.1 144.2,486.7 144.5,485.8 144.8,485.7 145.2,485.9 145.5,487.5 145.8,488.3 146.1,486.3 146.5,489.2 146.8,488.5 147.1,487.9 147.5,481.9 147.8,486.3 148.1,490.2 148.4,486.5 148.8,489.8 149.1,483.2 149.4,483.0 149.7,484.9 150.1,484.7 150.4,486.0 150.7,484.4 151.1,490.0 151.4,488.2 151.7,488.8 152.0,487.3 152.4,490.4 152.7,487.3 153.0,488.8 153.3,486.3 153.7,482.7 154.0,487.1 154.3,485.0 154.7,488.4 155.0,489.9 155.3,485.1 155.6,488.3 156.0,485.5 156.3,490.9 156.6,490.9 156.9,485.3 157.3,484.8 157.6,486.2 157.9,487.7 158.2,489.8 158.6,485.1 158.9,484.8 159.2,482.4 159.6,482.7 159.9,486.6 160.2,488.3 160.5,477.6 160.9,486.7 161.2,484.5 161.5,484.2 161.8,482.7 162.2,484.1 162.5,490.1 162.8,485.4 163.2,487.3 163.5,490.8 163.8,487.2 164.1,485.0 164.5,486.1 164.8,486.2 165.1,487.2 165.4,488.6 165.8,479.0 166.1,490.0 166.4,483.0 166.8,485.8 167.1,483.4 167.4,485.0 167.7,487.9 168.1,490.4 168.4,487.5 168.7,484.8 169.0,489.0 169.4,491.0 169.7,483.1 170.0,491.3 170.4,489.5 170.7,489.7 171.0,490.1 171.3,486.4 171.7,490.5 172.0,484.6 172.3,487.4 172.6,487.3 173.0,489.8 173.3,490.7 173.6,485.6 174.0,483.1 174.3,486.4 174.6,483.4 174.9,490.2 175.3,480.9 175.6,478.4 175.9,492.7 176.2,486.9 176.6,492.8 176.9,486.8 177.2,485.8 177.5,485.6 177.9,484.2 178.2,490.2 178.5,490.5 178.9,484.3 179.2,487.2 179.5,492.0 179.8,490.9 180.2,490.9 180.5,488.7 180.8,485.3 181.1,486.4 181.5,484.6 181.8,485.4 182.1,484.9 182.5,483.0 182.8,488.6 183.1,485.0 183.4,486.1 183.8,484.7 184.1,484.3 184.4,485.5 184.7,484.6 185.1,486.7 185.4,482.1 185.7,477.9 186.1,491.4 186.4,491.0 186.7,486.9 187.0,485.5 187.4,487.6 187.7,488.7 188.0,486.6 188.3,484.8 188.7,486.7 189.0,486.9 189.3,490.8 189.7,490.7 190.0,487.1 190.3,488.5 190.6,490.0 191.0,484.7 191.3,485.8 191.6,488.5 191.9,491.7 192.3,489.2 192.6,488.2 192.9,486.9 193.3,487.1 193.6,484.0 193.9,485.0 194.2,481.8 194.6,480.4 194.9,488.2 195.2,488.3 195.5,489.9 195.9,487.5 196.2,486.7 196.5,488.3 196.8,487.2 197.2,483.9 197.5,490.1 197.8,484.5 198.2,484.2 198.5,489.9 198.8,484.7 199.1,489.7 199.5,492.3 199.8,486.3 200.1,480.9 200.4,490.6 200.8,491.2 201.1,479.9 201.4,479.6 201.8,488.5 202.1,492.3 202.4,491.8 202.7,487.2 203.1,487.2 203.4,486.0 203.7,485.7 204.0,484.5 204.4,480.6 204.7,492.6 205.0,491.1 205.4,490.8 205.7,484.5 206.0,485.9 206.3,478.9 206.7,488.5 207.0,485.6 207.3,489.4 207.6,491.2 208.0,489.2 208.3,475.7 208.6,482.3 209.0,484.5 209.3,492.5 209.6,480.0 209.9,488.6 210.3,483.6 210.6,489.1 210.9,490.9 211.2,487.6 211.6,490.8 211.9,484.4 212.2,485.3 212.6,491.2 212.9,491.8 213.2,490.8 213.5,482.5 213.9,489.2 214.2,483.7 214.5,477.1 214.8,486.2 215.2,492.7 215.5,483.0 215.8,489.5 216.2,491.7 216.5,489.8 216.8,487.2 217.1,486.2 217.5,487.9 217.8,485.8 218.1,484.8 218.4,488.2 218.8,490.6 219.1,490.5 219.4,486.9 219.7,486.4 220.1,479.0 220.4,488.5 220.7,491.8 221.1,493.3 221.4,483.8 221.7,485.2 222.0,488.4 222.4,484.4 222.7,488.4 223.0,485.6 223.3,485.4 223.7,484.9 224.0,486.4 224.3,488.2 224.7,491.7 225.0,484.6 225.3,485.4 225.6,480.1 226.0,483.8 226.3,492.3 226.6,491.2 226.9,491.4 227.3,492.6 227.6,487.6 227.9,483.1 228.3,490.9 228.6,482.8 228.9,483.4 229.2,488.3 229.6,482.6 229.9,489.6 230.2,482.6 230.5,482.8 230.9,486.4 231.2,478.0 231.5,489.2 231.9,484.7 232.2,475.9 232.5,485.8 232.8,493.5 233.2,487.3 233.5,487.0 233.8,486.8 234.1,480.1 234.5,475.0 234.8,479.8 235.1,492.1 235.5,483.3 235.8,489.6 236.1,480.1 236.4,482.3 236.8,484.7 237.1,487.4 237.4,491.7 237.7,491.2 238.1,483.7 238.4,491.3 238.7,488.0 239.0,492.0 239.4,483.8 239.7,486.6 240.0,491.8 240.4,488.1 240.7,491.8 241.0,482.8 241.3,488.0 241.7,485.6 242.0,484.5 242.3,491.6 242.6,483.3 243.0,490.0 243.3,488.0 243.6,491.8 244.0,488.5 244.3,489.0 244.6,486.4 244.9,486.5 245.3,486.2 245.6,491.1 245.9,484.8 246.2,485.0 246.6,491.6" fill="none" stroke="#8a2be2" stroke-opacity="0.8" stroke-width="0.8" stroke-linejoin="round"/>
<polyline points="116.0,471.0 116.4,485.1 116.7,486.7 117.0,488.9 117.4,488.9 117.7,488.5 118.0,488.5 118.3,484.6 118.7,483.2 119.0,488.4 119.3,488.2 119.6,489.8 120.0,481.8 120.3,485.4 120.6,490.1 121.0,486.6 121.3,490.3 121.6,490.2 121.9,490.2 122.3,488.0 122.6,489.7 122.9,486.0 123.2,490.1 123.6,488.5 123.9,482.7 124.2,486.6 124.6,487.3 124.9,491.1 125.2,485.5 125.5,486.6 125.9,490.4 126.2,485.0 126.5,489.2 126.8,488.9 127.2,489.1 127.5,485.3 127.8,487.1 128.2,485.9 128.5,486.9 128.8,486.4 129.1,487.0 129.5,489.5 129.8,488.3 130.1,489.6 130.4,489.1 130.8,489.2 131.1,486.6 131.4,487.3 131.8,483.2 132.1,486.1 132.4,487.0 132.7,481.8 133.1,485.3 133.4,487.0 133.7,485.4 134.0,481.3 134.4,485.3 134.7,480.0 135.0,482.6 135.3,485.0 135.7,485.4 136.0,487.8 136.3,486.3 136.7,481.5 137.0,482.8 137.3,483.4 137.6,483.0 138.0,481.0 138.3,479.3 138.6,486.6 138.9,478.3 139.3,483.3 139.6,483.7 139.9,480.7 140.3,486.0 140.6,480.6 140.9,483.3 141.2,485.5 141.6,483.8 141.9,484.1 142.2,480.2 142.5,483.5 142.9,482.0 143.2,480.2 143.5,481.3 143.9,483.5 144.2,484.2 144.5,483.1 144.8,484.7 145.2,477.6 145.5,485.3 145.8,485.4 146.1,478.9 146.5,483.5 146.8,480.8 147.1,484.0 147.5,482.8 147.8,479.1 148.1,480.0 148.4,480.5 148.8,483.9 149.1,479.2 149.4,479.7 149.7,478.7 150.1,479.6 150.4,484.4 150.7,480.8 151.1,483.5 151.4,483.9 151.7,480.4 152.0,477.2 152.4,482.3 152.7,478.5 153.0,485.9 153.3,482.1 153.7,482.0 154.0,481.3 154.3,485.0 154.7,477.2 155.0,482.9 155.3,484.0 155.6,485.3 156.0,484.5 156.3,481.9 156.6,485.8 156.9,482.3 157.3,486.1 157.6,482.0 157.9,480.9 158.2,484.5 158.6,485.7 158.9,480.1 159.2,480.2 159.6,485.7 159.9,487.8 160.2,479.5 160.5,483.9 160.9,481.3 161.2,486.1 161.5,485.4 161.8,481.2 162.2,483.7 162.5,485.4 162.8,483.4 163.2,487.4 163.5,486.3 163.8,486.7 164.1,485.1 164.5,481.6 164.8,486.2 165.1,485.3 165.4,486.4 165.8,474.5 166.1,483.4 166.4,484.5 166.8,487.2 167.1,487.4 167.4,483.8 167.7,479.0 168.1,488.1 168.4,476.4 168.7,484.5 169.0,487.6 169.4,486.8 169.7,485.1 170.0,488.1 170.4,487.6 170.7,487.0 171.0,486.8 171.3,484.8 171.7,487.9 172.0,482.1 172.3,487.6 172.6,480.3 173.0,487.1 173.3,476.4 173.6,488.0 174.0,485.7 174.3,482.9 174.6,483.8 174.9,487.6 175.3,483.5 175.6,484.9 175.9,487.6 176.2,482.1 176.6,487.4 176.9,484.1 177.2,488.4 177.5,480.0 177.9,488.4 178.2,489.1 178.5,484.7 178.9,487.4 179.2,486.1 179.5,488.4 179.8,481.6 180.2,484.4 180.5,485.3 180.8,484.1 181.1,486.8 181.5,481.6 181.8,488.6 182.1,480.7 182.5,483.3 182.8,489.7 183.1,488.1 183.4,485.5 183.8,487.9 184.1,486.3 184.4,485.1 184.7,482.3 185.1,487.2 185.4,485.2 185.7,487.9 186.1,483.4 186.4,486.7 186.7,487.6 187.0,489.5 187.4,489.3 187.7,489.6 188.0,487.9 188.3,488.6 188.7,482.6 189.0,484.0 189.3,485.0 189.7,490.0 190.0,488.4 190.3,486.7 190.6,482.5 191.0,482.2 191.3,488.2 191.6,482.7 191.9,486.0 192.3,485.0 192.6,489.5 192.9,481.0 193.3,483.1 193.6,483.3 193.9,487.0 194.2,486.6 194.6,489.1 194.9,489.0 195.2,489.6 195.5,489.0 195.9,484.7 196.2,485.2 196.5,485.6 196.8,489.0 197.2,489.4 197.5,483.5 197.8,484.5 198.2,489.9 198.5,484.2 198.8,489.3 199.1,489.0 199.5,484.2 199.8,489.3 200.1,484.9 200.4,481.3 200.8,487.9 201.1,489.6 201.4,482.6 201.8,489.0 202.1,489.6 202.4,485.4 202.7,484.3 203.1,485.8 203.4,489.3 203.7,486.7 204.0,487.0 204.4,490.3 204.7,487.9 205.0,487.2 205.4,488.7 205.7,488.3 206.0,486.4 206.3,490.7 206.7,489.4 207.0,486.5 207.3,485.6 207.6,484.3 208.0,489.5 208.3,485.6 208.6,485.1 209.0,486.1 209.3,491.0 209.6,486.5 209.9,487.0 210.3,485.8 210.6,489.1 210.9,487.8 211.2,485.8 211.6,487.5 211.9,488.0 212.2,485.3 212.6,490.7 212.9,490.7 213.2,489.1 213.5,486.8 213.9,485.5 214.2,490.6 214.5,484.5 214.8,487.7 215.2,487.1 215.5,489.2 215.8,492.4 216.2,492.0 216.5,494.3 216.8,493.6 217.1,490.8 217.5,494.5 217.8,489.0 218.1,491.1 218.4,494.5 218.8,491.0 219.1,494.3 219.4,493.6 219.7,489.9 220.1,489.5 220.4,492.9 220.7,487.0 221.1,497.3 221.4,490.8 221.7,496.4 222.0,496.9 222.4,488.4 222.7,490.6 223.0,490.1 223.3,491.6 223.7,495.3 224.0,492.3 224.3,492.8 224.7,494.2 225.0,493.1 225.3,495.7 225.6,494.7 226.0,492.8 226.3,497.1 226.6,495.1 226.9,499.3 227.3,500.0 227.6,495.8 227.9,491.8 228.3,486.5 228.6,500.1 228.9,500.2 229.2,493.5 229.6,501.1 229.9,491.0 230.2,499.1 230.5,497.0 230.9,494.2 231.2,497.9 231.5,497.1 231.9,500.7 232.2,494.7 232.5,501.6 232.8,495.0 233.2,500.1 233.5,497.1 233.8,494.9 234.1,497.5 234.5,500.6 234.8,494.5 235.1,497.6 235.5,502.2 235.8,501.3 236.1,498.3 236.4,495.9 236.8,500.8 237.1,498.7 237.4,492.1 237.7,495.4 238.1,503.3 238.4,493.7 238.7,502.5 239.0,500.8 239.4,493.4 239.7,495.3 240.0,501.3 240.4,486.2 240.7,502.6 241.0,490.9 241.3,495.9 241.7,489.4 242.0,496.0 242.3,500.3 242.6,495.9 243.0,496.0 243.3,495.2 243.6,503.6 244.0,490.9 244.3,502.3 244.6,496.4 244.9,497.8 245.3,489.9 245.6,502.8 245.9,502.5 246.2,501.3 246.6,502.1" fill="none" stroke="#ffa07a" stroke-opacity="0.8" stroke-width="0.8" stroke-linejoin="round"/>
<polyline points="116.0,470.0 116.4,481.3 116.7,482.1 117.0,483.1 117.4,480.7 117.7,483.0 118.0,485.0 118.3,482.8 118.7,483.0 119.0,484.5 119.3,480.7 119.6,479.6 120.0,479.5 120.3,484.0 120.6,480.3 121.0,484.4 121.3,482.3 121.6,479.7 121.9,477.5 122.3,474.6 122.6,480.9 122.9,483.5 123.2,485.5 123.6,483.6 123.9,479.5 124.2,475.1 124.6,483.8 124.9,484.1 125.2,482.1 125.5,485.7 125.9,479.6 126.2,484.6 126.5,478.7 126.8,480.5 127.2,477.2 127.5,485.2 127.8,483.0 128.2,478.9 128.5,477.1 128.8,482.7 129.1,477.1 129.5,482.5 129.8,482.6 130.1,482.8 130.4,480.6 130.8,481.4 131.1,479.5 131.4,481.3 131.8,480.9 132.1,479.8 132.4,474.8 132.7,479.2 133.1,478.5 133.4,481.4 133.7,481.0 134.0,481.2 134.4,478.3 134.7,477.8 135.0,481.2 135.3,481.2 135.7,479.8 136.0,478.7 136.3,481.3 136.7,479.7 137.0,474.7 137.3,480.8 137.6,477.1 138.0,474.1 138.3,476.8 138.6,479.2 138.9,476.1 139.3,475.6 139.6,479.3 139.9,472.0 140.3,477.4 140.6,477.9 140.9,478.8 141.2,477.5 141.6,475.0 141.9,476.3 142.2,477.6 142.5,470.0 142.9,479.9 143.2,474.6 143.5,474.8 143.9,474.3 144.2,476.0 144.5,478.0 144.8,473.1 145.2,472.9 145.5,474.9 145.8,477.7 146.1,476.0 146.5,476.9 146.8,474.3 147.1,473.7 147.5,473.4 147.8,471.9 148.1,479.1 148.4,471.1 148.8,468.8 149.1,471.7 149.4,479.1 149.7,472.7 150.1,470.2 150.4,470.3 150.7,477.6 151.1,472.8 151.4,473.2 151.7,476.6 152.0,471.7 152.4,472.1 152.7,471.8 153.0,473.3 153.3,474.8 153.7,475.7 154.0,474.6 154.3,477.7 154.7,477.1 155.0,470.7 155.3,474.4 155.6,474.1 156.0,473.0 156.3,476.8 156.6,477.5 156.9,475.3 157.3,472.1 157.6,475.4 157.9,471.3 158.2,464.1 158.6,476.5 158.9,466.2 159.2,468.2 159.6,477.9 159.9,476.2 160.2,476.3 160.5,475.5 160.9,462.6 161.2,472.4 161.5,475.9 161.8,476.5 162.2,470.3 162.5,475.2 162.8,476.2 163.2,476.5 163.5,475.2 163.8,463.5 164.1,472.3 164.5,474.3 164.8,468.2 165.1,470.8 165.4,472.0 165.8,475.9 166.1,475.9 166.4,477.1 166.8,473.7 167.1,472.0 167.4,477.1 167.7,474.4 168.1,475.3 168.4,474.1 168.7,472.0 169.0,472.9 169.4,471.6 169.7,474.5 170.0,474.1 170.4,471.7 170.7,476.6 171.0,471.9 171.3,474.4 171.7,476.7 172.0,476.7 172.3,467.8 172.6,475.1 173.0,476.5 173.3,472.3 173.6,475.2 174.0,476.0 174.3,464.0 174.6,470.3 174.9,472.3 175.3,473.7 175.6,469.3 175.9,477.8 176.2,470.4 176.6,474.8 176.9,474.7 177.2,470.5 177.5,470.7 177.9,466.7 178.2,475.9 178.5,477.0 178.9,467.5 179.2,474.4 179.5,474.7 179.8,476.6 180.2,475.3 180.5,473.2 180.8,471.8 181.1,469.1 181.5,470.4 181.8,473.6 182.1,477.1 182.5,468.7 182.8,474.0 183.1,470.6 183.4,467.9 183.8,476.4 184.1,474.2 184.4,467.2 184.7,475.3 185.1,475.6 185.4,466.4 185.7,475.0 186.1,472.7 186.4,468.4 186.7,476.9 187.0,473.1 187.4,474.5 187.7,472.1 188.0,475.1 188.3,477.2 188.7,472.9 189.0,475.6 189.3,475.8 189.7,470.9 190.0,474.4 190.3,474.1 190.6,473.3 191.0,475.1 191.3,470.1 191.6,471.9 191.9,477.5 192.3,476.8 192.6,474.4 192.9,474.7 193.3,473.2 193.6,477.7 193.9,474.1 194.2,476.5 194.6,473.7 194.9,476.1 195.2,473.1 195.5,477.8 195.9,474.8 196.2,466.0 196.5,471.5 196.8,471.0 197.2,473.9 197.5,473.1 197.8,477.0 198.2,473.2 198.5,478.5 198.8,477.5 199.1,475.5 199.5,469.7 199.8,477.6 200.1,476.3 200.4,477.2 200.8,477.5 201.1,479.1 201.4,479.8 201.8,479.0 202.1,473.0 202.4,479.4 202.7,472.6 203.1,477.0 203.4,478.8 203.7,481.7 204.0,480.3 204.4,482.3 204.7,481.7 205.0,481.9 205.4,478.4 205.7,482.8 206.0,472.5 206.3,482.1 206.7,483.1 207.0,479.4 207.3,484.2 207.6,476.7 208.0,479.0 208.3,480.6 208.6,480.6 209.0,479.4 209.3,478.6 209.6,478.4 209.9,484.6 210.3,483.7 210.6,477.9 210.9,478.2 211.2,479.2 211.6,482.5 211.9,481.2 212.2,482.3 212.6,480.7 212.9,483.4 213.2,479.9 213.5,480.9 213.9,481.2 214.2,484.5 214.5,484.1 214.8,480.8 215.2,480.9 215.5,481.4 215.8,486.0 216.2,481.6 216.5,484.1 216.8,484.2 217.1,481.6 217.5,482.6 217.8,479.8 218.1,479.4 218.4,484.3 218.8,477.7 219.1,485.7 219.4,476.1 219.7,484.4 220.1,485.7 220.4,482.4 220.7,485.0 221.1,485.7 221.4,482.1 221.7,485.5 222.0,485.5 222.4,486.7 222.7,484.1 223.0,484.5 223.3,481.4 223.7,485.4 224.0,482.4 224.3,486.5 224.7,486.1 225.0,481.8 225.3,484.4 225.6,485.5 226.0,487.2 226.3,483.6 226.6,479.9 226.9,486.6 227.3,483.6 227.6,485.5 227.9,472.4 228.3,481.4 228.6,483.2 228.9,484.4 229.2,488.8 229.6,478.5 229.9,484.9 230.2,487.5 230.5,487.1 230.9,480.4 231.2,484.3 231.5,487.6 231.9,478.0 232.2,487.1 232.5,487.8 232.8,484.1 233.2,486.3 233.5,485.5 233.8,486.7 234.1,486.3 234.5,485.5 234.8,487.2 235.1,488.5 235.5,487.3 235.8,487.0 236.1,486.0 236.4,486.7 236.8,487.5 237.1,487.0 237.4,483.5 237.7,489.1 238.1,488.4 238.4,487.5 238.7,489.3 239.0,486.4 239.4,488.3 239.7,488.5 240.0,488.7 240.4,481.2 240.7,475.3 241.0,481.4 241.3,481.2 241.7,486.2 242.0,486.8 242.3,489.5 242.6,488.7 243.0,489.6 243.3,485.5 243.6,484.2 244.0,489.7 244.3,485.8 244.6,489.6 244.9,487.6 245.3,486.2 245.6,487.3 245.9,488.9 246.2,484.5 246.6,487.8" fill="none" stroke="#00ffff" stroke-opacity="0.68" stroke-width="0.8" stroke-linejoin="round"/>
</g></g>
<rect x="22.3" y="4.6" width="143.9" height="139.8" fill="none" stroke="#000" stroke-width="0.35"/>
<line x1="28.8" y1="144.4" x2="28.8" y2="145.7" stroke="#000" stroke-width="0.3"/>
<text transform="translate(28.8,150.6) scale(0.9,1)" class="tk" text-anchor="middle">0</text>
<line x1="45.2" y1="144.4" x2="45.2" y2="145.7" stroke="#000" stroke-width="0.3"/>
<text transform="translate(45.2,150.6) scale(0.9,1)" class="tk" text-anchor="middle">500</text>
<line x1="61.6" y1="144.4" x2="61.6" y2="145.7" stroke="#000" stroke-width="0.3"/>
<text transform="translate(61.6,150.6) scale(0.9,1)" class="tk" text-anchor="middle">1000</text>
<line x1="77.9" y1="144.4" x2="77.9" y2="145.7" stroke="#000" stroke-width="0.3"/>
<text transform="translate(77.9,150.6) scale(0.9,1)" class="tk" text-anchor="middle">1500</text>
<line x1="94.3" y1="144.4" x2="94.3" y2="145.7" stroke="#000" stroke-width="0.3"/>
<text transform="translate(94.3,150.6) scale(0.9,1)" class="tk" text-anchor="middle">2000</text>
<line x1="110.6" y1="144.4" x2="110.6" y2="145.7" stroke="#000" stroke-width="0.3"/>
<text transform="translate(110.6,150.6) scale(0.9,1)" class="tk" text-anchor="middle">2500</text>
<line x1="127" y1="144.4" x2="127" y2="145.7" stroke="#000" stroke-width="0.3"/>
<text transform="translate(127,150.6) scale(0.9,1)" class="tk" text-anchor="middle">3000</text>
<line x1="143.3" y1="144.4" x2="143.3" y2="145.7" stroke="#000" stroke-width="0.3"/>
<text transform="translate(143.3,150.6) scale(0.9,1)" class="tk" text-anchor="middle">3500</text>
<line x1="159.7" y1="144.4" x2="159.7" y2="145.7" stroke="#000" stroke-width="0.3"/>
<text transform="translate(159.7,150.6) scale(0.9,1)" class="tk" text-anchor="middle">4000</text>
<line x1="21" y1="9.7" x2="22.3" y2="9.7" stroke="#000" stroke-width="0.3"/>
<text transform="translate(20.1,11.4) scale(0.9,1)" class="tk" text-anchor="end">10<tspan class="sup" dy="-1.7">−2</tspan></text>
<line x1="21" y1="36.6" x2="22.3" y2="36.6" stroke="#000" stroke-width="0.3"/>
<text transform="translate(20.1,38.3) scale(0.9,1)" class="tk" text-anchor="end">10<tspan class="sup" dy="-1.7">−3</tspan></text>
<line x1="21" y1="63.5" x2="22.3" y2="63.5" stroke="#000" stroke-width="0.3"/>
<text transform="translate(20.1,65.2) scale(0.9,1)" class="tk" text-anchor="end">10<tspan class="sup" dy="-1.7">−4</tspan></text>
<line x1="21" y1="90.4" x2="22.3" y2="90.4" stroke="#000" stroke-width="0.3"/>
<text transform="translate(20.1,92.1) scale(0.9,1)" class="tk" text-anchor="end">10<tspan class="sup" dy="-1.7">−5</tspan></text>
<line x1="21" y1="117.3" x2="22.3" y2="117.3" stroke="#000" stroke-width="0.3"/>
<text transform="translate(20.1,119) scale(0.9,1)" class="tk" text-anchor="end">10<tspan class="sup" dy="-1.7">−6</tspan></text>
<line x1="21" y1="144.2" x2="22.3" y2="144.2" stroke="#000" stroke-width="0.3"/>
<text transform="translate(20.1,145.9) scale(0.9,1)" class="tk" text-anchor="end">10<tspan class="sup" dy="-1.7">−7</tspan></text>
<line x1="21.6" y1="136.1" x2="22.3" y2="136.1" stroke="#000" stroke-width="0.25"/>
<line x1="21.6" y1="131.4" x2="22.3" y2="131.4" stroke="#000" stroke-width="0.25"/>
<line x1="21.6" y1="128" x2="22.3" y2="128" stroke="#000" stroke-width="0.25"/>
<line x1="21.6" y1="125.4" x2="22.3" y2="125.4" stroke="#000" stroke-width="0.25"/>
<line x1="21.6" y1="123.3" x2="22.3" y2="123.3" stroke="#000" stroke-width="0.25"/>
<line x1="21.6" y1="121.5" x2="22.3" y2="121.5" stroke="#000" stroke-width="0.25"/>
<line x1="21.6" y1="119.9" x2="22.3" y2="119.9" stroke="#000" stroke-width="0.25"/>
<line x1="21.6" y1="118.5" x2="22.3" y2="118.5" stroke="#000" stroke-width="0.25"/>
<line x1="21.6" y1="109.2" x2="22.3" y2="109.2" stroke="#000" stroke-width="0.25"/>
<line x1="21.6" y1="104.5" x2="22.3" y2="104.5" stroke="#000" stroke-width="0.25"/>
<line x1="21.6" y1="101.1" x2="22.3" y2="101.1" stroke="#000" stroke-width="0.25"/>
<line x1="21.6" y1="98.5" x2="22.3" y2="98.5" stroke="#000" stroke-width="0.25"/>
<line x1="21.6" y1="96.4" x2="22.3" y2="96.4" stroke="#000" stroke-width="0.25"/>
<line x1="21.6" y1="94.6" x2="22.3" y2="94.6" stroke="#000" stroke-width="0.25"/>
<line x1="21.6" y1="93" x2="22.3" y2="93" stroke="#000" stroke-width="0.25"/>
<line x1="21.6" y1="91.6" x2="22.3" y2="91.6" stroke="#000" stroke-width="0.25"/>
<line x1="21.6" y1="82.3" x2="22.3" y2="82.3" stroke="#000" stroke-width="0.25"/>
<line x1="21.6" y1="77.6" x2="22.3" y2="77.6" stroke="#000" stroke-width="0.25"/>
<line x1="21.6" y1="74.2" x2="22.3" y2="74.2" stroke="#000" stroke-width="0.25"/>
<line x1="21.6" y1="71.6" x2="22.3" y2="71.6" stroke="#000" stroke-width="0.25"/>
<line x1="21.6" y1="69.5" x2="22.3" y2="69.5" stroke="#000" stroke-width="0.25"/>
<line x1="21.6" y1="67.7" x2="22.3" y2="67.7" stroke="#000" stroke-width="0.25"/>
<line x1="21.6" y1="66.1" x2="22.3" y2="66.1" stroke="#000" stroke-width="0.25"/>
<line x1="21.6" y1="64.7" x2="22.3" y2="64.7" stroke="#000" stroke-width="0.25"/>
<line x1="21.6" y1="55.4" x2="22.3" y2="55.4" stroke="#000" stroke-width="0.25"/>
<line x1="21.6" y1="50.7" x2="22.3" y2="50.7" stroke="#000" stroke-width="0.25"/>
<line x1="21.6" y1="47.3" x2="22.3" y2="47.3" stroke="#000" stroke-width="0.25"/>
<line x1="21.6" y1="44.7" x2="22.3" y2="44.7" stroke="#000" stroke-width="0.25"/>
<line x1="21.6" y1="42.6" x2="22.3" y2="42.6" stroke="#000" stroke-width="0.25"/>
<line x1="21.6" y1="40.8" x2="22.3" y2="40.8" stroke="#000" stroke-width="0.25"/>
<line x1="21.6" y1="39.2" x2="22.3" y2="39.2" stroke="#000" stroke-width="0.25"/>
<line x1="21.6" y1="37.8" x2="22.3" y2="37.8" stroke="#000" stroke-width="0.25"/>
<line x1="21.6" y1="28.5" x2="22.3" y2="28.5" stroke="#000" stroke-width="0.25"/>
<line x1="21.6" y1="23.8" x2="22.3" y2="23.8" stroke="#000" stroke-width="0.25"/>
<line x1="21.6" y1="20.4" x2="22.3" y2="20.4" stroke="#000" stroke-width="0.25"/>
<line x1="21.6" y1="17.8" x2="22.3" y2="17.8" stroke="#000" stroke-width="0.25"/>
<line x1="21.6" y1="15.7" x2="22.3" y2="15.7" stroke="#000" stroke-width="0.25"/>
<line x1="21.6" y1="13.9" x2="22.3" y2="13.9" stroke="#000" stroke-width="0.25"/>
<line x1="21.6" y1="12.3" x2="22.3" y2="12.3" stroke="#000" stroke-width="0.25"/>
<line x1="21.6" y1="10.9" x2="22.3" y2="10.9" stroke="#000" stroke-width="0.25"/>
<text transform="translate(94.2,156.8) scale(0.9,1)" class="lb" text-anchor="middle">iteration</text>
<text transform="translate(7.3,75.1) scale(0.9,1) rotate(-90)" class="lb" text-anchor="middle" style="font-size:5.3px">MSE</text>
<rect x="142.9" y="6.1" width="22.3" height="25.3" rx="0.6" fill="#fff" fill-opacity="0.8" stroke="#ccc" stroke-width="0.25"/>
<line x1="144.3" y1="8.7" x2="151.5" y2="8.7" stroke="#ff0000" stroke-opacity="0.8" stroke-width="0.55"/>
<text transform="translate(153.4,9.9) scale(0.9,1)" class="lg">case 1</text>
<line x1="144.3" y1="13.5" x2="151.5" y2="13.5" stroke="#008000" stroke-opacity="0.8" stroke-width="0.55"/>
<text transform="translate(153.4,14.7) scale(0.9,1)" class="lg">case 2</text>
<line x1="144.3" y1="18.3" x2="151.5" y2="18.3" stroke="#8a2be2" stroke-opacity="0.8" stroke-width="0.55"/>
<text transform="translate(153.4,19.5) scale(0.9,1)" class="lg">case 3</text>
<line x1="144.3" y1="23.1" x2="151.5" y2="23.1" stroke="#ffa07a" stroke-opacity="0.8" stroke-width="0.55"/>
<text transform="translate(153.4,24.3) scale(0.9,1)" class="lg">case 4</text>
<line x1="144.3" y1="27.9" x2="151.5" y2="27.9" stroke="#00ffff" stroke-opacity="0.8" stroke-width="0.55"/>
<text transform="translate(153.4,29.1) scale(0.9,1)" class="lg">case 5</text>
<text transform="translate(55.8,174.3) scale(0.86,1)" class="cap" text-anchor="end">(e)</text>
<text transform="translate(58.9,174.3) scale(0.86,1)" class="cap it">β</text>
<text transform="translate(63.7,175.3) scale(0.86,1)" class="cap sub">2</text>
<text transform="translate(71.5,174.3) scale(0.86,1)" class="cap">(</text>
<text transform="translate(74.2,174.3) scale(0.86,1)" class="cap it">β</text>
<text transform="translate(79,175.3) scale(0.86,1)" class="cap sub">1</text>
<text transform="translate(87,174.3) scale(1.2,1)" class="cap">=</text>
<text transform="translate(95.5,174.3) scale(0.86,1)" class="cap">45.66<tspan class="deg" dy="-0.3">°</tspan></text>
<text transform="translate(118.8,174.3) scale(0.86,1)" class="cap">)</text>
<rect x="193.3" y="4.2" width="144.1" height="140.1" fill="none" stroke="#000" stroke-width="0.35"/>
<line x1="199.9" y1="144.3" x2="199.9" y2="145.6" stroke="#000" stroke-width="0.3"/>
<text transform="translate(199.9,150.5) scale(0.9,1)" class="tk" text-anchor="middle">0</text>
<line x1="216.2" y1="144.3" x2="216.2" y2="145.6" stroke="#000" stroke-width="0.3"/>
<text transform="translate(216.2,150.5) scale(0.9,1)" class="tk" text-anchor="middle">500</text>
<line x1="232.6" y1="144.3" x2="232.6" y2="145.6" stroke="#000" stroke-width="0.3"/>
<text transform="translate(232.6,150.5) scale(0.9,1)" class="tk" text-anchor="middle">1000</text>
<line x1="249" y1="144.3" x2="249" y2="145.6" stroke="#000" stroke-width="0.3"/>
<text transform="translate(249,150.5) scale(0.9,1)" class="tk" text-anchor="middle">1500</text>
<line x1="265.4" y1="144.3" x2="265.4" y2="145.6" stroke="#000" stroke-width="0.3"/>
<text transform="translate(265.4,150.5) scale(0.9,1)" class="tk" text-anchor="middle">2000</text>
<line x1="281.7" y1="144.3" x2="281.7" y2="145.6" stroke="#000" stroke-width="0.3"/>
<text transform="translate(281.7,150.5) scale(0.9,1)" class="tk" text-anchor="middle">2500</text>
<line x1="298.1" y1="144.3" x2="298.1" y2="145.6" stroke="#000" stroke-width="0.3"/>
<text transform="translate(298.1,150.5) scale(0.9,1)" class="tk" text-anchor="middle">3000</text>
<line x1="314.5" y1="144.3" x2="314.5" y2="145.6" stroke="#000" stroke-width="0.3"/>
<text transform="translate(314.5,150.5) scale(0.9,1)" class="tk" text-anchor="middle">3500</text>
<line x1="330.9" y1="144.3" x2="330.9" y2="145.6" stroke="#000" stroke-width="0.3"/>
<text transform="translate(330.9,150.5) scale(0.9,1)" class="tk" text-anchor="middle">4000</text>
<line x1="192" y1="10.7" x2="193.3" y2="10.7" stroke="#000" stroke-width="0.3"/>
<text transform="translate(191.1,12.4) scale(0.9,1)" class="tk" text-anchor="end">10<tspan class="sup" dy="-1.7">−2</tspan></text>
<line x1="192" y1="44.9" x2="193.3" y2="44.9" stroke="#000" stroke-width="0.3"/>
<text transform="translate(191.1,46.6) scale(0.9,1)" class="tk" text-anchor="end">10<tspan class="sup" dy="-1.7">−3</tspan></text>
<line x1="192" y1="79.1" x2="193.3" y2="79.1" stroke="#000" stroke-width="0.3"/>
<text transform="translate(191.1,80.8) scale(0.9,1)" class="tk" text-anchor="end">10<tspan class="sup" dy="-1.7">−4</tspan></text>
<line x1="192" y1="113.3" x2="193.3" y2="113.3" stroke="#000" stroke-width="0.3"/>
<text transform="translate(191.1,115) scale(0.9,1)" class="tk" text-anchor="end">10<tspan class="sup" dy="-1.7">−5</tspan></text>
<line x1="192.6" y1="137.2" x2="193.3" y2="137.2" stroke="#000" stroke-width="0.25"/>
<line x1="192.6" y1="131.2" x2="193.3" y2="131.2" stroke="#000" stroke-width="0.25"/>
<line x1="192.6" y1="126.9" x2="193.3" y2="126.9" stroke="#000" stroke-width="0.25"/>
<line x1="192.6" y1="123.6" x2="193.3" y2="123.6" stroke="#000" stroke-width="0.25"/>
<line x1="192.6" y1="120.9" x2="193.3" y2="120.9" stroke="#000" stroke-width="0.25"/>
<line x1="192.6" y1="118.6" x2="193.3" y2="118.6" stroke="#000" stroke-width="0.25"/>
<line x1="192.6" y1="116.6" x2="193.3" y2="116.6" stroke="#000" stroke-width="0.25"/>
<line x1="192.6" y1="114.9" x2="193.3" y2="114.9" stroke="#000" stroke-width="0.25"/>
<line x1="192.6" y1="103" x2="193.3" y2="103" stroke="#000" stroke-width="0.25"/>
<line x1="192.6" y1="97" x2="193.3" y2="97" stroke="#000" stroke-width="0.25"/>
<line x1="192.6" y1="92.7" x2="193.3" y2="92.7" stroke="#000" stroke-width="0.25"/>
<line x1="192.6" y1="89.4" x2="193.3" y2="89.4" stroke="#000" stroke-width="0.25"/>
<line x1="192.6" y1="86.7" x2="193.3" y2="86.7" stroke="#000" stroke-width="0.25"/>
<line x1="192.6" y1="84.4" x2="193.3" y2="84.4" stroke="#000" stroke-width="0.25"/>
<line x1="192.6" y1="82.4" x2="193.3" y2="82.4" stroke="#000" stroke-width="0.25"/>
<line x1="192.6" y1="80.7" x2="193.3" y2="80.7" stroke="#000" stroke-width="0.25"/>
<line x1="192.6" y1="68.8" x2="193.3" y2="68.8" stroke="#000" stroke-width="0.25"/>
<line x1="192.6" y1="62.8" x2="193.3" y2="62.8" stroke="#000" stroke-width="0.25"/>
<line x1="192.6" y1="58.5" x2="193.3" y2="58.5" stroke="#000" stroke-width="0.25"/>
<line x1="192.6" y1="55.2" x2="193.3" y2="55.2" stroke="#000" stroke-width="0.25"/>
<line x1="192.6" y1="52.5" x2="193.3" y2="52.5" stroke="#000" stroke-width="0.25"/>
<line x1="192.6" y1="50.2" x2="193.3" y2="50.2" stroke="#000" stroke-width="0.25"/>
<line x1="192.6" y1="48.2" x2="193.3" y2="48.2" stroke="#000" stroke-width="0.25"/>
<line x1="192.6" y1="46.5" x2="193.3" y2="46.5" stroke="#000" stroke-width="0.25"/>
<line x1="192.6" y1="34.6" x2="193.3" y2="34.6" stroke="#000" stroke-width="0.25"/>
<line x1="192.6" y1="28.6" x2="193.3" y2="28.6" stroke="#000" stroke-width="0.25"/>
<line x1="192.6" y1="24.3" x2="193.3" y2="24.3" stroke="#000" stroke-width="0.25"/>
<line x1="192.6" y1="21" x2="193.3" y2="21" stroke="#000" stroke-width="0.25"/>
<line x1="192.6" y1="18.3" x2="193.3" y2="18.3" stroke="#000" stroke-width="0.25"/>
<line x1="192.6" y1="16" x2="193.3" y2="16" stroke="#000" stroke-width="0.25"/>
<line x1="192.6" y1="14" x2="193.3" y2="14" stroke="#000" stroke-width="0.25"/>
<line x1="192.6" y1="12.3" x2="193.3" y2="12.3" stroke="#000" stroke-width="0.25"/>
<text transform="translate(265.4,156.7) scale(0.9,1)" class="lb" text-anchor="middle">iteration</text>
<text transform="translate(178.3,74.8) scale(0.9,1) rotate(-90)" class="lb" text-anchor="middle" style="font-size:5.3px">MSE</text>
<rect x="314.1" y="5.7" width="22.3" height="25.3" rx="0.6" fill="#fff" fill-opacity="0.8" stroke="#ccc" stroke-width="0.25"/>
<line x1="315.5" y1="8.3" x2="322.7" y2="8.3" stroke="#ff0000" stroke-opacity="0.8" stroke-width="0.55"/>
<text transform="translate(324.6,9.5) scale(0.9,1)" class="lg">case 1</text>
<line x1="315.5" y1="13.1" x2="322.7" y2="13.1" stroke="#008000" stroke-opacity="0.8" stroke-width="0.55"/>
<text transform="translate(324.6,14.3) scale(0.9,1)" class="lg">case 2</text>
<line x1="315.5" y1="17.9" x2="322.7" y2="17.9" stroke="#8a2be2" stroke-opacity="0.8" stroke-width="0.55"/>
<text transform="translate(324.6,19.1) scale(0.9,1)" class="lg">case 3</text>
<line x1="315.5" y1="22.7" x2="322.7" y2="22.7" stroke="#ffa07a" stroke-opacity="0.8" stroke-width="0.55"/>
<text transform="translate(324.6,23.9) scale(0.9,1)" class="lg">case 4</text>
<line x1="315.5" y1="27.5" x2="322.7" y2="27.5" stroke="#00ffff" stroke-opacity="0.8" stroke-width="0.55"/>
<text transform="translate(324.6,28.7) scale(0.9,1)" class="lg">case 5</text>
<text transform="translate(226.4,174.3) scale(0.86,1)" class="cap" text-anchor="end">(f)</text>
<text transform="translate(229.5,174.3) scale(0.86,1)" class="cap it">β</text>
<text transform="translate(234.3,175.3) scale(0.86,1)" class="cap sub">2</text>
<text transform="translate(242.1,174.3) scale(0.86,1)" class="cap">(</text>
<text transform="translate(244.8,174.3) scale(0.86,1)" class="cap it">β</text>
<text transform="translate(249.6,175.3) scale(0.86,1)" class="cap sub">1</text>
<text transform="translate(257.6,174.3) scale(1.2,1)" class="cap">=</text>
<text transform="translate(266.1,174.3) scale(0.86,1)" class="cap">46.66<tspan class="deg" dy="-0.3">°</tspan></text>
<text transform="translate(289.4,174.3) scale(0.86,1)" class="cap">)</text>
<rect x="22.4" y="190" width="144" height="139.8" fill="none" stroke="#000" stroke-width="0.35"/>
<line x1="28.9" y1="329.8" x2="28.9" y2="331.1" stroke="#000" stroke-width="0.3"/>
<text transform="translate(28.9,336) scale(0.9,1)" class="tk" text-anchor="middle">0</text>
<line x1="45.3" y1="329.8" x2="45.3" y2="331.1" stroke="#000" stroke-width="0.3"/>
<text transform="translate(45.3,336) scale(0.9,1)" class="tk" text-anchor="middle">500</text>
<line x1="61.7" y1="329.8" x2="61.7" y2="331.1" stroke="#000" stroke-width="0.3"/>
<text transform="translate(61.7,336) scale(0.9,1)" class="tk" text-anchor="middle">1000</text>
<line x1="78" y1="329.8" x2="78" y2="331.1" stroke="#000" stroke-width="0.3"/>
<text transform="translate(78,336) scale(0.9,1)" class="tk" text-anchor="middle">1500</text>
<line x1="94.4" y1="329.8" x2="94.4" y2="331.1" stroke="#000" stroke-width="0.3"/>
<text transform="translate(94.4,336) scale(0.9,1)" class="tk" text-anchor="middle">2000</text>
<line x1="110.8" y1="329.8" x2="110.8" y2="331.1" stroke="#000" stroke-width="0.3"/>
<text transform="translate(110.8,336) scale(0.9,1)" class="tk" text-anchor="middle">2500</text>
<line x1="127.2" y1="329.8" x2="127.2" y2="331.1" stroke="#000" stroke-width="0.3"/>
<text transform="translate(127.2,336) scale(0.9,1)" class="tk" text-anchor="middle">3000</text>
<line x1="143.5" y1="329.8" x2="143.5" y2="331.1" stroke="#000" stroke-width="0.3"/>
<text transform="translate(143.5,336) scale(0.9,1)" class="tk" text-anchor="middle">3500</text>
<line x1="159.9" y1="329.8" x2="159.9" y2="331.1" stroke="#000" stroke-width="0.3"/>
<text transform="translate(159.9,336) scale(0.9,1)" class="tk" text-anchor="middle">4000</text>
<line x1="21.1" y1="195" x2="22.4" y2="195" stroke="#000" stroke-width="0.3"/>
<text transform="translate(20.2,196.7) scale(0.9,1)" class="tk" text-anchor="end">10<tspan class="sup" dy="-1.7">−2</tspan></text>
<line x1="21.1" y1="230" x2="22.4" y2="230" stroke="#000" stroke-width="0.3"/>
<text transform="translate(20.2,231.7) scale(0.9,1)" class="tk" text-anchor="end">10<tspan class="sup" dy="-1.7">−3</tspan></text>
<line x1="21.1" y1="264.9" x2="22.4" y2="264.9" stroke="#000" stroke-width="0.3"/>
<text transform="translate(20.2,266.6) scale(0.9,1)" class="tk" text-anchor="end">10<tspan class="sup" dy="-1.7">−4</tspan></text>
<line x1="21.1" y1="299.9" x2="22.4" y2="299.9" stroke="#000" stroke-width="0.3"/>
<text transform="translate(20.2,301.6) scale(0.9,1)" class="tk" text-anchor="end">10<tspan class="sup" dy="-1.7">−5</tspan></text>
<line x1="21.7" y1="324.4" x2="22.4" y2="324.4" stroke="#000" stroke-width="0.25"/>
<line x1="21.7" y1="318.2" x2="22.4" y2="318.2" stroke="#000" stroke-width="0.25"/>
<line x1="21.7" y1="313.8" x2="22.4" y2="313.8" stroke="#000" stroke-width="0.25"/>
<line x1="21.7" y1="310.4" x2="22.4" y2="310.4" stroke="#000" stroke-width="0.25"/>
<line x1="21.7" y1="307.7" x2="22.4" y2="307.7" stroke="#000" stroke-width="0.25"/>
<line x1="21.7" y1="305.3" x2="22.4" y2="305.3" stroke="#000" stroke-width="0.25"/>
<line x1="21.7" y1="303.3" x2="22.4" y2="303.3" stroke="#000" stroke-width="0.25"/>
<line x1="21.7" y1="301.5" x2="22.4" y2="301.5" stroke="#000" stroke-width="0.25"/>
<line x1="21.7" y1="289.4" x2="22.4" y2="289.4" stroke="#000" stroke-width="0.25"/>
<line x1="21.7" y1="283.2" x2="22.4" y2="283.2" stroke="#000" stroke-width="0.25"/>
<line x1="21.7" y1="278.9" x2="22.4" y2="278.9" stroke="#000" stroke-width="0.25"/>
<line x1="21.7" y1="275.5" x2="22.4" y2="275.5" stroke="#000" stroke-width="0.25"/>
<line x1="21.7" y1="272.7" x2="22.4" y2="272.7" stroke="#000" stroke-width="0.25"/>
<line x1="21.7" y1="270.4" x2="22.4" y2="270.4" stroke="#000" stroke-width="0.25"/>
<line x1="21.7" y1="268.3" x2="22.4" y2="268.3" stroke="#000" stroke-width="0.25"/>
<line x1="21.7" y1="266.5" x2="22.4" y2="266.5" stroke="#000" stroke-width="0.25"/>
<line x1="21.7" y1="254.4" x2="22.4" y2="254.4" stroke="#000" stroke-width="0.25"/>
<line x1="21.7" y1="248.3" x2="22.4" y2="248.3" stroke="#000" stroke-width="0.25"/>
<line x1="21.7" y1="243.9" x2="22.4" y2="243.9" stroke="#000" stroke-width="0.25"/>
<line x1="21.7" y1="240.5" x2="22.4" y2="240.5" stroke="#000" stroke-width="0.25"/>
<line x1="21.7" y1="237.7" x2="22.4" y2="237.7" stroke="#000" stroke-width="0.25"/>
<line x1="21.7" y1="235.4" x2="22.4" y2="235.4" stroke="#000" stroke-width="0.25"/>
<line x1="21.7" y1="233.4" x2="22.4" y2="233.4" stroke="#000" stroke-width="0.25"/>
<line x1="21.7" y1="231.6" x2="22.4" y2="231.6" stroke="#000" stroke-width="0.25"/>
<line x1="21.7" y1="219.4" x2="22.4" y2="219.4" stroke="#000" stroke-width="0.25"/>
<line x1="21.7" y1="213.3" x2="22.4" y2="213.3" stroke="#000" stroke-width="0.25"/>
<line x1="21.7" y1="208.9" x2="22.4" y2="208.9" stroke="#000" stroke-width="0.25"/>
<line x1="21.7" y1="205.5" x2="22.4" y2="205.5" stroke="#000" stroke-width="0.25"/>
<line x1="21.7" y1="202.8" x2="22.4" y2="202.8" stroke="#000" stroke-width="0.25"/>
<line x1="21.7" y1="200.4" x2="22.4" y2="200.4" stroke="#000" stroke-width="0.25"/>
<line x1="21.7" y1="198.4" x2="22.4" y2="198.4" stroke="#000" stroke-width="0.25"/>
<line x1="21.7" y1="196.6" x2="22.4" y2="196.6" stroke="#000" stroke-width="0.25"/>
<text transform="translate(94.4,342.2) scale(0.9,1)" class="lb" text-anchor="middle">iteration</text>
<text transform="translate(7.4,260.5) scale(0.9,1) rotate(-90)" class="lb" text-anchor="middle" style="font-size:5.3px">MSE</text>
<rect x="143.1" y="191.5" width="22.3" height="25.3" rx="0.6" fill="#fff" fill-opacity="0.8" stroke="#ccc" stroke-width="0.25"/>
<line x1="144.5" y1="194.1" x2="151.7" y2="194.1" stroke="#ff0000" stroke-opacity="0.8" stroke-width="0.55"/>
<text transform="translate(153.6,195.3) scale(0.9,1)" class="lg">case 1</text>
<line x1="144.5" y1="198.9" x2="151.7" y2="198.9" stroke="#008000" stroke-opacity="0.8" stroke-width="0.55"/>
<text transform="translate(153.6,200.1) scale(0.9,1)" class="lg">case 2</text>
<line x1="144.5" y1="203.7" x2="151.7" y2="203.7" stroke="#8a2be2" stroke-opacity="0.8" stroke-width="0.55"/>
<text transform="translate(153.6,204.9) scale(0.9,1)" class="lg">case 3</text>
<line x1="144.5" y1="208.5" x2="151.7" y2="208.5" stroke="#ffa07a" stroke-opacity="0.8" stroke-width="0.55"/>
<text transform="translate(153.6,209.7) scale(0.9,1)" class="lg">case 4</text>
<line x1="144.5" y1="213.3" x2="151.7" y2="213.3" stroke="#00ffff" stroke-opacity="0.8" stroke-width="0.55"/>
<text transform="translate(153.6,214.5) scale(0.9,1)" class="lg">case 5</text>
<text transform="translate(55.8,360.3) scale(0.86,1)" class="cap" text-anchor="end">(g)</text>
<text transform="translate(58.9,360.3) scale(0.86,1)" class="cap it">β</text>
<text transform="translate(63.7,361.3) scale(0.86,1)" class="cap sub">2</text>
<text transform="translate(71.5,360.3) scale(0.86,1)" class="cap">(</text>
<text transform="translate(74.2,360.3) scale(0.86,1)" class="cap it">β</text>
<text transform="translate(79,361.3) scale(0.86,1)" class="cap sub">1</text>
<text transform="translate(87,360.3) scale(1.2,1)" class="cap">=</text>
<text transform="translate(95.5,360.3) scale(0.86,1)" class="cap">47.66<tspan class="deg" dy="-0.3">°</tspan></text>
<text transform="translate(118.8,360.3) scale(0.86,1)" class="cap">)</text>
<rect x="193.4" y="190" width="144" height="139.8" fill="none" stroke="#000" stroke-width="0.35"/>
<line x1="199.9" y1="329.8" x2="199.9" y2="331.1" stroke="#000" stroke-width="0.3"/>
<text transform="translate(199.9,336) scale(0.9,1)" class="tk" text-anchor="middle">0</text>
<line x1="216.3" y1="329.8" x2="216.3" y2="331.1" stroke="#000" stroke-width="0.3"/>
<text transform="translate(216.3,336) scale(0.9,1)" class="tk" text-anchor="middle">500</text>
<line x1="232.7" y1="329.8" x2="232.7" y2="331.1" stroke="#000" stroke-width="0.3"/>
<text transform="translate(232.7,336) scale(0.9,1)" class="tk" text-anchor="middle">1000</text>
<line x1="249" y1="329.8" x2="249" y2="331.1" stroke="#000" stroke-width="0.3"/>
<text transform="translate(249,336) scale(0.9,1)" class="tk" text-anchor="middle">1500</text>
<line x1="265.4" y1="329.8" x2="265.4" y2="331.1" stroke="#000" stroke-width="0.3"/>
<text transform="translate(265.4,336) scale(0.9,1)" class="tk" text-anchor="middle">2000</text>
<line x1="281.8" y1="329.8" x2="281.8" y2="331.1" stroke="#000" stroke-width="0.3"/>
<text transform="translate(281.8,336) scale(0.9,1)" class="tk" text-anchor="middle">2500</text>
<line x1="298.2" y1="329.8" x2="298.2" y2="331.1" stroke="#000" stroke-width="0.3"/>
<text transform="translate(298.2,336) scale(0.9,1)" class="tk" text-anchor="middle">3000</text>
<line x1="314.5" y1="329.8" x2="314.5" y2="331.1" stroke="#000" stroke-width="0.3"/>
<text transform="translate(314.5,336) scale(0.9,1)" class="tk" text-anchor="middle">3500</text>
<line x1="330.9" y1="329.8" x2="330.9" y2="331.1" stroke="#000" stroke-width="0.3"/>
<text transform="translate(330.9,336) scale(0.9,1)" class="tk" text-anchor="middle">4000</text>
<line x1="192.1" y1="196.2" x2="193.4" y2="196.2" stroke="#000" stroke-width="0.3"/>
<text transform="translate(191.2,197.9) scale(0.9,1)" class="tk" text-anchor="end">10<tspan class="sup" dy="-1.7">−2</tspan></text>
<line x1="192.1" y1="224.4" x2="193.4" y2="224.4" stroke="#000" stroke-width="0.3"/>
<text transform="translate(191.2,226.1) scale(0.9,1)" class="tk" text-anchor="end">10<tspan class="sup" dy="-1.7">−3</tspan></text>
<line x1="192.1" y1="252.6" x2="193.4" y2="252.6" stroke="#000" stroke-width="0.3"/>
<text transform="translate(191.2,254.3) scale(0.9,1)" class="tk" text-anchor="end">10<tspan class="sup" dy="-1.7">−4</tspan></text>
<line x1="192.1" y1="280.8" x2="193.4" y2="280.8" stroke="#000" stroke-width="0.3"/>
<text transform="translate(191.2,282.5) scale(0.9,1)" class="tk" text-anchor="end">10<tspan class="sup" dy="-1.7">−5</tspan></text>
<line x1="192.1" y1="309" x2="193.4" y2="309" stroke="#000" stroke-width="0.3"/>
<text transform="translate(191.2,310.7) scale(0.9,1)" class="tk" text-anchor="end">10<tspan class="sup" dy="-1.7">−6</tspan></text>
<line x1="192.7" y1="328.7" x2="193.4" y2="328.7" stroke="#000" stroke-width="0.25"/>
<line x1="192.7" y1="323.7" x2="193.4" y2="323.7" stroke="#000" stroke-width="0.25"/>
<line x1="192.7" y1="320.2" x2="193.4" y2="320.2" stroke="#000" stroke-width="0.25"/>
<line x1="192.7" y1="317.5" x2="193.4" y2="317.5" stroke="#000" stroke-width="0.25"/>
<line x1="192.7" y1="315.3" x2="193.4" y2="315.3" stroke="#000" stroke-width="0.25"/>
<line x1="192.7" y1="313.4" x2="193.4" y2="313.4" stroke="#000" stroke-width="0.25"/>
<line x1="192.7" y1="311.7" x2="193.4" y2="311.7" stroke="#000" stroke-width="0.25"/>
<line x1="192.7" y1="310.3" x2="193.4" y2="310.3" stroke="#000" stroke-width="0.25"/>
<line x1="192.7" y1="300.5" x2="193.4" y2="300.5" stroke="#000" stroke-width="0.25"/>
<line x1="192.7" y1="295.5" x2="193.4" y2="295.5" stroke="#000" stroke-width="0.25"/>
<line x1="192.7" y1="292" x2="193.4" y2="292" stroke="#000" stroke-width="0.25"/>
<line x1="192.7" y1="289.3" x2="193.4" y2="289.3" stroke="#000" stroke-width="0.25"/>
<line x1="192.7" y1="287.1" x2="193.4" y2="287.1" stroke="#000" stroke-width="0.25"/>
<line x1="192.7" y1="285.2" x2="193.4" y2="285.2" stroke="#000" stroke-width="0.25"/>
<line x1="192.7" y1="283.5" x2="193.4" y2="283.5" stroke="#000" stroke-width="0.25"/>
<line x1="192.7" y1="282.1" x2="193.4" y2="282.1" stroke="#000" stroke-width="0.25"/>
<line x1="192.7" y1="272.3" x2="193.4" y2="272.3" stroke="#000" stroke-width="0.25"/>
<line x1="192.7" y1="267.3" x2="193.4" y2="267.3" stroke="#000" stroke-width="0.25"/>
<line x1="192.7" y1="263.8" x2="193.4" y2="263.8" stroke="#000" stroke-width="0.25"/>
<line x1="192.7" y1="261.1" x2="193.4" y2="261.1" stroke="#000" stroke-width="0.25"/>
<line x1="192.7" y1="258.9" x2="193.4" y2="258.9" stroke="#000" stroke-width="0.25"/>
<line x1="192.7" y1="257" x2="193.4" y2="257" stroke="#000" stroke-width="0.25"/>
<line x1="192.7" y1="255.3" x2="193.4" y2="255.3" stroke="#000" stroke-width="0.25"/>
<line x1="192.7" y1="253.9" x2="193.4" y2="253.9" stroke="#000" stroke-width="0.25"/>
<line x1="192.7" y1="244.1" x2="193.4" y2="244.1" stroke="#000" stroke-width="0.25"/>
<line x1="192.7" y1="239.1" x2="193.4" y2="239.1" stroke="#000" stroke-width="0.25"/>
<line x1="192.7" y1="235.6" x2="193.4" y2="235.6" stroke="#000" stroke-width="0.25"/>
<line x1="192.7" y1="232.9" x2="193.4" y2="232.9" stroke="#000" stroke-width="0.25"/>
<line x1="192.7" y1="230.7" x2="193.4" y2="230.7" stroke="#000" stroke-width="0.25"/>
<line x1="192.7" y1="228.8" x2="193.4" y2="228.8" stroke="#000" stroke-width="0.25"/>
<line x1="192.7" y1="227.1" x2="193.4" y2="227.1" stroke="#000" stroke-width="0.25"/>
<line x1="192.7" y1="225.7" x2="193.4" y2="225.7" stroke="#000" stroke-width="0.25"/>
<line x1="192.7" y1="215.9" x2="193.4" y2="215.9" stroke="#000" stroke-width="0.25"/>
<line x1="192.7" y1="210.9" x2="193.4" y2="210.9" stroke="#000" stroke-width="0.25"/>
<line x1="192.7" y1="207.4" x2="193.4" y2="207.4" stroke="#000" stroke-width="0.25"/>
<line x1="192.7" y1="204.7" x2="193.4" y2="204.7" stroke="#000" stroke-width="0.25"/>
<line x1="192.7" y1="202.5" x2="193.4" y2="202.5" stroke="#000" stroke-width="0.25"/>
<line x1="192.7" y1="200.6" x2="193.4" y2="200.6" stroke="#000" stroke-width="0.25"/>
<line x1="192.7" y1="198.9" x2="193.4" y2="198.9" stroke="#000" stroke-width="0.25"/>
<line x1="192.7" y1="197.5" x2="193.4" y2="197.5" stroke="#000" stroke-width="0.25"/>
<text transform="translate(265.4,342.2) scale(0.9,1)" class="lb" text-anchor="middle">iteration</text>
<text transform="translate(178.4,260.5) scale(0.9,1) rotate(-90)" class="lb" text-anchor="middle" style="font-size:5.3px">MSE</text>
<rect x="314.1" y="191.5" width="22.3" height="25.3" rx="0.6" fill="#fff" fill-opacity="0.8" stroke="#ccc" stroke-width="0.25"/>
<line x1="315.5" y1="194.1" x2="322.7" y2="194.1" stroke="#ff0000" stroke-opacity="0.8" stroke-width="0.55"/>
<text transform="translate(324.6,195.3) scale(0.9,1)" class="lg">case 1</text>
<line x1="315.5" y1="198.9" x2="322.7" y2="198.9" stroke="#008000" stroke-opacity="0.8" stroke-width="0.55"/>
<text transform="translate(324.6,200.1) scale(0.9,1)" class="lg">case 2</text>
<line x1="315.5" y1="203.7" x2="322.7" y2="203.7" stroke="#8a2be2" stroke-opacity="0.8" stroke-width="0.55"/>
<text transform="translate(324.6,204.9) scale(0.9,1)" class="lg">case 3</text>
<line x1="315.5" y1="208.5" x2="322.7" y2="208.5" stroke="#ffa07a" stroke-opacity="0.8" stroke-width="0.55"/>
<text transform="translate(324.6,209.7) scale(0.9,1)" class="lg">case 4</text>
<line x1="315.5" y1="213.3" x2="322.7" y2="213.3" stroke="#00ffff" stroke-opacity="0.8" stroke-width="0.55"/>
<text transform="translate(324.6,214.5) scale(0.9,1)" class="lg">case 5</text>
<text transform="translate(226.4,360.3) scale(0.86,1)" class="cap" text-anchor="end">(h)</text>
<text transform="translate(229.5,360.3) scale(0.86,1)" class="cap it">β</text>
<text transform="translate(234.3,361.3) scale(0.86,1)" class="cap sub">2</text>
<text transform="translate(242.1,360.3) scale(0.86,1)" class="cap">(</text>
<text transform="translate(244.8,360.3) scale(0.86,1)" class="cap it">β</text>
<text transform="translate(249.6,361.3) scale(0.86,1)" class="cap sub">1</text>
<text transform="translate(257.6,360.3) scale(1.2,1)" class="cap">=</text>
<text transform="translate(266.1,360.3) scale(0.86,1)" class="cap">48.66<tspan class="deg" dy="-0.3">°</tspan></text>
<text transform="translate(289.4,360.3) scale(0.86,1)" class="cap">)</text>
<rect x="108.2" y="375.3" width="143.9" height="140" fill="none" stroke="#000" stroke-width="0.35"/>
<line x1="114.7" y1="515.3" x2="114.7" y2="516.6" stroke="#000" stroke-width="0.3"/>
<text transform="translate(114.7,521.5) scale(0.9,1)" class="tk" text-anchor="middle">0</text>
<line x1="131.1" y1="515.3" x2="131.1" y2="516.6" stroke="#000" stroke-width="0.3"/>
<text transform="translate(131.1,521.5) scale(0.9,1)" class="tk" text-anchor="middle">500</text>
<line x1="147.5" y1="515.3" x2="147.5" y2="516.6" stroke="#000" stroke-width="0.3"/>
<text transform="translate(147.5,521.5) scale(0.9,1)" class="tk" text-anchor="middle">1000</text>
<line x1="163.8" y1="515.3" x2="163.8" y2="516.6" stroke="#000" stroke-width="0.3"/>
<text transform="translate(163.8,521.5) scale(0.9,1)" class="tk" text-anchor="middle">1500</text>
<line x1="180.2" y1="515.3" x2="180.2" y2="516.6" stroke="#000" stroke-width="0.3"/>
<text transform="translate(180.2,521.5) scale(0.9,1)" class="tk" text-anchor="middle">2000</text>
<line x1="196.5" y1="515.3" x2="196.5" y2="516.6" stroke="#000" stroke-width="0.3"/>
<text transform="translate(196.5,521.5) scale(0.9,1)" class="tk" text-anchor="middle">2500</text>
<line x1="212.9" y1="515.3" x2="212.9" y2="516.6" stroke="#000" stroke-width="0.3"/>
<text transform="translate(212.9,521.5) scale(0.9,1)" class="tk" text-anchor="middle">3000</text>
<line x1="229.2" y1="515.3" x2="229.2" y2="516.6" stroke="#000" stroke-width="0.3"/>
<text transform="translate(229.2,521.5) scale(0.9,1)" class="tk" text-anchor="middle">3500</text>
<line x1="245.6" y1="515.3" x2="245.6" y2="516.6" stroke="#000" stroke-width="0.3"/>
<text transform="translate(245.6,521.5) scale(0.9,1)" class="tk" text-anchor="middle">4000</text>
<line x1="106.9" y1="382.5" x2="108.2" y2="382.5" stroke="#000" stroke-width="0.3"/>
<text transform="translate(106,384.2) scale(0.9,1)" class="tk" text-anchor="end">10<tspan class="sup" dy="-1.7">−2</tspan></text>
<line x1="106.9" y1="428" x2="108.2" y2="428" stroke="#000" stroke-width="0.3"/>
<text transform="translate(106,429.7) scale(0.9,1)" class="tk" text-anchor="end">10<tspan class="sup" dy="-1.7">−3</tspan></text>
<line x1="106.9" y1="473.5" x2="108.2" y2="473.5" stroke="#000" stroke-width="0.3"/>
<text transform="translate(106,475.2) scale(0.9,1)" class="tk" text-anchor="end">10<tspan class="sup" dy="-1.7">−4</tspan></text>
<line x1="107.5" y1="505.3" x2="108.2" y2="505.3" stroke="#000" stroke-width="0.25"/>
<line x1="107.5" y1="497.3" x2="108.2" y2="497.3" stroke="#000" stroke-width="0.25"/>
<line x1="107.5" y1="491.6" x2="108.2" y2="491.6" stroke="#000" stroke-width="0.25"/>
<line x1="107.5" y1="487.2" x2="108.2" y2="487.2" stroke="#000" stroke-width="0.25"/>
<line x1="107.5" y1="483.6" x2="108.2" y2="483.6" stroke="#000" stroke-width="0.25"/>
<line x1="107.5" y1="480.5" x2="108.2" y2="480.5" stroke="#000" stroke-width="0.25"/>
<line x1="107.5" y1="477.9" x2="108.2" y2="477.9" stroke="#000" stroke-width="0.25"/>
<line x1="107.5" y1="475.6" x2="108.2" y2="475.6" stroke="#000" stroke-width="0.25"/>
<line x1="107.5" y1="459.8" x2="108.2" y2="459.8" stroke="#000" stroke-width="0.25"/>
<line x1="107.5" y1="451.8" x2="108.2" y2="451.8" stroke="#000" stroke-width="0.25"/>
<line x1="107.5" y1="446.1" x2="108.2" y2="446.1" stroke="#000" stroke-width="0.25"/>
<line x1="107.5" y1="441.7" x2="108.2" y2="441.7" stroke="#000" stroke-width="0.25"/>
<line x1="107.5" y1="438.1" x2="108.2" y2="438.1" stroke="#000" stroke-width="0.25"/>
<line x1="107.5" y1="435" x2="108.2" y2="435" stroke="#000" stroke-width="0.25"/>
<line x1="107.5" y1="432.4" x2="108.2" y2="432.4" stroke="#000" stroke-width="0.25"/>
<line x1="107.5" y1="430.1" x2="108.2" y2="430.1" stroke="#000" stroke-width="0.25"/>
<line x1="107.5" y1="414.3" x2="108.2" y2="414.3" stroke="#000" stroke-width="0.25"/>
<line x1="107.5" y1="406.3" x2="108.2" y2="406.3" stroke="#000" stroke-width="0.25"/>
<line x1="107.5" y1="400.6" x2="108.2" y2="400.6" stroke="#000" stroke-width="0.25"/>
<line x1="107.5" y1="396.2" x2="108.2" y2="396.2" stroke="#000" stroke-width="0.25"/>
<line x1="107.5" y1="392.6" x2="108.2" y2="392.6" stroke="#000" stroke-width="0.25"/>
<line x1="107.5" y1="389.5" x2="108.2" y2="389.5" stroke="#000" stroke-width="0.25"/>
<line x1="107.5" y1="386.9" x2="108.2" y2="386.9" stroke="#000" stroke-width="0.25"/>
<line x1="107.5" y1="384.6" x2="108.2" y2="384.6" stroke="#000" stroke-width="0.25"/>
<text transform="translate(180.2,527.7) scale(0.9,1)" class="lb" text-anchor="middle">iteration</text>
<text transform="translate(93.2,445.9) scale(0.9,1) rotate(-90)" class="lb" text-anchor="middle" style="font-size:5.3px">MSE</text>
<rect x="228.8" y="376.8" width="22.3" height="25.3" rx="0.6" fill="#fff" fill-opacity="0.8" stroke="#ccc" stroke-width="0.25"/>
<line x1="230.2" y1="379.4" x2="237.4" y2="379.4" stroke="#ff0000" stroke-opacity="0.8" stroke-width="0.55"/>
<text transform="translate(239.3,380.6) scale(0.9,1)" class="lg">case 1</text>
<line x1="230.2" y1="384.2" x2="237.4" y2="384.2" stroke="#008000" stroke-opacity="0.8" stroke-width="0.55"/>
<text transform="translate(239.3,385.4) scale(0.9,1)" class="lg">case 2</text>
<line x1="230.2" y1="389" x2="237.4" y2="389" stroke="#8a2be2" stroke-opacity="0.8" stroke-width="0.55"/>
<text transform="translate(239.3,390.2) scale(0.9,1)" class="lg">case 3</text>
<line x1="230.2" y1="393.8" x2="237.4" y2="393.8" stroke="#ffa07a" stroke-opacity="0.8" stroke-width="0.55"/>
<text transform="translate(239.3,395) scale(0.9,1)" class="lg">case 4</text>
<line x1="230.2" y1="398.6" x2="237.4" y2="398.6" stroke="#00ffff" stroke-opacity="0.8" stroke-width="0.55"/>
<text transform="translate(239.3,399.8) scale(0.9,1)" class="lg">case 5</text>
<text transform="translate(139.4,545.3) scale(0.86,1)" class="cap" text-anchor="end">(i)</text>
<text transform="translate(142.5,545.3) scale(0.86,1)" class="cap it">β</text>
<text transform="translate(147.3,546.3) scale(0.86,1)" class="cap sub">2</text>
<text transform="translate(155.1,545.3) scale(0.86,1)" class="cap">(</text>
<text transform="translate(157.8,545.3) scale(0.86,1)" class="cap it">β</text>
<text transform="translate(162.6,546.3) scale(0.86,1)" class="cap sub">1</text>
<text transform="translate(170.6,545.3) scale(1.2,1)" class="cap">=</text>
<text transform="translate(179.1,545.3) scale(0.86,1)" class="cap">49.66<tspan class="deg" dy="-0.3">°</tspan></text>
<text transform="translate(202.4,545.3) scale(0.86,1)" class="cap">)</text>
</svg></body></html>
